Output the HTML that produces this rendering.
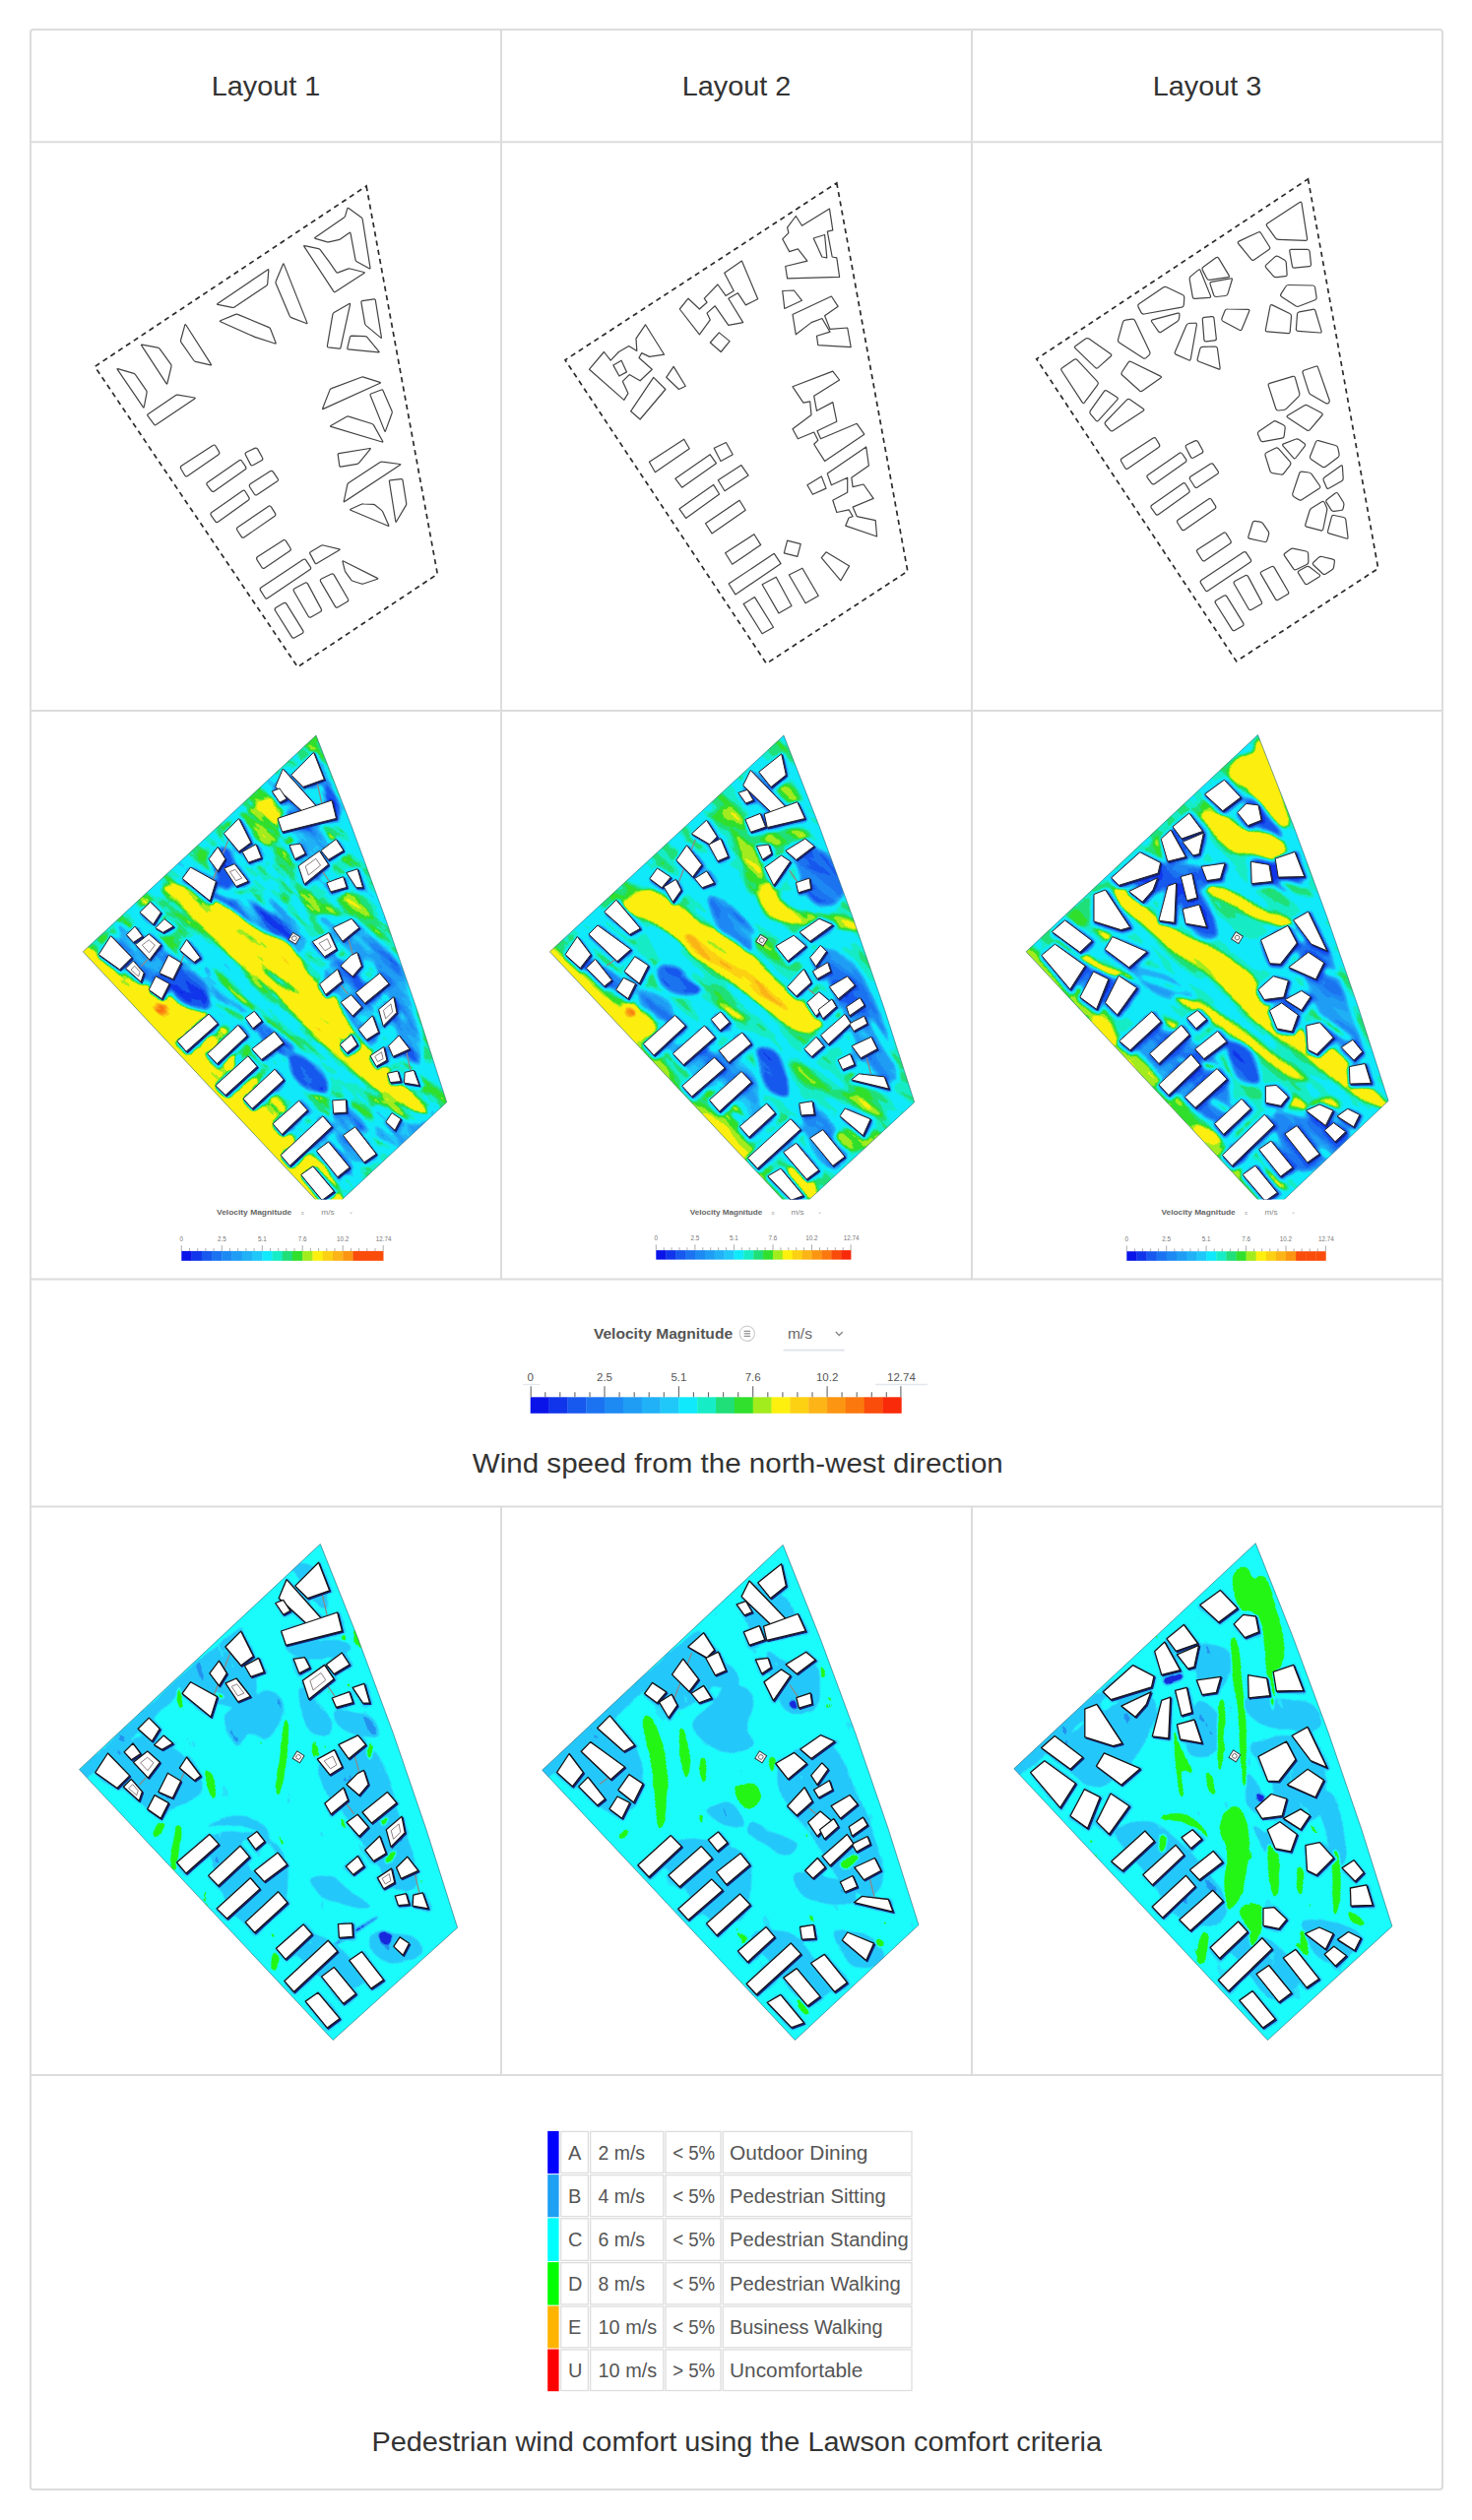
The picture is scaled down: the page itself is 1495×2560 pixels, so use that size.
<!DOCTYPE html>
<html lang="en"><head><meta charset="utf-8"><title>Wind comfort comparison of three layouts</title>
<style>html,body{margin:0;padding:0;background:#fff}svg{display:block}text{font-family:'Liberation Sans', sans-serif}</style>
</head><body>
<svg width="1495" height="2560" viewBox="0 0 1495 2560">
<rect width="1495" height="2560" fill="#fff"/>
<defs>
<filter id="fv1" filterUnits="userSpaceOnUse" x="-400" y="-400" width="2400" height="3400" color-interpolation-filters="sRGB">
<feGaussianBlur in="SourceGraphic" stdDeviation="2" result="b"/>
<feTurbulence type="fractalNoise" baseFrequency="0.014 0.06" numOctaves="4" seed="7" result="n"/>
<feColorMatrix in="n" type="matrix" values="1 0 0 0 0 1 0 0 0 0 1 0 0 0 0 0 0 0 0 1" result="g"/>
<feComposite in="b" in2="g" operator="arithmetic" k1="0" k2="1" k3="0.36" k4="-0.18" result="s"/>
<feComponentTransfer in="s" result="c"><feFuncR type="discrete" tableValues="0.043 0.043 0.063 0.063 0.090 0.090 0.106 0.114 0.122 0.125 0.122 0.059 0.059 0.059 0.086 0.125 0.188 0.635 0.992 0.992 0.992 0.992 0.992 0.992 0.992 0.988 0.984 0.984 0.980 0.980 0.976 0.976"/><feFuncG type="discrete" tableValues="0.078 0.078 0.208 0.208 0.345 0.345 0.451 0.537 0.616 0.694 0.784 0.914 0.914 0.914 0.929 0.875 0.878 0.925 0.941 0.941 0.941 0.941 0.941 0.941 0.820 0.706 0.584 0.471 0.298 0.298 0.165 0.165"/><feFuncB type="discrete" tableValues="0.910 0.910 0.918 0.918 0.933 0.933 0.945 0.953 0.957 0.965 0.973 0.984 0.984 0.984 0.776 0.471 0.173 0.118 0.059 0.059 0.059 0.059 0.059 0.059 0.075 0.090 0.071 0.059 0.043 0.043 0.035 0.035"/></feComponentTransfer>
<feGaussianBlur in="c" stdDeviation="0.45"/>
</filter>
<filter id="fv2" filterUnits="userSpaceOnUse" x="-400" y="-400" width="2400" height="3400" color-interpolation-filters="sRGB">
<feGaussianBlur in="SourceGraphic" stdDeviation="2.2" result="b"/>
<feTurbulence type="fractalNoise" baseFrequency="0.012 0.05" numOctaves="3" seed="21" result="n"/>
<feColorMatrix in="n" type="matrix" values="1 0 0 0 0 1 0 0 0 0 1 0 0 0 0 0 0 0 0 1" result="g"/>
<feComposite in="b" in2="g" operator="arithmetic" k1="0" k2="1" k3="0.26" k4="-0.13" result="s"/>
<feComponentTransfer in="s" result="c"><feFuncR type="discrete" tableValues="0.043 0.043 0.063 0.063 0.090 0.090 0.106 0.114 0.122 0.125 0.122 0.059 0.059 0.059 0.086 0.125 0.188 0.635 0.992 0.992 0.992 0.992 0.992 0.992 0.992 0.988 0.984 0.984 0.980 0.980 0.976 0.976"/><feFuncG type="discrete" tableValues="0.078 0.078 0.208 0.208 0.345 0.345 0.451 0.537 0.616 0.694 0.784 0.914 0.914 0.914 0.929 0.875 0.878 0.925 0.941 0.941 0.941 0.941 0.941 0.941 0.820 0.706 0.584 0.471 0.298 0.298 0.165 0.165"/><feFuncB type="discrete" tableValues="0.910 0.910 0.918 0.918 0.933 0.933 0.945 0.953 0.957 0.965 0.973 0.984 0.984 0.984 0.776 0.471 0.173 0.118 0.059 0.059 0.059 0.059 0.059 0.059 0.075 0.090 0.071 0.059 0.043 0.043 0.035 0.035"/></feComponentTransfer>
<feGaussianBlur in="c" stdDeviation="0.45"/>
</filter>
<filter id="fv3" filterUnits="userSpaceOnUse" x="-400" y="-400" width="2400" height="3400" color-interpolation-filters="sRGB">
<feGaussianBlur in="SourceGraphic" stdDeviation="2" result="b"/>
<feTurbulence type="fractalNoise" baseFrequency="0.012 0.05" numOctaves="3" seed="5" result="n"/>
<feColorMatrix in="n" type="matrix" values="1 0 0 0 0 1 0 0 0 0 1 0 0 0 0 0 0 0 0 1" result="g"/>
<feComposite in="b" in2="g" operator="arithmetic" k1="0" k2="1" k3="0.2" k4="-0.1" result="s"/>
<feComponentTransfer in="s" result="c"><feFuncR type="discrete" tableValues="0.043 0.043 0.063 0.063 0.090 0.090 0.106 0.114 0.122 0.125 0.122 0.059 0.059 0.059 0.086 0.125 0.188 0.635 0.992 0.992 0.992 0.992 0.992 0.992 0.992 0.988 0.984 0.984 0.980 0.980 0.976 0.976"/><feFuncG type="discrete" tableValues="0.078 0.078 0.208 0.208 0.345 0.345 0.451 0.537 0.616 0.694 0.784 0.914 0.914 0.914 0.929 0.875 0.878 0.925 0.941 0.941 0.941 0.941 0.941 0.941 0.820 0.706 0.584 0.471 0.298 0.298 0.165 0.165"/><feFuncB type="discrete" tableValues="0.910 0.910 0.918 0.918 0.933 0.933 0.945 0.953 0.957 0.965 0.973 0.984 0.984 0.984 0.776 0.471 0.173 0.118 0.059 0.059 0.059 0.059 0.059 0.059 0.075 0.090 0.071 0.059 0.043 0.043 0.035 0.035"/></feComponentTransfer>
<feGaussianBlur in="c" stdDeviation="0.45"/>
</filter>
<filter id="fl1" filterUnits="userSpaceOnUse" x="-400" y="-400" width="2400" height="3400" color-interpolation-filters="sRGB">
<feGaussianBlur in="SourceGraphic" stdDeviation="1.3" result="b"/>
<feTurbulence type="fractalNoise" baseFrequency="0.025 0.06" numOctaves="4" seed="3" result="n"/>
<feColorMatrix in="n" type="matrix" values="1 0 0 0 0 1 0 0 0 0 1 0 0 0 0 0 0 0 0 1" result="g"/>
<feComposite in="b" in2="g" operator="arithmetic" k1="0" k2="1" k3="0.34" k4="-0.17" result="s"/>
<feComponentTransfer in="s" result="c"><feFuncR type="discrete" tableValues="0.094 0.137 0.145 0.145 0.153 0.102 0.102 0.141 0.141 0.141"/><feFuncG type="discrete" tableValues="0.157 0.573 0.784 0.784 0.886 0.988 0.988 0.965 0.965 0.965"/><feFuncB type="discrete" tableValues="0.863 0.941 0.980 0.980 0.984 0.988 0.988 0.086 0.086 0.086"/></feComponentTransfer>
<feGaussianBlur in="c" stdDeviation="0.4"/>
</filter>
<filter id="fl2" filterUnits="userSpaceOnUse" x="-400" y="-400" width="2400" height="3400" color-interpolation-filters="sRGB">
<feGaussianBlur in="SourceGraphic" stdDeviation="1.3" result="b"/>
<feTurbulence type="fractalNoise" baseFrequency="0.025 0.06" numOctaves="4" seed="9" result="n"/>
<feColorMatrix in="n" type="matrix" values="1 0 0 0 0 1 0 0 0 0 1 0 0 0 0 0 0 0 0 1" result="g"/>
<feComposite in="b" in2="g" operator="arithmetic" k1="0" k2="1" k3="0.34" k4="-0.17" result="s"/>
<feComponentTransfer in="s" result="c"><feFuncR type="discrete" tableValues="0.094 0.137 0.145 0.145 0.153 0.102 0.102 0.141 0.141 0.141"/><feFuncG type="discrete" tableValues="0.157 0.573 0.784 0.784 0.886 0.988 0.988 0.965 0.965 0.965"/><feFuncB type="discrete" tableValues="0.863 0.941 0.980 0.980 0.984 0.988 0.988 0.086 0.086 0.086"/></feComponentTransfer>
<feGaussianBlur in="c" stdDeviation="0.4"/>
</filter>
<filter id="fl3" filterUnits="userSpaceOnUse" x="-400" y="-400" width="2400" height="3400" color-interpolation-filters="sRGB">
<feGaussianBlur in="SourceGraphic" stdDeviation="1.3" result="b"/>
<feTurbulence type="fractalNoise" baseFrequency="0.025 0.06" numOctaves="4" seed="13" result="n"/>
<feColorMatrix in="n" type="matrix" values="1 0 0 0 0 1 0 0 0 0 1 0 0 0 0 0 0 0 0 1" result="g"/>
<feComposite in="b" in2="g" operator="arithmetic" k1="0" k2="1" k3="0.34" k4="-0.17" result="s"/>
<feComponentTransfer in="s" result="c"><feFuncR type="discrete" tableValues="0.094 0.137 0.145 0.145 0.153 0.102 0.102 0.141 0.141 0.141"/><feFuncG type="discrete" tableValues="0.157 0.573 0.784 0.784 0.886 0.988 0.988 0.965 0.965 0.965"/><feFuncB type="discrete" tableValues="0.863 0.941 0.980 0.980 0.984 0.988 0.988 0.086 0.086 0.086"/></feComponentTransfer>
<feGaussianBlur in="c" stdDeviation="0.4"/>
</filter>
</defs>
<clipPath id="cpv1"><polygon points="321.0,747.1 357.0,839.2 391.1,932.1 423.4,1025.5 453.7,1119.7 333.0,1232.0 84.3,966.8"/></clipPath>
<clipPath id="crv1"><rect x="32" y="723" width="476" height="495.5"/></clipPath>
<g clip-path="url(#crv1)"><g clip-path="url(#cpv1)">
<g transform="rotate(42 337.6 980.3)" filter="url(#fv1)"><g transform="rotate(-42 337.6 980.3)">
<rect x="-276" y="387" width="1089" height="1205" fill="rgb(112,112,112)"/>
<path d="M128.4 929.8C134.4 920.6 160.9 901.7 177.1 887.6C193.4 873.5 212.3 856.2 225.8 845.4C239.4 834.6 251.3 824.3 258.3 822.7C265.3 821.0 272.4 828.6 268.1 835.7C263.7 842.7 245.9 853.5 232.3 864.9C218.8 876.2 202.0 890.9 186.9 903.8C171.7 916.8 151.1 938.5 141.4 942.8C131.7 947.1 122.5 939.0 128.4 929.8Z" fill="rgb(120,120,120)"/>
<path d="M225.8 838.9C228.0 834.3 249.7 824.3 258.3 819.4C267.0 814.5 272.7 808.1 277.8 809.7C282.9 811.3 288.1 822.1 289.2 829.2C290.2 836.2 288.3 846.7 284.3 851.9C280.2 857.0 271.3 860.8 264.8 860.0C258.3 859.2 251.8 850.5 245.3 847.0C238.8 843.5 223.7 843.5 225.8 838.9Z" fill="rgb(139,139,139)"/>
<path d="M287.5 855.1C288.6 852.3 314.1 845.9 323.3 845.4C332.5 844.9 343.8 849.1 342.7 851.9C341.7 854.7 326.0 861.7 316.8 862.3C307.6 862.8 286.5 858.0 287.5 855.1Z" fill="rgb(131,131,131)"/>
<path d="M277.8 861.6C279.4 857.3 287.0 858.9 290.8 864.9C294.6 870.8 300.5 888.7 300.5 897.4C300.5 906.0 294.0 917.9 290.8 916.8C287.5 915.8 283.2 900.1 281.0 890.9C278.9 881.7 276.2 866.0 277.8 861.6Z" fill="rgb(131,131,131)"/>
<path d="M300.5 897.4C301.6 894.6 312.7 901.7 316.8 907.1C320.8 912.5 326.0 927.1 324.9 929.8C323.8 932.5 314.3 928.7 310.3 923.3C306.2 917.9 299.4 900.1 300.5 897.4Z" fill="rgb(139,139,139)"/>
<path d="M342.7 913.6C342.7 909.8 361.1 906.0 368.7 908.7C376.3 911.4 388.2 926.0 388.2 929.8C388.2 933.6 376.3 934.2 368.7 931.4C361.1 928.7 342.7 917.4 342.7 913.6Z" fill="rgb(135,135,135)"/>
<path d="M86.2 965.5C88.4 959.1 108.4 944.4 115.4 942.8C122.5 941.2 130.6 949.3 128.4 955.8C126.3 962.3 109.5 980.2 102.4 981.8C95.4 983.4 84.0 972.0 86.2 965.5Z" fill="rgb(131,131,131)"/>
<path d="M326.4 773.0C327.5 771.6 332.8 783.5 336.0 792.3C339.3 801.0 345.5 819.2 345.7 825.4C345.9 831.6 340.2 833.7 337.4 829.5C334.7 825.4 331.0 810.0 329.1 800.6C327.3 791.1 325.2 774.3 326.4 773.0Z" fill="rgb(44,44,44)"/>
<path d="M291.4 823.8C293.7 819.2 308.9 826.6 316.3 832.1C323.6 837.6 334.7 850.5 335.6 856.9C336.5 863.4 327.3 870.3 321.8 870.7C316.3 871.2 307.5 867.5 302.5 859.7C297.4 851.9 289.1 828.4 291.4 823.8Z" fill="rgb(70,70,70)"/>
<path d="M215.2 867.7C217.0 862.2 227.1 858.5 231.7 862.2C236.3 865.9 242.8 882.9 242.8 889.8C242.8 896.7 235.4 902.7 231.7 903.6C228.1 904.5 223.5 901.3 220.7 895.3C217.9 889.3 213.3 873.2 215.2 867.7Z" fill="rgb(44,44,44)"/>
<path d="M232.8 914.8C236.5 910.6 251.2 906.5 260.4 909.3C269.6 912.0 279.7 924.0 288.0 931.3C296.3 938.7 307.3 947.0 310.1 953.4C312.8 959.9 309.1 969.1 304.5 970.0C299.9 970.9 289.8 962.6 282.5 958.9C275.1 955.3 267.7 952.0 260.4 947.9C253.0 943.8 242.9 939.6 238.3 934.1C233.7 928.6 229.1 918.9 232.8 914.8Z" fill="rgb(77,77,77)"/>
<path d="M255.1 916.8C256.1 914.1 276.7 926.6 284.3 933.1C291.9 939.6 301.6 953.1 300.5 955.8C299.4 958.5 285.4 955.8 277.8 949.3C270.2 942.8 254.0 919.5 255.1 916.8Z" fill="rgb(31,31,31)"/>
<path d="M212.8 907.1C212.8 903.8 231.2 910.9 238.8 916.8C246.4 922.8 258.3 939.6 258.3 942.8C258.3 946.1 246.4 942.3 238.8 936.3C231.2 930.4 212.8 910.3 212.8 907.1Z" fill="rgb(33,33,33)"/>
<path d="M322.8 933.1C324.6 928.5 345.8 929.5 355.9 933.1C366.0 936.8 379.8 947.9 383.5 955.2C387.2 962.6 384.4 976.4 378.0 977.3C371.6 978.2 354.1 968.1 344.9 960.7C335.7 953.4 321.0 937.7 322.8 933.1Z" fill="rgb(70,70,70)"/>
<path d="M376.8 959.4C377.7 951.1 389.2 955.7 396.1 964.9C403.0 974.1 412.6 997.1 418.2 1014.6C423.7 1032.1 430.1 1059.7 429.2 1069.8C428.3 1079.9 419.1 1084.5 412.6 1075.3C406.2 1066.1 396.5 1033.9 390.6 1014.6C384.6 995.3 375.8 967.7 376.8 959.4Z" fill="rgb(64,64,64)"/>
<path d="M328.3 987.6C330.2 978.4 346.7 967.4 355.9 976.6C365.1 985.8 380.8 1028.1 383.5 1042.8C386.3 1057.6 378.9 1066.8 372.5 1064.9C366.0 1063.1 352.2 1044.7 344.9 1031.8C337.5 1018.9 326.5 996.8 328.3 987.6Z" fill="rgb(70,70,70)"/>
<path d="M119.2 939.7C121.1 933.7 134.9 948.4 144.1 953.5C153.3 958.5 166.1 965.4 174.4 970.0C182.7 974.6 191.4 976.5 193.7 981.1C196.0 985.7 193.7 993.0 188.2 997.6C182.7 1002.2 169.8 1010.1 160.6 1008.7C151.4 1007.3 139.9 1000.9 133.0 989.4C126.1 977.9 117.4 945.7 119.2 939.7Z" fill="rgb(70,70,70)"/>
<path d="M174.2 993.8C175.6 987.3 187.6 984.1 193.6 985.5C199.5 986.9 207.4 995.1 210.1 1002.0C212.9 1008.9 214.3 1023.2 210.1 1026.9C206.0 1030.6 191.3 1029.6 185.3 1024.1C179.3 1018.6 172.9 1000.2 174.2 993.8Z" fill="rgb(50,50,50)"/>
<path d="M206.4 981.8C208.5 978.0 230.2 993.7 238.8 1001.3C247.5 1008.8 260.5 1023.5 258.3 1027.2C256.1 1031.0 234.5 1031.6 225.8 1024.0C217.2 1016.4 204.2 985.6 206.4 981.8Z" fill="rgb(66,66,66)"/>
<path d="M294.1 1069.9C296.4 1067.2 304.7 1071.8 310.7 1075.5C316.7 1079.1 326.3 1086.5 330.0 1092.0C333.7 1097.5 335.5 1105.8 332.8 1108.6C330.0 1111.3 319.4 1111.3 313.4 1108.6C307.5 1105.8 300.1 1098.5 296.9 1092.0C293.7 1085.6 291.8 1072.7 294.1 1069.9Z" fill="rgb(26,26,26)"/>
<path d="M258.3 1033.7C261.6 1031.0 284.3 1040.2 290.8 1046.7C297.3 1053.2 300.5 1070.0 297.3 1072.7C294.0 1075.4 277.8 1069.5 271.3 1063.0C264.8 1056.5 255.1 1036.4 258.3 1033.7Z" fill="rgb(48,48,48)"/>
<path d="M336.8 1131.7C337.7 1123.9 349.7 1122.5 356.1 1126.2C362.6 1129.9 372.7 1144.6 375.4 1153.8C378.2 1163.0 376.8 1178.2 372.7 1181.4C368.5 1184.6 356.6 1181.4 350.6 1173.1C344.6 1164.8 335.9 1139.5 336.8 1131.7Z" fill="rgb(64,64,64)"/>
<path d="M381.0 1124.2C385.6 1117.8 409.0 1133.0 419.6 1132.5C430.2 1132.1 442.6 1118.3 444.4 1121.5C446.3 1124.7 439.4 1143.6 430.6 1151.8C421.9 1160.1 400.3 1175.8 392.0 1171.2C383.7 1166.6 376.4 1130.7 381.0 1124.2Z" fill="rgb(81,81,81)"/>
<path d="M238.8 1076.0C238.8 1070.0 251.8 1073.2 258.3 1079.2C264.8 1085.2 277.8 1105.7 277.8 1111.7C277.8 1117.6 264.8 1120.9 258.3 1114.9C251.8 1109.0 238.8 1081.9 238.8 1076.0Z" fill="rgb(55,55,55)"/>
<path d="M165.8 900.4C170.1 899.1 185.3 898.3 193.8 900.4C202.3 902.5 209.6 908.9 216.8 913.2C224.1 917.5 229.6 920.9 237.3 926.0C245.0 931.1 254.3 939.2 262.8 943.9C271.3 948.6 281.9 949.9 288.3 954.1C294.7 958.4 296.8 963.5 301.1 969.4C305.4 975.3 309.2 984.3 313.9 989.8C318.6 995.3 324.5 998.8 329.2 1002.6C333.9 1006.4 338.6 1008.5 342.0 1012.8C345.4 1017.0 346.6 1022.6 349.6 1028.1C352.6 1033.6 355.6 1039.7 359.9 1046.0C364.2 1052.3 368.3 1057.8 375.2 1066.0C382.1 1074.2 392.5 1086.2 401.2 1095.4C409.9 1104.6 421.5 1115.3 427.2 1121.4C432.9 1127.5 437.5 1131.2 435.3 1131.8C433.1 1132.3 422.1 1128.6 414.2 1124.7C406.3 1120.8 396.9 1114.2 388.2 1108.4C379.5 1102.6 370.9 1097.1 362.2 1090.0C353.5 1082.9 344.2 1073.8 336.2 1066.0C328.1 1058.2 320.6 1050.6 313.9 1043.4C307.2 1036.2 302.0 1029.4 296.0 1023.0C290.0 1016.6 284.1 1010.6 278.1 1005.1C272.1 999.6 266.6 994.9 260.2 989.8C253.8 984.7 246.2 980.0 239.8 974.5C233.4 969.0 227.9 962.6 221.9 956.6C215.9 950.6 209.9 944.2 204.0 938.7C198.1 933.2 192.1 928.5 186.2 923.4C180.2 918.3 171.7 911.9 168.3 908.1C164.9 904.3 161.6 901.7 165.8 900.4Z" fill="rgb(167,167,167)"/>
<path d="M225.8 929.8C225.5 930.3 233.6 937.5 237.7 941.0C241.8 944.6 246.1 947.9 250.5 951.1C254.8 954.4 259.2 957.6 263.7 960.5C268.3 963.5 277.4 969.3 277.8 968.8C278.2 968.3 270.0 961.1 265.9 957.6C261.8 954.0 257.5 950.7 253.2 947.5C248.8 944.2 244.5 941.1 239.9 938.1C235.4 935.2 226.2 929.3 225.8 929.8Z" fill="rgb(120,120,120)"/>
<path d="M258.3 978.5C258.0 979.0 266.3 985.5 270.4 988.7C274.6 992.0 278.9 995.0 283.2 998.0C287.5 1001.0 291.9 1003.9 296.4 1006.6C300.9 1009.3 310.0 1014.7 310.3 1014.3C310.6 1013.8 302.3 1007.3 298.2 1004.0C294.0 1000.8 289.7 997.8 285.4 994.8C281.1 991.8 276.7 988.9 272.2 986.2C267.7 983.5 258.6 978.1 258.3 978.5Z" fill="rgb(112,112,112)"/>
<path d="M316.8 1024.0C316.4 1024.3 322.3 1031.9 325.4 1035.6C328.4 1039.3 331.6 1042.9 334.8 1046.4C338.1 1049.9 341.4 1053.4 344.8 1056.7C348.3 1060.0 355.3 1066.6 355.7 1066.2C356.1 1065.9 350.1 1058.3 347.1 1054.6C344.1 1050.9 340.9 1047.3 337.7 1043.8C334.4 1040.3 331.1 1036.8 327.6 1033.5C324.2 1030.2 317.1 1023.6 316.8 1024.0Z" fill="rgb(128,128,128)"/>
<path d="M212.8 981.8C214.5 980.2 234.5 993.7 245.3 1001.3C256.1 1008.8 267.0 1018.0 277.8 1027.2C288.6 1036.4 299.4 1046.7 310.3 1056.5C321.1 1066.2 339.0 1080.3 342.7 1085.7C346.5 1091.1 340.0 1092.7 333.0 1088.9C326.0 1085.2 311.3 1071.6 300.5 1063.0C289.7 1054.3 278.9 1045.6 268.1 1037.0C257.2 1028.3 244.8 1020.2 235.6 1011.0C226.4 1001.8 211.2 983.4 212.8 981.8Z" fill="rgb(133,133,133)"/>
<path d="M385.0 1111.7C385.0 1109.2 400.1 1116.5 407.7 1121.4C415.3 1126.3 430.4 1138.5 430.4 1140.9C430.4 1143.3 415.3 1140.9 407.7 1136.0C400.1 1131.2 385.0 1114.1 385.0 1111.7Z" fill="rgb(139,139,139)"/>
<path d="M238.8 884.4C238.4 884.8 244.2 892.9 247.2 896.9C250.1 900.9 253.3 904.8 256.6 908.6C259.8 912.4 263.1 916.1 266.7 919.6C270.2 923.2 277.3 930.2 277.8 929.8C278.3 929.4 272.4 921.3 269.4 917.3C266.5 913.2 263.3 909.4 260.0 905.6C256.8 901.8 253.5 898.1 249.9 894.5C246.4 891.0 239.3 884.0 238.8 884.4Z" fill="rgb(131,131,131)"/>
<path d="M268.2 907.3C267.8 907.7 273.7 914.7 276.6 918.2C279.6 921.6 282.8 924.9 286.0 928.1C289.2 931.4 292.5 934.5 295.9 937.5C299.4 940.4 306.4 946.3 306.9 945.9C307.3 945.5 301.4 938.5 298.4 935.0C295.5 931.5 292.3 928.2 289.1 925.0C285.9 921.8 282.6 918.6 279.1 915.7C275.6 912.7 268.6 906.8 268.2 907.3Z" fill="rgb(44,44,44)"/>
<path d="M323.3 890.9C323.0 891.4 330.1 896.4 333.7 898.9C337.3 901.4 341.1 903.7 344.9 905.8C348.6 908.0 352.5 910.1 356.4 911.9C360.4 913.8 368.4 917.4 368.7 916.8C369.0 916.3 361.9 911.3 358.3 908.8C354.7 906.3 350.9 904.0 347.1 901.9C343.3 899.7 339.5 897.6 335.5 895.8C331.5 893.9 323.6 890.3 323.3 890.9Z" fill="rgb(131,131,131)"/>
<path d="M355.7 916.8C355.3 917.4 362.9 923.6 366.8 926.7C370.6 929.8 374.6 932.5 378.6 935.2C382.7 937.9 386.8 940.6 391.1 942.9C395.4 945.3 404.1 949.9 404.4 949.3C404.8 948.7 397.2 942.5 393.4 939.5C389.6 936.4 385.6 933.6 381.5 930.9C377.5 928.2 373.4 925.6 369.1 923.2C364.8 920.9 356.1 916.3 355.7 916.8Z" fill="rgb(135,135,135)"/>
<path d="M319.7 952.2C319.3 952.6 324.3 958.6 326.9 961.6C329.4 964.6 332.1 967.4 334.9 970.2C337.6 972.9 340.4 975.6 343.4 978.2C346.4 980.7 352.4 985.7 352.8 985.4C353.2 985.0 348.2 979.0 345.6 976.0C343.1 973.0 340.4 970.2 337.6 967.4C334.9 964.7 332.0 962.0 329.1 959.4C326.1 956.9 320.0 951.9 319.7 952.2Z" fill="rgb(44,44,44)"/>
<path d="M372.0 988.3C371.5 988.7 377.9 997.8 381.1 1002.4C384.3 1007.0 387.8 1011.4 391.3 1015.7C394.8 1020.0 398.4 1024.3 402.2 1028.4C406.0 1032.5 413.7 1040.6 414.2 1040.2C414.6 1039.9 408.3 1030.7 405.0 1026.1C401.8 1021.5 398.4 1017.2 394.8 1012.8C391.3 1008.5 387.7 1004.2 383.9 1000.1C380.1 996.0 372.4 987.9 372.0 988.3Z" fill="rgb(131,131,131)"/>
<path d="M394.7 1085.7C394.4 1086.2 401.6 1091.3 405.2 1093.8C408.8 1096.3 412.5 1098.5 416.3 1100.7C420.1 1102.8 423.9 1104.9 427.9 1106.8C431.9 1108.6 439.9 1112.2 440.2 1111.7C440.5 1111.1 433.3 1106.1 429.7 1103.6C426.1 1101.1 422.3 1098.9 418.6 1096.7C414.8 1094.5 410.9 1092.4 407.0 1090.6C403.0 1088.8 395.0 1085.2 394.7 1085.7Z" fill="rgb(131,131,131)"/>
<path d="M212.8 1014.3C212.5 1014.8 219.7 1019.8 223.3 1022.3C226.9 1024.8 230.7 1027.1 234.5 1029.2C238.2 1031.4 242.1 1033.5 246.0 1035.3C250.0 1037.2 258.0 1040.8 258.3 1040.2C258.6 1039.7 251.4 1034.7 247.8 1032.2C244.2 1029.7 240.5 1027.4 236.7 1025.3C232.9 1023.1 229.1 1021.0 225.1 1019.2C221.1 1017.3 213.1 1013.7 212.8 1014.3Z" fill="rgb(135,135,135)"/>
<path d="M355.7 1144.1C355.4 1144.8 363.1 1149.9 366.9 1152.5C370.8 1155.0 374.8 1157.3 378.9 1159.4C382.9 1161.6 387.0 1163.7 391.3 1165.5C395.5 1167.2 404.1 1170.7 404.4 1170.1C404.8 1169.5 397.1 1164.3 393.2 1161.8C389.4 1159.2 385.4 1157.0 381.3 1154.8C377.2 1152.7 373.1 1150.6 368.9 1148.8C364.6 1147.0 356.1 1143.5 355.7 1144.1Z" fill="rgb(131,131,131)"/>
<path d="M128.4 949.3C128.2 949.8 134.4 953.7 137.5 955.6C140.6 957.5 143.8 959.2 147.0 960.8C150.3 962.4 153.6 964.0 156.9 965.3C160.3 966.6 167.2 969.3 167.4 968.8C167.6 968.3 161.4 964.4 158.3 962.5C155.2 960.6 152.0 958.9 148.8 957.3C145.5 955.7 142.2 954.1 138.9 952.8C135.5 951.5 128.7 948.8 128.4 949.3Z" fill="rgb(131,131,131)"/>
<path d="M70.0 959.1C36.4 916.3 97.6 972.0 108.9 978.5C120.3 985.0 129.5 993.7 138.2 998.0C146.8 1002.3 152.8 1000.7 160.9 1004.5C169.0 1008.3 178.2 1016.4 186.9 1020.7C195.5 1025.1 206.4 1026.2 212.8 1030.5C219.3 1034.8 221.5 1040.8 225.8 1046.7C230.2 1052.7 236.7 1059.7 238.8 1066.2C241.0 1072.7 235.6 1080.3 238.8 1085.7C242.1 1091.1 254.0 1092.7 258.3 1098.7C262.6 1104.6 259.9 1115.5 264.8 1121.4C269.7 1127.4 282.1 1128.5 287.5 1134.4C292.9 1140.4 292.9 1150.6 297.3 1157.1C301.6 1163.6 309.2 1168.0 313.5 1173.4C317.8 1178.8 318.9 1184.7 323.3 1189.6C327.6 1194.5 335.2 1196.1 339.5 1202.6C343.8 1209.1 354.1 1223.2 349.2 1228.6C344.4 1234.0 356.8 1280.0 310.3 1235.1C263.7 1190.1 103.5 1001.8 70.0 959.1Z" fill="rgb(167,167,167)"/>
<path d="M212.8 1046.7C212.8 1041.3 221.5 1038.1 225.8 1040.2C230.2 1042.4 238.8 1054.3 238.8 1059.7C238.8 1065.1 230.2 1074.9 225.8 1072.7C221.5 1070.5 212.8 1052.1 212.8 1046.7Z" fill="rgb(139,139,139)"/>
<path d="M242.1 1079.2C242.1 1073.8 253.4 1069.5 258.3 1072.7C263.2 1076.0 271.3 1093.3 271.3 1098.7C271.3 1104.1 263.2 1108.4 258.3 1105.2C253.4 1101.9 242.1 1084.6 242.1 1079.2Z" fill="rgb(135,135,135)"/>
<path d="M264.8 1118.2C265.3 1113.3 276.7 1109.5 281.0 1111.7C285.4 1113.8 291.3 1126.3 290.8 1131.2C290.2 1136.0 282.1 1143.1 277.8 1140.9C273.5 1138.7 264.3 1123.0 264.8 1118.2Z" fill="rgb(139,139,139)"/>
<path d="M157.6 1020.1C158.9 1018.8 165.5 1019.7 167.4 1021.4C169.2 1023.1 170.0 1029.2 168.7 1030.5C167.4 1031.8 161.4 1030.9 159.6 1029.2C157.8 1027.5 156.3 1021.4 157.6 1020.1Z" fill="rgb(201,201,201)"/>
<path d="M310.3 1176.6C311.3 1173.4 324.3 1177.7 329.7 1183.1C335.2 1188.5 343.8 1205.8 342.7 1209.1C341.7 1212.3 328.7 1208.0 323.3 1202.6C317.8 1197.2 309.2 1179.9 310.3 1176.6Z" fill="rgb(153,153,153)"/>
<g fill="rgb(44,44,44)" stroke="rgb(44,44,44)" stroke-width="3" stroke-linejoin="round" transform="translate(1.5 1.5)">
<polygon points="295.7,787.2 318.6,764.3 329.3,791.7 307.9,799.4"/>
<polygon points="279.7,799.3 287.3,781.0 325.5,823.7 314.8,831.3"/>
<polygon points="282.0,831.4 337.0,813.0 341.5,831.4 286.6,845.1"/>
<polygon points="276.3,803.9 284.0,800.9 291.0,811.6 284.0,815.2"/>
<polygon points="227.4,846.8 242.6,831.5 254.9,855.9 242.6,865.1"/>
<polygon points="246.2,865.4 260.0,857.7 265.5,871.5 252.3,876.1"/>
<polygon points="212.1,872.7 221.2,860.4 228.9,872.7 221.2,884.9"/>
<polygon points="227.6,882.2 238.2,877.6 252.0,895.3 239.8,900.5"/>
<polygon points="185.2,892.4 193.5,881.1 219.4,895.4 213.3,915.3"/>
<polygon points="294.0,858.6 305.0,857.1 310.2,867.2 299.5,872.7"/>
<polygon points="326.0,864.1 341.3,852.5 348.9,864.1 333.6,873.3"/>
<polygon points="303.0,879.8 324.4,864.5 333.5,878.2 309.1,898.1"/>
<polygon points="351.8,886.5 363.1,882.8 368.6,901.7 361.9,901.7"/>
<polygon points="331.8,896.8 348.6,890.7 352.2,901.4 335.8,905.9"/>
<polygon points="142.0,926.8 152.7,916.2 163.4,926.8 155.7,939.0"/>
<polygon points="157.9,942.7 167.0,933.5 176.2,941.1 165.5,947.2"/>
<polygon points="128.5,949.7 137.1,941.1 144.7,951.2 135.5,957.3"/>
<polygon points="137.6,959.6 151.3,948.9 163.5,959.6 151.9,974.9"/>
<polygon points="100.3,969.7 112.5,950.7 133.9,972.7 121.6,984.9"/>
<polygon points="127.8,983.7 135.4,976.1 146.1,988.3 143.1,997.5"/>
<polygon points="182.6,965.2 189.6,954.5 203.3,972.9 197.2,977.4"/>
<polygon points="162.0,988.6 171.1,970.3 184.0,977.9 175.7,994.7"/>
<polygon points="151.2,1005.5 158.2,991.8 172.0,999.4 164.3,1014.7"/>
<polygon points="338.1,942.5 357.1,933.3 364.7,942.5 347.9,956.2"/>
<polygon points="317.3,956.6 334.1,947.4 341.8,964.2 329.5,971.9"/>
<polygon points="345.9,981.2 356.6,970.6 362.7,967.5 367.3,981.2 358.1,991.9"/>
<polygon points="324.6,999.7 342.9,984.5 347.5,996.7 330.7,1010.4"/>
<polygon points="361.3,1008.5 385.7,988.6 394.9,999.3 370.5,1019.2"/>
<polygon points="346.0,1018.3 356.7,1010.7 367.4,1022.9 358.2,1032.0"/>
<polygon points="384.6,1025.5 399.9,1012.7 402.9,1028.5 389.2,1042.3"/>
<polygon points="364.0,1045.6 378.4,1031.8 384.5,1048.6 372.2,1056.2"/>
<polygon points="345.3,1061.3 356.9,1051.2 363.0,1061.3 352.3,1069.5"/>
<polygon points="376.1,1072.6 389.8,1063.4 392.9,1077.1 382.2,1083.3"/>
<polygon points="394.6,1062.6 405.3,1051.9 416.0,1065.7 399.2,1073.3"/>
<polygon points="393.4,1090.4 404.0,1088.0 407.1,1098.6 396.4,1099.6"/>
<polygon points="411.1,1089.4 420.3,1087.3 425.8,1102.6 410.5,1100.1"/>
<polygon points="337.7,1117.9 351.4,1117.0 352.0,1130.1 338.6,1131.0"/>
<polygon points="391.9,1139.8 398.0,1130.6 407.1,1136.7 401.0,1148.3"/>
<polygon points="179.9,1057.5 212.0,1030.1 221.1,1039.8 189.1,1068.2"/>
<polygon points="249.2,1034.0 258.3,1027.3 266.0,1037.1 256.8,1044.7"/>
<polygon points="210.7,1070.4 241.9,1041.4 251.0,1052.1 220.5,1080.5"/>
<polygon points="255.8,1065.7 278.7,1048.0 287.9,1059.6 265.6,1076.4"/>
<polygon points="218.9,1102.7 251.9,1072.8 261.1,1083.5 229.0,1112.5"/>
<polygon points="247.0,1116.1 279.0,1086.2 288.2,1096.9 256.1,1126.2"/>
<polygon points="277.1,1141.6 303.7,1118.1 312.2,1127.8 286.3,1152.3"/>
<polygon points="285.1,1173.5 327.9,1133.8 337.0,1144.5 294.3,1184.2"/>
<polygon points="321.4,1169.1 333.6,1160.0 355.0,1185.9 342.8,1195.7"/>
<polygon points="348.5,1153.4 360.7,1144.8 382.1,1172.3 369.9,1180.8"/>
<polygon points="305.7,1193.4 317.9,1184.8 339.3,1210.2 327.1,1219.3"/>
</g>
</g></g>
<g stroke="#8a8a8a" stroke-width="1.3">
<line x1="233.2" y1="849.8" x2="216.3" y2="894.1"/>
<line x1="143.3" y1="981.6" x2="151.9" y2="972.5"/>
<line x1="183.3" y1="978.8" x2="187.2" y2="969.1"/>
<line x1="326.8" y1="884.1" x2="336.2" y2="897.8"/>
<line x1="352.4" y1="948.3" x2="358.1" y2="969.1"/>
<line x1="345.3" y1="999.6" x2="353.3" y2="1010.2"/>
<line x1="321.1" y1="791.3" x2="326.8" y2="815.6"/>
<line x1="412.4" y1="1067.0" x2="417.2" y2="1088.4"/>
</g>
<g fill="#14227a" stroke="#14227a" stroke-width="1.1" stroke-linejoin="round" transform="translate(1.2 1.3)">
<polygon points="295.7,787.2 318.6,764.3 329.3,791.7 307.9,799.4"/>
<polygon points="279.7,799.3 287.3,781.0 325.5,823.7 314.8,831.3"/>
<polygon points="282.0,831.4 337.0,813.0 341.5,831.4 286.6,845.1"/>
<polygon points="276.3,803.9 284.0,800.9 291.0,811.6 284.0,815.2"/>
<polygon points="227.4,846.8 242.6,831.5 254.9,855.9 242.6,865.1"/>
<polygon points="246.2,865.4 260.0,857.7 265.5,871.5 252.3,876.1"/>
<polygon points="212.1,872.7 221.2,860.4 228.9,872.7 221.2,884.9"/>
<polygon points="227.6,882.2 238.2,877.6 252.0,895.3 239.8,900.5"/>
<polygon points="185.2,892.4 193.5,881.1 219.4,895.4 213.3,915.3"/>
<polygon points="294.0,858.6 305.0,857.1 310.2,867.2 299.5,872.7"/>
<polygon points="326.0,864.1 341.3,852.5 348.9,864.1 333.6,873.3"/>
<polygon points="303.0,879.8 324.4,864.5 333.5,878.2 309.1,898.1"/>
<polygon points="351.8,886.5 363.1,882.8 368.6,901.7 361.9,901.7"/>
<polygon points="331.8,896.8 348.6,890.7 352.2,901.4 335.8,905.9"/>
<polygon points="142.0,926.8 152.7,916.2 163.4,926.8 155.7,939.0"/>
<polygon points="157.9,942.7 167.0,933.5 176.2,941.1 165.5,947.2"/>
<polygon points="128.5,949.7 137.1,941.1 144.7,951.2 135.5,957.3"/>
<polygon points="137.6,959.6 151.3,948.9 163.5,959.6 151.9,974.9"/>
<polygon points="100.3,969.7 112.5,950.7 133.9,972.7 121.6,984.9"/>
<polygon points="127.8,983.7 135.4,976.1 146.1,988.3 143.1,997.5"/>
<polygon points="182.6,965.2 189.6,954.5 203.3,972.9 197.2,977.4"/>
<polygon points="162.0,988.6 171.1,970.3 184.0,977.9 175.7,994.7"/>
<polygon points="151.2,1005.5 158.2,991.8 172.0,999.4 164.3,1014.7"/>
<polygon points="338.1,942.5 357.1,933.3 364.7,942.5 347.9,956.2"/>
<polygon points="317.3,956.6 334.1,947.4 341.8,964.2 329.5,971.9"/>
<polygon points="345.9,981.2 356.6,970.6 362.7,967.5 367.3,981.2 358.1,991.9"/>
<polygon points="324.6,999.7 342.9,984.5 347.5,996.7 330.7,1010.4"/>
<polygon points="361.3,1008.5 385.7,988.6 394.9,999.3 370.5,1019.2"/>
<polygon points="346.0,1018.3 356.7,1010.7 367.4,1022.9 358.2,1032.0"/>
<polygon points="384.6,1025.5 399.9,1012.7 402.9,1028.5 389.2,1042.3"/>
<polygon points="364.0,1045.6 378.4,1031.8 384.5,1048.6 372.2,1056.2"/>
<polygon points="345.3,1061.3 356.9,1051.2 363.0,1061.3 352.3,1069.5"/>
<polygon points="376.1,1072.6 389.8,1063.4 392.9,1077.1 382.2,1083.3"/>
<polygon points="394.6,1062.6 405.3,1051.9 416.0,1065.7 399.2,1073.3"/>
<polygon points="393.4,1090.4 404.0,1088.0 407.1,1098.6 396.4,1099.6"/>
<polygon points="411.1,1089.4 420.3,1087.3 425.8,1102.6 410.5,1100.1"/>
<polygon points="337.7,1117.9 351.4,1117.0 352.0,1130.1 338.6,1131.0"/>
<polygon points="391.9,1139.8 398.0,1130.6 407.1,1136.7 401.0,1148.3"/>
<polygon points="179.9,1057.5 212.0,1030.1 221.1,1039.8 189.1,1068.2"/>
<polygon points="249.2,1034.0 258.3,1027.3 266.0,1037.1 256.8,1044.7"/>
<polygon points="210.7,1070.4 241.9,1041.4 251.0,1052.1 220.5,1080.5"/>
<polygon points="255.8,1065.7 278.7,1048.0 287.9,1059.6 265.6,1076.4"/>
<polygon points="218.9,1102.7 251.9,1072.8 261.1,1083.5 229.0,1112.5"/>
<polygon points="247.0,1116.1 279.0,1086.2 288.2,1096.9 256.1,1126.2"/>
<polygon points="277.1,1141.6 303.7,1118.1 312.2,1127.8 286.3,1152.3"/>
<polygon points="285.1,1173.5 327.9,1133.8 337.0,1144.5 294.3,1184.2"/>
<polygon points="321.4,1169.1 333.6,1160.0 355.0,1185.9 342.8,1195.7"/>
<polygon points="348.5,1153.4 360.7,1144.8 382.1,1172.3 369.9,1180.8"/>
<polygon points="305.7,1193.4 317.9,1184.8 339.3,1210.2 327.1,1219.3"/>
</g>
<g fill="#fff" stroke="#222" stroke-width="1" stroke-linejoin="round">
<polygon points="295.7,787.2 318.6,764.3 329.3,791.7 307.9,799.4"/>
<polygon points="279.7,799.3 287.3,781.0 325.5,823.7 314.8,831.3"/>
<polygon points="282.0,831.4 337.0,813.0 341.5,831.4 286.6,845.1"/>
<polygon points="276.3,803.9 284.0,800.9 291.0,811.6 284.0,815.2"/>
<polygon points="227.4,846.8 242.6,831.5 254.9,855.9 242.6,865.1"/>
<polygon points="246.2,865.4 260.0,857.7 265.5,871.5 252.3,876.1"/>
<polygon points="212.1,872.7 221.2,860.4 228.9,872.7 221.2,884.9"/>
<polygon points="227.6,882.2 238.2,877.6 252.0,895.3 239.8,900.5"/>
<polygon points="185.2,892.4 193.5,881.1 219.4,895.4 213.3,915.3"/>
<polygon points="294.0,858.6 305.0,857.1 310.2,867.2 299.5,872.7"/>
<polygon points="326.0,864.1 341.3,852.5 348.9,864.1 333.6,873.3"/>
<polygon points="303.0,879.8 324.4,864.5 333.5,878.2 309.1,898.1"/>
<polygon points="351.8,886.5 363.1,882.8 368.6,901.7 361.9,901.7"/>
<polygon points="331.8,896.8 348.6,890.7 352.2,901.4 335.8,905.9"/>
<polygon points="142.0,926.8 152.7,916.2 163.4,926.8 155.7,939.0"/>
<polygon points="157.9,942.7 167.0,933.5 176.2,941.1 165.5,947.2"/>
<polygon points="128.5,949.7 137.1,941.1 144.7,951.2 135.5,957.3"/>
<polygon points="137.6,959.6 151.3,948.9 163.5,959.6 151.9,974.9"/>
<polygon points="100.3,969.7 112.5,950.7 133.9,972.7 121.6,984.9"/>
<polygon points="127.8,983.7 135.4,976.1 146.1,988.3 143.1,997.5"/>
<polygon points="182.6,965.2 189.6,954.5 203.3,972.9 197.2,977.4"/>
<polygon points="162.0,988.6 171.1,970.3 184.0,977.9 175.7,994.7"/>
<polygon points="151.2,1005.5 158.2,991.8 172.0,999.4 164.3,1014.7"/>
<polygon points="338.1,942.5 357.1,933.3 364.7,942.5 347.9,956.2"/>
<polygon points="317.3,956.6 334.1,947.4 341.8,964.2 329.5,971.9"/>
<polygon points="345.9,981.2 356.6,970.6 362.7,967.5 367.3,981.2 358.1,991.9"/>
<polygon points="324.6,999.7 342.9,984.5 347.5,996.7 330.7,1010.4"/>
<polygon points="361.3,1008.5 385.7,988.6 394.9,999.3 370.5,1019.2"/>
<polygon points="346.0,1018.3 356.7,1010.7 367.4,1022.9 358.2,1032.0"/>
<polygon points="384.6,1025.5 399.9,1012.7 402.9,1028.5 389.2,1042.3"/>
<polygon points="364.0,1045.6 378.4,1031.8 384.5,1048.6 372.2,1056.2"/>
<polygon points="345.3,1061.3 356.9,1051.2 363.0,1061.3 352.3,1069.5"/>
<polygon points="376.1,1072.6 389.8,1063.4 392.9,1077.1 382.2,1083.3"/>
<polygon points="394.6,1062.6 405.3,1051.9 416.0,1065.7 399.2,1073.3"/>
<polygon points="393.4,1090.4 404.0,1088.0 407.1,1098.6 396.4,1099.6"/>
<polygon points="411.1,1089.4 420.3,1087.3 425.8,1102.6 410.5,1100.1"/>
<polygon points="337.7,1117.9 351.4,1117.0 352.0,1130.1 338.6,1131.0"/>
<polygon points="391.9,1139.8 398.0,1130.6 407.1,1136.7 401.0,1148.3"/>
<polygon points="179.9,1057.5 212.0,1030.1 221.1,1039.8 189.1,1068.2"/>
<polygon points="249.2,1034.0 258.3,1027.3 266.0,1037.1 256.8,1044.7"/>
<polygon points="210.7,1070.4 241.9,1041.4 251.0,1052.1 220.5,1080.5"/>
<polygon points="255.8,1065.7 278.7,1048.0 287.9,1059.6 265.6,1076.4"/>
<polygon points="218.9,1102.7 251.9,1072.8 261.1,1083.5 229.0,1112.5"/>
<polygon points="247.0,1116.1 279.0,1086.2 288.2,1096.9 256.1,1126.2"/>
<polygon points="277.1,1141.6 303.7,1118.1 312.2,1127.8 286.3,1152.3"/>
<polygon points="285.1,1173.5 327.9,1133.8 337.0,1144.5 294.3,1184.2"/>
<polygon points="321.4,1169.1 333.6,1160.0 355.0,1185.9 342.8,1195.7"/>
<polygon points="348.5,1153.4 360.7,1144.8 382.1,1172.3 369.9,1180.8"/>
<polygon points="305.7,1193.4 317.9,1184.8 339.3,1210.2 327.1,1219.3"/>
</g>
<g fill="none" stroke="#5a4a4a" stroke-width="0.7" stroke-linejoin="round">
<polygon points="233.5,885.6 238.8,883.3 245.7,892.1 239.6,894.7"/>
<polygon points="310.2,880.0 320.9,872.3 325.5,879.2 313.3,889.1"/>
<polygon points="144.3,960.2 151.2,954.8 157.3,960.2 151.5,967.8"/>
<polygon points="133.0,985.1 136.8,981.3 142.1,987.4 140.6,992.0"/>
<polygon points="324.0,958.3 332.4,953.7 336.2,962.1 330.1,965.9"/>
<polygon points="389.4,1026.4 397.0,1019.9 398.6,1027.9 391.7,1034.8"/>
<polygon points="380.7,1073.3 387.5,1068.8 389.1,1075.6 383.7,1078.7"/>
</g>
<g transform="translate(298.9 953.2) rotate(32)"><rect x="-4.3" y="-4.3" width="8.6" height="8.6" fill="#f4f4f4" stroke="#333" stroke-width="0.9"/><circle r="2.3" fill="#fff" stroke="#555" stroke-width="0.8"/></g>
</g>
<polygon points="321.0,747.1 357.0,839.2 391.1,932.1 423.4,1025.5 453.7,1119.7 333.0,1232.0 84.3,966.8" fill="none" stroke="#1b5a6a" stroke-width="0.7" stroke-opacity="0.8"/>
</g>
<clipPath id="cpv2"><polygon points="796.0,747.1 832.0,839.2 866.1,932.1 898.4,1025.5 928.7,1119.7 807.5,1232.0 558.4,966.8"/></clipPath>
<clipPath id="crv2"><rect x="510" y="723" width="476" height="495.5"/></clipPath>
<g clip-path="url(#crv2)"><g clip-path="url(#cpv2)">
<g transform="rotate(42 812.4 980.3)" filter="url(#fv2)"><g transform="rotate(-42 812.4 980.3)">
<rect x="198" y="387" width="1090" height="1205" fill="rgb(112,112,112)"/>
<path d="M606.4 929.8C612.4 920.6 638.9 901.7 655.1 887.6C671.4 873.5 690.3 856.2 703.8 845.4C717.4 834.6 729.3 824.3 736.3 822.7C743.3 821.0 750.4 828.6 746.1 835.7C741.7 842.7 723.9 853.5 710.3 864.9C696.8 876.2 680.0 890.9 664.9 903.8C649.7 916.8 629.1 938.5 619.4 942.8C609.7 947.1 600.5 939.0 606.4 929.8Z" fill="rgb(120,120,120)"/>
<path d="M716.8 829.2C717.9 825.9 735.0 818.9 742.8 821.0C750.7 823.2 765.0 838.9 763.9 842.1C762.8 845.4 744.2 842.7 736.3 840.5C728.5 838.4 715.7 832.4 716.8 829.2Z" fill="rgb(128,128,128)"/>
<path d="M733.1 829.2C732.9 823.7 744.7 827.5 750.9 832.4C757.1 837.3 766.6 846.5 770.4 858.4C774.2 870.3 775.5 896.0 773.7 903.8C771.8 911.7 762.7 912.0 759.0 905.5C755.4 899.0 756.2 877.6 751.9 864.9C747.6 852.2 733.2 834.6 733.1 829.2Z" fill="rgb(131,131,131)"/>
<path d="M781.8 799.9C782.9 795.9 795.7 793.9 801.3 796.0C806.8 798.2 816.0 808.9 814.9 812.9C813.8 816.9 800.3 822.2 794.8 820.1C789.2 817.9 780.7 803.9 781.8 799.9Z" fill="rgb(131,131,131)"/>
<path d="M778.5 845.4C782.9 842.5 803.9 840.4 811.0 841.5C818.1 842.6 825.7 849.0 821.4 851.9C817.1 854.8 792.2 860.1 785.0 859.0C777.9 858.0 774.2 848.3 778.5 845.4Z" fill="rgb(137,137,137)"/>
<path d="M580.4 949.3C584.2 940.7 605.3 922.2 616.2 923.3C627.0 924.4 645.4 946.1 645.4 955.8C645.4 965.5 624.8 978.5 616.2 981.8C607.5 985.0 599.4 980.7 593.4 975.3C587.5 969.9 576.7 958.0 580.4 949.3Z" fill="rgb(120,120,120)"/>
<path d="M720.5 909.0C723.7 907.2 735.2 913.6 742.6 920.1C749.9 926.5 761.9 939.4 764.6 947.7C767.4 956.0 763.7 968.8 759.1 969.8C754.5 970.7 743.0 959.6 737.0 953.2C731.1 946.8 726.0 938.5 723.2 931.1C720.5 923.8 717.3 910.9 720.5 909.0Z" fill="rgb(59,59,59)"/>
<path d="M668.1 981.3C671.3 978.5 682.8 979.9 690.2 984.0C697.5 988.2 712.2 1001.5 712.2 1006.1C712.2 1010.7 697.1 1012.5 690.2 1011.6C683.3 1010.7 674.5 1005.6 670.8 1000.6C667.2 995.5 664.9 984.0 668.1 981.3Z" fill="rgb(39,39,39)"/>
<path d="M806.2 865.9C808.1 857.6 825.1 859.0 833.8 863.2C842.6 867.3 855.9 881.6 858.7 890.8C861.4 900.0 856.4 914.7 850.4 918.4C844.4 922.0 830.1 921.6 822.8 912.8C815.4 904.1 804.4 874.2 806.2 865.9Z" fill="rgb(48,48,48)"/>
<path d="M834.7 967.7C835.6 956.6 857.7 967.7 867.8 978.7C877.9 989.7 888.1 1014.6 895.4 1033.9C902.8 1053.2 912.9 1085.4 912.0 1094.6C911.1 1103.8 898.2 1097.4 889.9 1089.1C881.6 1080.8 871.5 1065.2 862.3 1044.9C853.1 1024.7 833.8 978.7 834.7 967.7Z" fill="rgb(59,59,59)"/>
<path d="M670.9 1067.8C672.7 1061.9 691.6 1057.3 706.8 1059.6C721.9 1061.9 751.4 1068.8 762.0 1081.6C772.5 1094.5 774.8 1128.6 770.2 1136.8C765.6 1145.1 746.8 1138.2 734.4 1131.3C721.9 1124.4 706.3 1106.0 695.7 1095.4C685.1 1084.9 669.0 1073.8 670.9 1067.8Z" fill="rgb(75,75,75)"/>
<path d="M768.8 1066.2C770.9 1060.8 786.1 1065.1 791.5 1072.7C796.9 1080.3 803.4 1106.3 801.3 1111.7C799.1 1117.1 783.9 1112.8 778.5 1105.2C773.1 1097.6 766.6 1071.6 768.8 1066.2Z" fill="rgb(39,39,39)"/>
<path d="M814.8 1132.5C817.1 1126.0 829.1 1122.8 836.9 1129.7C844.7 1136.6 860.3 1164.2 861.7 1173.9C863.1 1183.6 851.6 1188.6 845.2 1187.7C838.7 1186.8 828.1 1177.6 823.1 1168.4C818.0 1159.2 812.5 1138.9 814.8 1132.5Z" fill="rgb(64,64,64)"/>
<path d="M648.6 1004.5C652.4 1001.8 671.9 1008.8 677.9 1014.3C683.8 1019.7 688.1 1034.3 684.4 1037.0C680.6 1039.7 661.1 1035.9 655.1 1030.5C649.2 1025.1 644.8 1007.2 648.6 1004.5Z" fill="rgb(66,66,66)"/>
<path d="M579.8 972.2C580.7 969.0 597.3 973.1 607.4 977.7C617.5 982.3 635.9 994.3 640.5 999.8C645.1 1005.3 641.4 1011.3 635.0 1010.8C628.6 1010.4 611.1 1003.5 601.9 997.0C592.7 990.6 578.9 975.4 579.8 972.2Z" fill="rgb(48,48,48)"/>
<path d="M638.9 913.6C643.8 910.3 654.0 903.3 661.6 903.8C669.2 904.4 676.2 911.4 684.4 916.8C692.5 922.2 701.7 930.9 710.3 936.3C719.0 941.7 727.7 943.9 736.3 949.3C745.0 954.7 754.2 961.8 762.3 968.8C770.4 975.8 777.4 984.5 785.0 991.5C792.6 998.6 800.2 1004.5 807.7 1011.0C815.3 1017.5 826.2 1025.1 830.5 1030.5C834.8 1035.9 837.0 1040.8 833.7 1043.5C830.5 1046.2 819.1 1048.9 811.0 1046.7C802.9 1044.6 793.7 1036.4 785.0 1030.5C776.4 1024.5 767.7 1017.5 759.0 1011.0C750.4 1004.5 741.7 998.6 733.1 991.5C724.4 984.5 715.7 975.8 707.1 968.8C698.4 961.8 689.8 955.3 681.1 949.3C672.4 943.4 663.2 937.4 655.1 933.1C647.0 928.7 635.1 926.6 632.4 923.3C629.7 920.1 634.0 916.8 638.9 913.6Z" fill="rgb(167,167,167)"/>
<path d="M694.1 949.3C696.3 946.6 706.5 947.1 716.8 952.6C727.1 958.0 742.8 971.5 755.8 981.8C768.8 992.1 787.2 1006.7 794.8 1014.3C802.3 1021.8 804.5 1027.2 801.3 1027.2C798.0 1027.2 786.1 1020.7 775.3 1014.3C764.5 1007.8 748.2 995.9 736.3 988.3C724.4 980.7 710.9 975.3 703.8 968.8C696.8 962.3 691.9 952.0 694.1 949.3Z" fill="rgb(198,198,198)"/>
<path d="M710.3 1007.8C710.3 1005.9 728.2 1016.1 736.3 1020.7C744.4 1025.4 759.0 1033.5 759.0 1035.4C759.0 1037.3 744.4 1036.7 736.3 1032.1C728.2 1027.5 710.3 1009.7 710.3 1007.8Z" fill="rgb(135,135,135)"/>
<path d="M768.8 903.8C769.9 898.4 780.7 895.2 785.0 897.4C789.3 899.5 788.8 912.0 794.8 916.8C800.7 921.7 811.0 924.4 820.7 926.6C830.5 928.7 844.3 927.0 853.2 929.8C862.1 932.6 876.5 941.2 874.3 943.5C872.2 945.7 852.4 944.5 840.2 943.5C828.0 942.4 811.5 939.2 801.3 937.0C791.0 934.7 783.9 935.3 778.5 929.8C773.1 924.3 767.7 909.3 768.8 903.8Z" fill="rgb(153,153,153)"/>
<path d="M548.0 962.3C518.2 919.5 572.3 972.0 583.7 978.5C595.1 985.0 605.9 994.2 616.2 1001.3C626.4 1008.3 637.3 1015.3 645.4 1020.7C653.5 1026.2 660.5 1027.2 664.9 1033.7C669.2 1040.2 667.0 1052.1 671.4 1059.7C675.7 1067.3 684.4 1072.2 690.8 1079.2C697.3 1086.2 702.8 1094.4 710.3 1101.9C717.9 1109.5 728.7 1117.1 736.3 1124.7C743.9 1132.2 749.8 1139.8 755.8 1147.4C761.7 1155.0 766.1 1162.0 772.0 1170.1C778.0 1178.2 786.6 1186.4 791.5 1196.1C796.4 1205.8 806.1 1222.1 801.3 1228.6C796.4 1235.1 804.5 1279.4 762.3 1235.1C720.1 1190.7 577.7 1005.1 548.0 962.3Z" fill="rgb(140,140,140)"/>
<path d="M690.8 1046.7C690.5 1047.3 696.5 1051.9 699.5 1054.2C702.6 1056.5 705.8 1058.4 709.0 1060.3C712.3 1062.2 715.6 1064.1 719.0 1065.6C722.5 1067.1 729.5 1070.1 729.8 1069.5C730.2 1068.9 724.1 1064.2 721.1 1062.0C718.1 1059.7 714.9 1057.7 711.6 1055.8C708.4 1054.0 705.1 1052.1 701.6 1050.6C698.2 1049.1 691.2 1046.1 690.8 1046.7Z" fill="rgb(137,137,137)"/>
<path d="M716.8 1105.2C716.4 1105.7 724.0 1112.5 727.8 1115.8C731.6 1119.1 735.6 1122.2 739.6 1125.1C743.7 1128.1 747.8 1131.0 752.1 1133.6C756.4 1136.3 765.1 1141.5 765.5 1140.9C765.9 1140.3 758.4 1133.6 754.6 1130.3C750.8 1127.0 746.8 1123.9 742.7 1120.9C738.7 1118.0 734.5 1115.1 730.2 1112.4C725.9 1109.8 717.2 1104.6 716.8 1105.2Z" fill="rgb(139,139,139)"/>
<path d="M768.8 1140.9C768.5 1141.4 773.6 1144.9 776.1 1146.6C778.6 1148.3 781.3 1149.7 784.0 1151.1C786.7 1152.4 789.4 1153.7 792.3 1154.7C795.2 1155.7 801.0 1157.7 801.3 1157.1C801.5 1156.6 796.5 1153.1 794.0 1151.4C791.4 1149.8 788.7 1148.3 786.0 1147.0C783.3 1145.6 780.6 1144.3 777.7 1143.3C774.8 1142.3 769.1 1140.4 768.8 1140.9Z" fill="rgb(135,135,135)"/>
<path d="M833.7 1101.9C833.4 1102.6 845.3 1110.1 851.3 1113.7C857.3 1117.4 863.5 1120.8 869.7 1124.0C875.9 1127.3 882.2 1130.4 888.7 1133.2C895.1 1136.0 908.1 1141.6 908.4 1140.9C908.8 1140.2 896.8 1132.8 890.8 1129.1C884.8 1125.4 878.6 1122.1 872.4 1118.8C866.2 1115.6 859.9 1112.4 853.5 1109.6C847.0 1106.8 834.1 1101.2 833.7 1101.9Z" fill="rgb(135,135,135)"/>
<path d="M801.3 1046.7C800.9 1047.2 807.9 1053.8 811.5 1057.1C815.1 1060.4 818.8 1063.4 822.6 1066.4C826.4 1069.4 830.2 1072.3 834.2 1074.9C838.3 1077.6 846.3 1082.9 846.7 1082.4C847.1 1082.0 840.0 1075.4 836.5 1072.1C832.9 1068.8 829.2 1065.8 825.4 1062.8C821.6 1059.8 817.8 1056.9 813.7 1054.2C809.7 1051.5 801.6 1046.3 801.3 1046.7Z" fill="rgb(131,131,131)"/>
<path d="M739.2 919.8C738.8 920.2 743.8 926.3 746.3 929.3C748.8 932.3 751.5 935.1 754.2 937.9C757.0 940.6 759.8 943.4 762.8 945.9C765.8 948.4 771.9 953.3 772.4 952.9C772.8 952.5 767.8 946.4 765.3 943.4C762.8 940.3 760.1 937.5 757.4 934.8C754.6 932.0 751.8 929.3 748.8 926.8C745.7 924.3 739.6 919.3 739.2 919.8Z" fill="rgb(44,44,44)"/>
<path d="M690.8 988.3C690.5 988.8 697.7 993.9 701.3 996.4C704.9 998.8 708.7 1001.1 712.5 1003.2C716.2 1005.4 720.1 1007.5 724.0 1009.3C728.0 1011.2 736.0 1014.8 736.3 1014.3C736.6 1013.7 729.4 1008.7 725.8 1006.2C722.2 1003.7 718.5 1001.5 714.7 999.3C710.9 997.1 707.1 995.0 703.1 993.2C699.1 991.4 691.1 987.8 690.8 988.3Z" fill="rgb(131,131,131)"/>
<path d="M859.7 949.3C859.2 949.7 865.0 958.8 868.0 963.4C870.9 967.9 874.1 972.3 877.4 976.7C880.6 981.0 883.9 985.3 887.5 989.4C891.0 993.5 898.2 1001.6 898.7 1001.3C899.2 1000.9 893.3 991.7 890.4 987.2C887.4 982.6 884.3 978.3 881.0 973.9C877.8 969.6 874.5 965.3 870.9 961.2C867.4 957.1 860.2 948.9 859.7 949.3Z" fill="rgb(131,131,131)"/>
<path d="M882.4 1033.7C881.9 1034.1 886.6 1043.2 889.0 1047.7C891.4 1052.2 894.0 1056.6 896.7 1060.9C899.5 1065.3 902.2 1069.5 905.2 1073.7C908.3 1077.8 914.4 1086.0 914.9 1085.7C915.4 1085.4 910.7 1076.3 908.3 1071.7C905.9 1067.2 903.3 1062.8 900.6 1058.5C897.9 1054.2 895.1 1049.9 892.1 1045.8C889.1 1041.6 883.0 1033.4 882.4 1033.7Z" fill="rgb(131,131,131)"/>
<path d="M703.8 946.1C703.5 946.5 711.8 953.0 715.9 956.3C720.1 959.5 724.4 962.6 728.7 965.5C733.0 968.5 737.4 971.4 741.9 974.1C746.4 976.8 755.5 982.2 755.8 981.8C756.1 981.4 747.8 974.8 743.7 971.6C739.5 968.3 735.2 965.3 730.9 962.3C726.6 959.3 722.2 956.4 717.7 953.7C713.2 951.0 704.1 945.6 703.8 946.1Z" fill="rgb(120,120,120)"/>
<path d="M586.9 933.1C586.6 933.6 593.7 939.2 597.3 941.9C600.9 944.7 604.6 947.2 608.4 949.6C612.2 952.0 616.1 954.4 620.0 956.5C624.0 958.6 632.1 962.8 632.4 962.3C632.7 961.8 625.6 956.2 622.0 953.5C618.4 950.7 614.7 948.2 610.9 945.8C607.1 943.3 603.3 941.0 599.3 938.8C595.3 936.7 587.3 932.6 586.9 933.1Z" fill="rgb(131,131,131)"/>
<path d="M567.5 981.8C571.8 981.8 604.3 1005.6 616.2 1014.3C628.1 1022.9 636.2 1028.3 638.9 1033.7C641.6 1039.2 640.5 1050.0 632.4 1046.7C624.3 1043.5 601.0 1025.1 590.2 1014.3C579.4 1003.4 563.1 981.8 567.5 981.8Z" fill="rgb(167,167,167)"/>
<path d="M634.0 1022.4C635.8 1021.0 643.5 1022.1 645.4 1024.0C647.3 1025.9 647.1 1032.4 645.4 1033.7C643.7 1035.1 636.9 1034.0 635.0 1032.1C633.1 1030.2 632.3 1023.7 634.0 1022.4Z" fill="rgb(208,208,208)"/>
<path d="M833.7 1105.2C833.7 1102.9 855.4 1107.2 866.2 1111.7C877.0 1116.1 898.7 1129.5 898.7 1131.8C898.7 1134.1 877.0 1129.8 866.2 1125.3C855.4 1120.9 833.7 1107.5 833.7 1105.2Z" fill="rgb(135,135,135)"/>
<path d="M846.7 1153.9C847.8 1149.5 864.0 1144.0 872.7 1144.1C881.4 1144.3 899.8 1150.1 898.7 1154.5C897.6 1159.0 874.9 1170.9 866.2 1170.8C857.5 1170.7 845.6 1158.3 846.7 1153.9Z" fill="rgb(139,139,139)"/>
<path d="M801.3 1186.4C803.4 1183.1 816.1 1184.7 820.7 1189.6C825.3 1194.5 831.0 1212.3 828.9 1215.6C826.7 1218.8 812.4 1214.0 807.7 1209.1C803.1 1204.2 799.1 1189.6 801.3 1186.4Z" fill="rgb(153,153,153)"/>
<path d="M710.3 1105.2C711.4 1103.0 728.7 1107.3 736.3 1111.7C743.9 1116.0 756.9 1129.0 755.8 1131.2C754.7 1133.3 737.4 1129.0 729.8 1124.7C722.2 1120.3 709.2 1107.3 710.3 1105.2Z" fill="rgb(135,135,135)"/>
<path d="M801.3 1079.2C802.3 1076.5 819.7 1081.4 827.2 1085.7C834.8 1090.0 847.8 1102.5 846.7 1105.2C845.6 1107.9 828.3 1106.3 820.7 1101.9C813.2 1097.6 800.2 1081.9 801.3 1079.2Z" fill="rgb(132,132,132)"/>
<g fill="rgb(44,44,44)" stroke="rgb(44,44,44)" stroke-width="3" stroke-linejoin="round" transform="translate(1.5 1.5)">
<polygon points="770.8,784.2 793.7,765.9 798.3,787.3 783.0,799.5"/>
<polygon points="754.7,797.8 762.3,782.5 800.5,822.2 789.8,831.4"/>
<polygon points="776.2,826.9 809.8,814.7 817.5,831.5 779.3,840.6"/>
<polygon points="756.9,832.5 772.1,826.4 777.6,840.1 762.4,845.3"/>
<polygon points="749.9,805.4 759.0,802.3 765.1,813.0 757.5,816.0"/>
<polygon points="702.4,847.0 717.6,833.2 728.3,850.0 720.7,857.7"/>
<polygon points="719.8,858.0 732.0,851.9 739.6,870.2 728.9,874.8"/>
<polygon points="686.8,874.0 697.5,858.7 712.7,878.6 703.6,890.8"/>
<polygon points="705.5,892.5 717.7,884.9 725.4,897.1 713.2,901.7"/>
<polygon points="659.9,892.7 667.5,882.0 681.2,891.1 672.1,901.8"/>
<polygon points="674.2,901.0 686.4,893.4 691.9,904.1 683.3,916.3"/>
<polygon points="613.7,926.4 625.9,914.2 650.3,943.2 639.6,949.3"/>
<polygon points="597.9,949.1 607.0,940.0 640.6,964.4 626.9,976.6"/>
<polygon points="574.1,969.7 586.3,951.4 600.0,969.7 589.3,983.5"/>
<polygon points="595.5,983.6 604.6,974.4 621.4,995.8 613.8,1001.9"/>
<polygon points="634.0,986.9 644.7,971.7 658.5,980.8 649.3,999.1"/>
<polygon points="625.6,1005.5 633.3,993.3 645.5,999.4 637.9,1014.6"/>
<polygon points="768.4,859.5 780.6,858.0 783.7,867.1 774.5,873.2"/>
<polygon points="797.9,864.2 817.8,852.0 826.9,859.6 808.6,873.4"/>
<polygon points="776.7,881.2 793.5,869.0 802.6,875.1 785.8,899.5"/>
<polygon points="808.4,896.7 822.1,892.1 823.6,902.8 810.8,906.8"/>
<polygon points="812.1,947.0 832.0,933.3 845.7,939.4 822.8,956.2"/>
<polygon points="787.9,961.0 806.2,950.3 818.5,961.0 800.1,976.3"/>
<polygon points="822.6,972.7 833.3,960.4 839.4,966.6 828.7,981.8"/>
<polygon points="825.4,986.8 840.7,977.6 843.7,986.8 830.0,994.4"/>
<polygon points="799.5,1002.7 816.3,984.4 823.9,998.1 808.7,1011.9"/>
<polygon points="842.3,1002.5 860.6,991.8 868.2,1000.9 851.4,1014.7"/>
<polygon points="819.6,1018.4 831.8,1007.7 842.5,1016.9 828.7,1032.2"/>
<polygon points="831.1,1025.7 844.9,1015.0 849.4,1022.6 835.7,1034.8"/>
<polygon points="859.7,1022.8 873.4,1013.6 878.0,1021.2 862.7,1031.9"/>
<polygon points="862.5,1039.9 877.7,1032.2 880.8,1039.9 867.1,1047.5"/>
<polygon points="833.5,1051.7 858.0,1030.3 864.1,1039.5 841.2,1060.8"/>
<polygon points="816.8,1065.7 829.0,1053.4 836.6,1062.6 824.4,1073.3"/>
<polygon points="865.1,1062.6 884.9,1053.4 891.0,1065.6 874.2,1074.8"/>
<polygon points="851.1,1076.8 863.4,1070.7 867.9,1081.4 855.7,1086.6"/>
<polygon points="864.7,1096.9 872.3,1090.8 898.2,1093.9 902.8,1106.1"/>
<polygon points="811.8,1120.8 825.0,1118.7 827.1,1132.1 813.7,1133.0"/>
<polygon points="853.0,1133.8 858.2,1126.1 884.1,1136.8 876.5,1153.6"/>
<polygon points="653.4,1060.4 685.5,1031.4 696.2,1042.1 664.1,1072.0"/>
<polygon points="722.1,1035.5 731.9,1027.8 741.0,1038.5 731.3,1046.8"/>
<polygon points="683.4,1070.4 715.4,1042.0 726.1,1053.6 694.1,1081.7"/>
<polygon points="730.2,1067.2 753.7,1048.9 762.9,1060.2 740.0,1079.4"/>
<polygon points="692.8,1103.2 725.5,1074.2 736.1,1084.9 702.6,1113.9"/>
<polygon points="720.5,1117.5 753.1,1088.5 763.2,1099.2 730.6,1129.1"/>
<polygon points="751.2,1144.4 778.7,1120.9 787.2,1130.7 760.7,1155.1"/>
<polygon points="759.5,1176.3 802.9,1136.6 812.9,1147.3 769.3,1187.0"/>
<polygon points="795.7,1170.5 808.6,1161.3 831.5,1188.8 819.2,1198.0"/>
<polygon points="822.6,1156.2 835.7,1147.7 858.0,1175.1 845.8,1184.3"/>
<polygon points="779.7,1194.8 792.9,1187.1 815.8,1214.6 803.6,1219.2"/>
</g>
</g></g>
<g stroke="#8a8a8a" stroke-width="1.3">
<line x1="706.2" y1="852.7" x2="688.5" y2="898.3"/>
<line x1="616.3" y1="981.1" x2="625.7" y2="973.9"/>
<line x1="801.8" y1="884.1" x2="811.2" y2="897.8"/>
<line x1="820.3" y1="1004.2" x2="828.9" y2="1011.3"/>
<line x1="880.2" y1="1074.1" x2="884.5" y2="1091.2"/>
</g>
<g fill="#14227a" stroke="#14227a" stroke-width="1.1" stroke-linejoin="round" transform="translate(1.2 1.3)">
<polygon points="770.8,784.2 793.7,765.9 798.3,787.3 783.0,799.5"/>
<polygon points="754.7,797.8 762.3,782.5 800.5,822.2 789.8,831.4"/>
<polygon points="776.2,826.9 809.8,814.7 817.5,831.5 779.3,840.6"/>
<polygon points="756.9,832.5 772.1,826.4 777.6,840.1 762.4,845.3"/>
<polygon points="749.9,805.4 759.0,802.3 765.1,813.0 757.5,816.0"/>
<polygon points="702.4,847.0 717.6,833.2 728.3,850.0 720.7,857.7"/>
<polygon points="719.8,858.0 732.0,851.9 739.6,870.2 728.9,874.8"/>
<polygon points="686.8,874.0 697.5,858.7 712.7,878.6 703.6,890.8"/>
<polygon points="705.5,892.5 717.7,884.9 725.4,897.1 713.2,901.7"/>
<polygon points="659.9,892.7 667.5,882.0 681.2,891.1 672.1,901.8"/>
<polygon points="674.2,901.0 686.4,893.4 691.9,904.1 683.3,916.3"/>
<polygon points="613.7,926.4 625.9,914.2 650.3,943.2 639.6,949.3"/>
<polygon points="597.9,949.1 607.0,940.0 640.6,964.4 626.9,976.6"/>
<polygon points="574.1,969.7 586.3,951.4 600.0,969.7 589.3,983.5"/>
<polygon points="595.5,983.6 604.6,974.4 621.4,995.8 613.8,1001.9"/>
<polygon points="634.0,986.9 644.7,971.7 658.5,980.8 649.3,999.1"/>
<polygon points="625.6,1005.5 633.3,993.3 645.5,999.4 637.9,1014.6"/>
<polygon points="768.4,859.5 780.6,858.0 783.7,867.1 774.5,873.2"/>
<polygon points="797.9,864.2 817.8,852.0 826.9,859.6 808.6,873.4"/>
<polygon points="776.7,881.2 793.5,869.0 802.6,875.1 785.8,899.5"/>
<polygon points="808.4,896.7 822.1,892.1 823.6,902.8 810.8,906.8"/>
<polygon points="812.1,947.0 832.0,933.3 845.7,939.4 822.8,956.2"/>
<polygon points="787.9,961.0 806.2,950.3 818.5,961.0 800.1,976.3"/>
<polygon points="822.6,972.7 833.3,960.4 839.4,966.6 828.7,981.8"/>
<polygon points="825.4,986.8 840.7,977.6 843.7,986.8 830.0,994.4"/>
<polygon points="799.5,1002.7 816.3,984.4 823.9,998.1 808.7,1011.9"/>
<polygon points="842.3,1002.5 860.6,991.8 868.2,1000.9 851.4,1014.7"/>
<polygon points="819.6,1018.4 831.8,1007.7 842.5,1016.9 828.7,1032.2"/>
<polygon points="831.1,1025.7 844.9,1015.0 849.4,1022.6 835.7,1034.8"/>
<polygon points="859.7,1022.8 873.4,1013.6 878.0,1021.2 862.7,1031.9"/>
<polygon points="862.5,1039.9 877.7,1032.2 880.8,1039.9 867.1,1047.5"/>
<polygon points="833.5,1051.7 858.0,1030.3 864.1,1039.5 841.2,1060.8"/>
<polygon points="816.8,1065.7 829.0,1053.4 836.6,1062.6 824.4,1073.3"/>
<polygon points="865.1,1062.6 884.9,1053.4 891.0,1065.6 874.2,1074.8"/>
<polygon points="851.1,1076.8 863.4,1070.7 867.9,1081.4 855.7,1086.6"/>
<polygon points="864.7,1096.9 872.3,1090.8 898.2,1093.9 902.8,1106.1"/>
<polygon points="811.8,1120.8 825.0,1118.7 827.1,1132.1 813.7,1133.0"/>
<polygon points="853.0,1133.8 858.2,1126.1 884.1,1136.8 876.5,1153.6"/>
<polygon points="653.4,1060.4 685.5,1031.4 696.2,1042.1 664.1,1072.0"/>
<polygon points="722.1,1035.5 731.9,1027.8 741.0,1038.5 731.3,1046.8"/>
<polygon points="683.4,1070.4 715.4,1042.0 726.1,1053.6 694.1,1081.7"/>
<polygon points="730.2,1067.2 753.7,1048.9 762.9,1060.2 740.0,1079.4"/>
<polygon points="692.8,1103.2 725.5,1074.2 736.1,1084.9 702.6,1113.9"/>
<polygon points="720.5,1117.5 753.1,1088.5 763.2,1099.2 730.6,1129.1"/>
<polygon points="751.2,1144.4 778.7,1120.9 787.2,1130.7 760.7,1155.1"/>
<polygon points="759.5,1176.3 802.9,1136.6 812.9,1147.3 769.3,1187.0"/>
<polygon points="795.7,1170.5 808.6,1161.3 831.5,1188.8 819.2,1198.0"/>
<polygon points="822.6,1156.2 835.7,1147.7 858.0,1175.1 845.8,1184.3"/>
<polygon points="779.7,1194.8 792.9,1187.1 815.8,1214.6 803.6,1219.2"/>
</g>
<g fill="#fff" stroke="#222" stroke-width="1" stroke-linejoin="round">
<polygon points="770.8,784.2 793.7,765.9 798.3,787.3 783.0,799.5"/>
<polygon points="754.7,797.8 762.3,782.5 800.5,822.2 789.8,831.4"/>
<polygon points="776.2,826.9 809.8,814.7 817.5,831.5 779.3,840.6"/>
<polygon points="756.9,832.5 772.1,826.4 777.6,840.1 762.4,845.3"/>
<polygon points="749.9,805.4 759.0,802.3 765.1,813.0 757.5,816.0"/>
<polygon points="702.4,847.0 717.6,833.2 728.3,850.0 720.7,857.7"/>
<polygon points="719.8,858.0 732.0,851.9 739.6,870.2 728.9,874.8"/>
<polygon points="686.8,874.0 697.5,858.7 712.7,878.6 703.6,890.8"/>
<polygon points="705.5,892.5 717.7,884.9 725.4,897.1 713.2,901.7"/>
<polygon points="659.9,892.7 667.5,882.0 681.2,891.1 672.1,901.8"/>
<polygon points="674.2,901.0 686.4,893.4 691.9,904.1 683.3,916.3"/>
<polygon points="613.7,926.4 625.9,914.2 650.3,943.2 639.6,949.3"/>
<polygon points="597.9,949.1 607.0,940.0 640.6,964.4 626.9,976.6"/>
<polygon points="574.1,969.7 586.3,951.4 600.0,969.7 589.3,983.5"/>
<polygon points="595.5,983.6 604.6,974.4 621.4,995.8 613.8,1001.9"/>
<polygon points="634.0,986.9 644.7,971.7 658.5,980.8 649.3,999.1"/>
<polygon points="625.6,1005.5 633.3,993.3 645.5,999.4 637.9,1014.6"/>
<polygon points="768.4,859.5 780.6,858.0 783.7,867.1 774.5,873.2"/>
<polygon points="797.9,864.2 817.8,852.0 826.9,859.6 808.6,873.4"/>
<polygon points="776.7,881.2 793.5,869.0 802.6,875.1 785.8,899.5"/>
<polygon points="808.4,896.7 822.1,892.1 823.6,902.8 810.8,906.8"/>
<polygon points="812.1,947.0 832.0,933.3 845.7,939.4 822.8,956.2"/>
<polygon points="787.9,961.0 806.2,950.3 818.5,961.0 800.1,976.3"/>
<polygon points="822.6,972.7 833.3,960.4 839.4,966.6 828.7,981.8"/>
<polygon points="825.4,986.8 840.7,977.6 843.7,986.8 830.0,994.4"/>
<polygon points="799.5,1002.7 816.3,984.4 823.9,998.1 808.7,1011.9"/>
<polygon points="842.3,1002.5 860.6,991.8 868.2,1000.9 851.4,1014.7"/>
<polygon points="819.6,1018.4 831.8,1007.7 842.5,1016.9 828.7,1032.2"/>
<polygon points="831.1,1025.7 844.9,1015.0 849.4,1022.6 835.7,1034.8"/>
<polygon points="859.7,1022.8 873.4,1013.6 878.0,1021.2 862.7,1031.9"/>
<polygon points="862.5,1039.9 877.7,1032.2 880.8,1039.9 867.1,1047.5"/>
<polygon points="833.5,1051.7 858.0,1030.3 864.1,1039.5 841.2,1060.8"/>
<polygon points="816.8,1065.7 829.0,1053.4 836.6,1062.6 824.4,1073.3"/>
<polygon points="865.1,1062.6 884.9,1053.4 891.0,1065.6 874.2,1074.8"/>
<polygon points="851.1,1076.8 863.4,1070.7 867.9,1081.4 855.7,1086.6"/>
<polygon points="864.7,1096.9 872.3,1090.8 898.2,1093.9 902.8,1106.1"/>
<polygon points="811.8,1120.8 825.0,1118.7 827.1,1132.1 813.7,1133.0"/>
<polygon points="853.0,1133.8 858.2,1126.1 884.1,1136.8 876.5,1153.6"/>
<polygon points="653.4,1060.4 685.5,1031.4 696.2,1042.1 664.1,1072.0"/>
<polygon points="722.1,1035.5 731.9,1027.8 741.0,1038.5 731.3,1046.8"/>
<polygon points="683.4,1070.4 715.4,1042.0 726.1,1053.6 694.1,1081.7"/>
<polygon points="730.2,1067.2 753.7,1048.9 762.9,1060.2 740.0,1079.4"/>
<polygon points="692.8,1103.2 725.5,1074.2 736.1,1084.9 702.6,1113.9"/>
<polygon points="720.5,1117.5 753.1,1088.5 763.2,1099.2 730.6,1129.1"/>
<polygon points="751.2,1144.4 778.7,1120.9 787.2,1130.7 760.7,1155.1"/>
<polygon points="759.5,1176.3 802.9,1136.6 812.9,1147.3 769.3,1187.0"/>
<polygon points="795.7,1170.5 808.6,1161.3 831.5,1188.8 819.2,1198.0"/>
<polygon points="822.6,1156.2 835.7,1147.7 858.0,1175.1 845.8,1184.3"/>
<polygon points="779.7,1194.8 792.9,1187.1 815.8,1214.6 803.6,1219.2"/>
</g>
<g transform="translate(773.7 955.2) rotate(32)"><rect x="-4.3" y="-4.3" width="8.6" height="8.6" fill="#f4f4f4" stroke="#333" stroke-width="0.9"/><circle r="2.3" fill="#fff" stroke="#555" stroke-width="0.8"/></g>
</g>
<polygon points="796.0,747.1 832.0,839.2 866.1,932.1 898.4,1025.5 928.7,1119.7 807.5,1232.0 558.4,966.8" fill="none" stroke="#1b5a6a" stroke-width="0.7" stroke-opacity="0.8"/>
</g>
<clipPath id="cpv3"><polygon points="1277.5,746.5 1313.5,838.4 1347.6,931.1 1379.8,1024.3 1410.1,1118.3 1290.0,1232.0 1042.1,966.8"/></clipPath>
<clipPath id="crv3"><rect x="988" y="723" width="476" height="495.5"/></clipPath>
<g clip-path="url(#crv3)"><g clip-path="url(#cpv3)">
<g transform="rotate(42 1294.4 979.6)" filter="url(#fv3)"><g transform="rotate(-42 1294.4 979.6)">
<rect x="682" y="386" width="1088" height="1206" fill="rgb(112,112,112)"/>
<path d="M1084.4 929.8C1090.4 920.6 1116.9 901.7 1133.1 887.6C1149.4 873.5 1165.1 859.5 1181.8 845.4C1198.6 831.3 1219.7 815.6 1233.8 803.2C1247.9 790.7 1259.8 773.4 1266.3 770.7C1272.8 768.0 1278.2 778.3 1272.8 786.9C1267.3 795.6 1247.9 809.7 1233.8 822.7C1219.7 835.7 1203.5 851.4 1188.3 864.9C1173.2 878.4 1158.0 890.9 1142.9 903.8C1127.7 916.8 1107.1 938.5 1097.4 942.8C1087.7 947.1 1078.5 939.0 1084.4 929.8Z" fill="rgb(128,128,128)"/>
<path d="M1149.9 891.3C1152.6 886.2 1171.9 879.3 1183.0 877.5C1194.0 875.6 1208.7 876.1 1216.1 880.2C1223.5 884.4 1230.8 898.6 1227.1 902.3C1223.5 906.0 1204.1 901.4 1194.0 902.3C1183.9 903.2 1173.8 909.7 1166.4 907.8C1159.1 906.0 1147.1 896.3 1149.9 891.3Z" fill="rgb(48,48,48)"/>
<path d="M1194.8 903.8C1195.9 896.8 1213.8 899.5 1220.8 907.1C1227.8 914.7 1238.1 942.3 1237.0 949.3C1236.0 956.3 1221.3 956.9 1214.3 949.3C1207.3 941.7 1193.7 910.9 1194.8 903.8Z" fill="rgb(44,44,44)"/>
<path d="M1089.3 973.2C1094.8 971.3 1112.3 979.6 1122.4 984.2C1132.5 988.8 1147.3 994.3 1150.0 1000.8C1152.8 1007.2 1145.4 1021.0 1139.0 1022.9C1132.5 1024.7 1119.7 1016.4 1111.4 1011.8C1103.1 1007.2 1093.0 1001.7 1089.3 995.3C1085.6 988.8 1083.8 975.0 1089.3 973.2Z" fill="rgb(59,59,59)"/>
<path d="M1142.9 981.8C1142.9 977.5 1169.9 982.9 1181.8 988.3C1193.7 993.7 1214.3 1009.9 1214.3 1014.3C1214.3 1018.6 1193.7 1019.7 1181.8 1014.3C1169.9 1008.8 1142.9 986.1 1142.9 981.8Z" fill="rgb(72,72,72)"/>
<path d="M1318.1 965.1C1319.0 953.1 1337.4 951.3 1345.7 959.5C1353.9 967.8 1361.3 997.3 1367.7 1014.7C1374.2 1032.2 1384.3 1055.2 1384.3 1064.4C1384.3 1073.6 1375.1 1075.5 1367.7 1069.9C1360.4 1064.4 1348.4 1048.8 1340.1 1031.3C1331.9 1013.8 1317.1 977.0 1318.1 965.1Z" fill="rgb(59,59,59)"/>
<path d="M1151.9 1053.3C1154.6 1045.5 1175.8 1043.2 1190.5 1047.8C1205.2 1052.4 1230.5 1066.2 1240.2 1080.9C1249.9 1095.6 1253.1 1127.8 1248.5 1136.1C1243.9 1144.4 1225.0 1137.5 1212.6 1130.6C1200.2 1123.7 1184.1 1107.6 1174.0 1094.7C1163.8 1081.8 1149.1 1061.1 1151.9 1053.3Z" fill="rgb(59,59,59)"/>
<path d="M1292.7 1132.1C1294.5 1123.4 1312.9 1132.6 1325.8 1134.9C1338.7 1137.2 1364.9 1138.5 1370.0 1145.9C1375.0 1153.3 1365.4 1172.1 1356.2 1179.0C1347.0 1185.9 1325.3 1195.1 1314.7 1187.3C1304.2 1179.5 1290.8 1140.8 1292.7 1132.1Z" fill="rgb(59,59,59)"/>
<path d="M1246.8 1059.7C1248.9 1054.8 1264.1 1059.7 1269.5 1066.2C1274.9 1072.7 1281.4 1093.8 1279.3 1098.7C1277.1 1103.6 1261.9 1101.9 1256.5 1095.4C1251.1 1088.9 1244.6 1064.6 1246.8 1059.7Z" fill="rgb(39,39,39)"/>
<path d="M1263.3 810.4C1265.1 808.1 1278.9 812.3 1285.4 818.7C1291.8 825.1 1301.0 843.1 1301.9 849.1C1302.8 855.0 1295.5 857.3 1290.9 854.6C1286.3 851.8 1278.9 839.9 1274.3 832.5C1269.7 825.1 1261.4 812.7 1263.3 810.4Z" fill="rgb(48,48,48)"/>
<path d="M1270.9 874.2C1273.7 871.9 1289.3 872.4 1298.5 877.0C1307.7 881.6 1324.3 896.7 1326.1 901.8C1328.0 906.9 1316.9 909.2 1309.6 907.3C1302.2 905.5 1288.4 896.3 1282.0 890.8C1275.5 885.2 1268.2 876.5 1270.9 874.2Z" fill="rgb(48,48,48)"/>
<path d="M1256.5 770.7C1260.3 766.9 1268.7 766.9 1272.8 764.2C1276.8 761.5 1274.9 743.6 1280.9 754.5C1286.8 765.3 1305.5 815.1 1308.5 829.2C1311.5 843.2 1303.6 841.1 1298.7 838.9C1293.9 836.7 1284.7 822.7 1279.3 816.2C1273.8 809.7 1271.1 804.8 1266.3 799.9C1261.4 795.1 1251.7 791.8 1250.0 786.9C1248.4 782.1 1252.7 774.5 1256.5 770.7Z" fill="rgb(167,167,167)"/>
<path d="M1220.8 825.9C1222.4 822.7 1236.5 826.5 1243.5 829.2C1250.6 831.9 1255.4 839.4 1263.0 842.1C1270.6 844.9 1282.0 842.7 1289.0 845.4C1296.0 848.1 1304.2 853.5 1305.2 858.4C1306.3 863.3 1300.9 873.0 1295.5 874.6C1290.1 876.2 1279.8 869.8 1272.8 868.1C1265.7 866.5 1259.8 868.1 1253.3 864.9C1246.8 861.6 1239.2 855.1 1233.8 848.6C1228.4 842.1 1219.2 829.2 1220.8 825.9Z" fill="rgb(167,167,167)"/>
<path d="M1225.9 900.4C1228.5 899.5 1239.5 900.9 1246.3 903.0C1253.1 905.1 1260.0 909.4 1266.8 913.2C1273.6 917.0 1280.4 922.6 1287.2 926.0C1294.0 929.4 1302.5 931.1 1307.6 933.6C1312.7 936.1 1319.6 940.2 1317.9 941.3C1316.2 942.4 1305.1 941.7 1297.4 940.0C1289.7 938.3 1279.6 934.7 1271.9 931.1C1264.2 927.5 1258.3 922.1 1251.5 918.3C1244.7 914.5 1235.3 911.1 1231.0 908.1C1226.7 905.1 1223.4 901.2 1225.9 900.4Z" fill="rgb(167,167,167)"/>
<path d="M1298.7 894.1C1300.9 893.0 1318.8 897.4 1324.7 900.6C1330.7 903.8 1336.6 912.5 1334.5 913.6C1332.3 914.7 1317.7 910.3 1311.7 907.1C1305.8 903.8 1296.6 895.2 1298.7 894.1Z" fill="rgb(139,139,139)"/>
<path d="M1134.0 900.0C1135.3 897.9 1139.5 902.0 1144.2 905.5C1148.9 909.0 1156.1 915.8 1162.1 920.9C1168.0 926.0 1173.5 931.5 1179.9 936.2C1186.3 940.9 1193.6 945.2 1200.4 949.0C1207.2 952.8 1214.0 955.8 1220.8 959.2C1227.6 962.6 1234.8 965.6 1241.2 969.4C1247.6 973.2 1254.0 978.4 1259.1 982.2C1264.2 986.0 1268.1 987.3 1271.9 992.4C1275.7 997.5 1277.8 1006.8 1282.1 1012.8C1286.3 1018.8 1291.4 1023.0 1297.4 1028.1C1303.4 1033.2 1311.1 1038.7 1317.9 1043.4C1324.7 1048.1 1331.5 1051.9 1338.3 1056.2C1345.1 1060.5 1352.3 1063.7 1358.7 1069.0C1365.1 1074.3 1369.4 1080.3 1376.7 1088.0C1384.0 1095.7 1397.3 1108.8 1402.7 1115.0C1408.1 1121.2 1411.8 1124.5 1409.1 1125.0C1406.4 1125.5 1394.5 1122.2 1386.4 1118.0C1378.3 1113.8 1368.1 1105.7 1360.4 1100.0C1352.7 1094.3 1347.1 1089.6 1340.0 1084.0C1332.9 1078.4 1325.0 1071.5 1317.9 1066.4C1310.8 1061.3 1304.2 1058.3 1297.4 1053.6C1290.6 1048.9 1283.0 1043.4 1277.0 1038.3C1271.0 1033.2 1266.8 1028.1 1261.7 1023.0C1256.6 1017.9 1251.4 1012.8 1246.3 1007.7C1241.2 1002.6 1237.0 997.5 1231.0 992.4C1225.0 987.3 1217.4 981.8 1210.6 977.1C1203.8 972.4 1196.5 969.0 1190.1 964.3C1183.7 959.6 1178.2 954.1 1172.3 949.0C1166.3 943.9 1160.4 938.7 1154.4 933.6C1148.4 928.5 1139.9 923.9 1136.5 918.3C1133.1 912.7 1132.7 902.1 1134.0 900.0Z" fill="rgb(167,167,167)"/>
<path d="M1190.1 1012.8C1190.9 1011.5 1202.9 1012.9 1210.6 1015.4C1218.3 1017.9 1227.6 1023.4 1236.1 1028.1C1244.6 1032.8 1253.2 1037.5 1261.7 1043.5C1270.2 1049.5 1279.6 1057.8 1287.2 1063.9C1294.8 1070.0 1300.8 1074.5 1307.6 1080.0C1314.4 1085.5 1327.2 1094.7 1328.1 1097.1C1329.0 1099.5 1320.5 1098.4 1312.8 1094.6C1305.1 1090.8 1291.5 1080.5 1282.1 1074.1C1272.7 1067.7 1265.1 1062.2 1256.6 1056.2C1248.1 1050.2 1239.5 1043.9 1231.0 1038.4C1222.5 1032.9 1212.3 1027.3 1205.5 1023.0C1198.7 1018.7 1189.2 1014.1 1190.1 1012.8Z" fill="rgb(153,153,153)"/>
<path d="M1072.7 954.1C1074.4 953.2 1085.4 957.5 1093.1 961.7C1100.8 966.0 1110.1 974.9 1118.6 979.6C1127.1 984.3 1138.2 987.2 1144.2 989.8C1150.2 992.3 1156.1 994.5 1154.4 994.9C1152.7 995.3 1141.7 994.5 1134.0 992.4C1126.3 990.3 1116.9 986.5 1108.4 982.2C1099.9 977.9 1088.9 971.5 1082.9 966.8C1077.0 962.1 1071.0 955.0 1072.7 954.1Z" fill="rgb(167,167,167)"/>
<path d="M1110.4 942.8C1109.9 941.2 1121.2 947.1 1126.6 949.3C1132.0 951.5 1142.3 954.2 1142.9 955.8C1143.4 957.4 1135.3 961.2 1129.9 959.1C1124.5 956.9 1110.9 944.4 1110.4 942.8Z" fill="rgb(153,153,153)"/>
<path d="M1026.0 959.1C996.2 915.2 1050.3 965.0 1061.7 972.0C1073.1 979.1 1083.9 992.1 1094.2 1001.3C1104.4 1010.5 1115.8 1018.6 1123.4 1027.2C1131.0 1035.9 1133.1 1045.1 1139.6 1053.2C1146.1 1061.3 1155.3 1068.4 1162.4 1076.0C1169.4 1083.5 1173.7 1090.6 1181.8 1098.7C1190.0 1106.8 1201.9 1116.0 1211.1 1124.7C1220.3 1133.3 1230.0 1142.0 1237.0 1150.6C1244.1 1159.3 1247.9 1168.0 1253.3 1176.6C1258.7 1185.3 1265.2 1193.9 1269.5 1202.6C1273.8 1211.3 1284.1 1223.2 1279.3 1228.6C1274.4 1234.0 1282.5 1280.0 1240.3 1235.1C1198.1 1190.1 1055.7 1002.9 1026.0 959.1Z" fill="rgb(137,137,137)"/>
<path d="M1194.8 1076.0C1194.7 1076.5 1202.1 1079.0 1205.8 1080.2C1209.5 1081.3 1213.3 1082.2 1217.1 1083.0C1220.9 1083.9 1224.7 1084.6 1228.5 1085.0C1232.4 1085.5 1240.2 1086.3 1240.3 1085.7C1240.4 1085.1 1233.0 1082.7 1229.3 1081.5C1225.6 1080.3 1221.8 1079.4 1218.0 1078.6C1214.2 1077.8 1210.4 1077.1 1206.6 1076.6C1202.7 1076.2 1195.0 1075.4 1194.8 1076.0Z" fill="rgb(167,167,167)"/>
<path d="M1220.8 1111.7C1220.5 1112.2 1227.6 1117.8 1231.2 1120.5C1234.8 1123.3 1238.5 1125.8 1242.3 1128.2C1246.1 1130.6 1249.9 1133.0 1253.9 1135.1C1257.9 1137.2 1265.9 1141.4 1266.3 1140.9C1266.6 1140.4 1259.5 1134.8 1255.9 1132.1C1252.3 1129.3 1248.6 1126.8 1244.8 1124.4C1241.0 1121.9 1237.1 1119.6 1233.2 1117.5C1229.2 1115.3 1221.1 1111.2 1220.8 1111.7Z" fill="rgb(139,139,139)"/>
<path d="M1311.7 1153.9C1311.4 1154.4 1318.1 1158.9 1321.4 1161.2C1324.8 1163.4 1328.2 1165.4 1331.8 1167.3C1335.3 1169.1 1338.8 1171.0 1342.5 1172.5C1346.2 1174.1 1353.7 1177.2 1353.9 1176.6C1354.2 1176.1 1347.6 1171.6 1344.3 1169.3C1340.9 1167.1 1337.4 1165.1 1333.9 1163.3C1330.4 1161.4 1326.8 1159.5 1323.1 1158.0C1319.4 1156.4 1312.0 1153.4 1311.7 1153.9Z" fill="rgb(153,153,153)"/>
<path d="M1318.2 975.3C1318.0 975.9 1326.4 979.9 1330.6 981.9C1334.8 983.8 1339.1 985.5 1343.4 987.2C1347.7 988.8 1352.1 990.3 1356.6 991.6C1361.0 992.9 1370.0 995.3 1370.2 994.8C1370.4 994.2 1362.0 990.2 1357.8 988.2C1353.6 986.2 1349.3 984.5 1345.0 982.9C1340.7 981.3 1336.3 979.7 1331.9 978.5C1327.4 977.2 1318.4 974.7 1318.2 975.3Z" fill="rgb(135,135,135)"/>
<path d="M1324.7 1024.0C1324.4 1024.5 1332.6 1031.1 1336.7 1034.4C1340.8 1037.7 1345.1 1040.8 1349.4 1043.7C1353.7 1046.7 1358.1 1049.6 1362.7 1052.3C1367.2 1055.0 1376.3 1060.2 1376.7 1059.7C1377.0 1059.2 1368.8 1052.6 1364.7 1049.3C1360.6 1046.0 1356.3 1043.0 1352.0 1040.0C1347.7 1037.0 1343.3 1034.1 1338.7 1031.4C1334.2 1028.8 1325.1 1023.5 1324.7 1024.0Z" fill="rgb(139,139,139)"/>
<path d="M1188.3 955.8C1188.0 956.2 1197.4 963.8 1202.0 967.6C1206.7 971.4 1211.5 975.0 1216.4 978.5C1221.3 982.0 1226.2 985.5 1231.3 988.7C1236.3 992.0 1246.5 998.4 1246.8 998.0C1247.1 997.6 1237.8 990.0 1233.1 986.2C1228.4 982.4 1223.6 978.8 1218.7 975.3C1213.8 971.8 1208.9 968.3 1203.9 965.1C1198.8 961.8 1188.6 955.4 1188.3 955.8Z" fill="rgb(120,120,120)"/>
<path d="M1272.8 1027.2C1272.4 1027.6 1281.7 1036.3 1286.4 1040.6C1291.0 1044.9 1295.9 1049.0 1300.7 1053.1C1305.6 1057.2 1310.5 1061.2 1315.6 1065.0C1320.7 1068.8 1330.9 1076.4 1331.2 1076.0C1331.5 1075.6 1322.3 1066.9 1317.6 1062.6C1312.9 1058.3 1308.1 1054.2 1303.2 1050.1C1298.4 1046.0 1293.5 1042.0 1288.4 1038.2C1283.3 1034.4 1273.1 1026.8 1272.8 1027.2Z" fill="rgb(120,120,120)"/>
<path d="M1155.9 991.5C1155.7 992.1 1164.1 995.6 1168.3 997.3C1172.5 999.0 1176.8 1000.5 1181.2 1001.8C1185.5 1003.2 1189.8 1004.4 1194.3 1005.4C1198.7 1006.4 1207.6 1008.3 1207.8 1007.8C1208.0 1007.2 1199.6 1003.7 1195.4 1002.0C1191.2 1000.3 1186.8 998.8 1182.5 997.5C1178.2 996.1 1173.8 994.8 1169.4 993.8C1164.9 992.9 1156.0 990.9 1155.9 991.5Z" fill="rgb(131,131,131)"/>
<path d="M1168.8 861.6C1169.1 862.1 1177.1 857.2 1181.1 854.8C1185.1 852.3 1188.9 849.7 1192.7 847.0C1196.5 844.3 1200.3 841.5 1203.9 838.5C1207.4 835.6 1214.6 829.6 1214.3 829.2C1214.0 828.7 1206.0 833.6 1202.0 836.0C1198.1 838.5 1194.2 841.1 1190.4 843.8C1186.7 846.5 1182.9 849.3 1179.3 852.2C1175.7 855.2 1168.5 861.2 1168.8 861.6Z" fill="rgb(139,139,139)"/>
<path d="M1110.4 1033.7C1112.0 1031.0 1122.8 1035.9 1126.6 1040.2C1130.4 1044.6 1134.8 1057.0 1133.1 1059.7C1131.5 1062.4 1120.7 1060.8 1116.9 1056.5C1113.1 1052.1 1108.8 1036.4 1110.4 1033.7Z" fill="rgb(167,167,167)"/>
<path d="M1214.3 1144.1C1216.5 1143.1 1229.5 1147.9 1233.8 1150.6C1238.1 1153.3 1242.5 1159.3 1240.3 1160.4C1238.1 1161.5 1225.1 1159.8 1220.8 1157.1C1216.5 1154.4 1212.1 1145.2 1214.3 1144.1Z" fill="rgb(167,167,167)"/>
<path d="M1168.8 1027.2C1168.8 1026.2 1187.2 1036.4 1194.8 1040.2C1202.4 1044.0 1214.3 1048.9 1214.3 1050.0C1214.3 1051.1 1202.4 1050.5 1194.8 1046.7C1187.2 1042.9 1168.8 1028.3 1168.8 1027.2Z" fill="rgb(153,153,153)"/>
<path d="M1289.0 1105.2C1290.1 1103.6 1304.7 1107.9 1311.7 1111.7C1318.8 1115.5 1332.3 1126.3 1331.2 1127.9C1330.1 1129.5 1312.3 1125.2 1305.2 1121.4C1298.2 1117.6 1287.9 1106.8 1289.0 1105.2Z" fill="rgb(153,153,153)"/>
<path d="M1331.2 1121.4C1332.8 1118.7 1345.8 1114.4 1350.7 1114.9C1355.6 1115.5 1362.1 1122.0 1360.4 1124.7C1358.8 1127.4 1345.8 1131.7 1341.0 1131.2C1336.1 1130.6 1329.6 1124.1 1331.2 1121.4Z" fill="rgb(153,153,153)"/>
<path d="M1272.8 1183.1C1273.3 1181.5 1286.3 1188.5 1292.2 1192.9C1298.2 1197.2 1309.0 1207.5 1308.5 1209.1C1307.9 1210.7 1295.0 1206.9 1289.0 1202.6C1283.0 1198.3 1272.2 1184.7 1272.8 1183.1Z" fill="rgb(167,167,167)"/>
<g fill="rgb(26,26,26)" stroke="rgb(26,26,26)" stroke-width="4" stroke-linejoin="round" transform="translate(1.5 1.5)">
<polygon points="1223.5,806.9 1243.3,792.3 1260.1,810.0 1241.8,823.7"/>
<polygon points="1256.7,825.5 1265.8,816.4 1278.0,817.9 1281.1,833.2 1267.3,838.7"/>
<polygon points="1191.0,839.8 1207.8,826.1 1221.5,844.4 1200.1,852.0"/>
<polygon points="1179.2,852.2 1189.0,843.0 1204.3,870.5 1185.9,875.1"/>
<polygon points="1201.1,855.3 1222.4,846.1 1217.9,867.5 1211.8,869.0"/>
<polygon points="1128.8,891.7 1157.8,865.7 1178.6,876.4 1176.1,887.1 1136.4,899.3"/>
<polygon points="1146.6,905.5 1175.6,891.8 1171.0,904.0 1160.3,916.2"/>
<polygon points="1111.0,908.5 1122.6,904.0 1147.6,942.1 1138.5,944.6 1111.0,936.0"/>
<polygon points="1068.4,946.5 1081.6,934.9 1109.0,955.7 1096.8,967.3"/>
<polygon points="1057.8,970.5 1071.5,959.2 1102.1,981.2 1086.8,1005.0"/>
<polygon points="1122.2,964.4 1129.8,951.6 1164.9,966.8 1146.6,982.7"/>
<polygon points="1096.8,1013.0 1110.5,987.0 1125.8,994.7 1113.6,1025.2"/>
<polygon points="1122.5,1018.7 1136.2,991.2 1154.5,1003.4 1134.7,1030.9"/>
<polygon points="1176.9,935.2 1186.1,900.1 1194.6,897.0 1192.8,937.3"/>
<polygon points="1199.3,890.5 1210.6,887.4 1215.8,911.9 1205.4,914.9"/>
<polygon points="1201.2,923.5 1217.9,919.0 1225.6,941.9 1204.2,938.2"/>
<polygon points="1220.2,880.3 1244.0,876.9 1239.4,892.5 1225.7,894.6"/>
<polygon points="1270.5,875.3 1288.9,878.4 1291.9,895.5 1271.2,897.6"/>
<polygon points="1295.2,872.2 1315.0,865.4 1324.8,890.5 1298.2,891.1"/>
<polygon points="1280.5,954.9 1308.0,940.3 1317.2,958.0 1300.4,979.3 1289.7,978.7"/>
<polygon points="1313.5,934.7 1328.7,926.1 1347.7,965.8 1331.8,959.1"/>
<polygon points="1308.9,982.6 1328.8,967.4 1344.7,978.0 1336.4,994.8"/>
<polygon points="1277.9,1005.4 1293.2,991.7 1308.4,996.2 1303.8,1013.0 1284.0,1015.5"/>
<polygon points="1305.0,1015.6 1321.8,1006.5 1331.0,1012.6 1321.8,1026.3"/>
<polygon points="1289.4,1026.5 1301.6,1018.9 1318.4,1031.1 1312.3,1047.9 1297.0,1044.9"/>
<polygon points="1326.7,1041.9 1340.4,1038.8 1354.2,1054.1 1337.4,1070.9 1328.2,1066.3"/>
<polygon points="1362.3,1063.9 1373.9,1056.3 1383.7,1068.5 1375.1,1077.1"/>
<polygon points="1370.4,1083.6 1386.3,1080.5 1392.4,1100.4 1371.0,1101.0"/>
<polygon points="1285.4,1103.4 1296.1,1102.5 1308.3,1114.1 1300.7,1123.3 1285.4,1120.2"/>
<polygon points="1326.4,1128.2 1340.1,1122.0 1353.9,1128.2 1346.3,1143.4"/>
<polygon points="1358.0,1134.0 1368.7,1126.4 1380.9,1132.5 1374.8,1144.7"/>
<polygon points="1345.3,1148.2 1354.4,1140.6 1366.7,1149.7 1356.0,1159.8"/>
<polygon points="1136.8,1057.6 1169.8,1027.7 1179.0,1037.8 1147.8,1066.8"/>
<polygon points="1205.5,1034.1 1216.2,1026.4 1225.3,1035.6 1214.7,1044.8"/>
<polygon points="1167.7,1070.4 1199.8,1041.4 1208.0,1051.2 1176.9,1080.5"/>
<polygon points="1213.7,1065.8 1236.6,1047.5 1245.7,1058.2 1222.8,1075.6"/>
<polygon points="1176.8,1101.8 1209.8,1071.3 1218.9,1082.0 1186.9,1112.5"/>
<polygon points="1203.3,1114.6 1236.0,1085.6 1246.1,1096.3 1214.0,1125.3"/>
<polygon points="1233.5,1141.6 1261.0,1116.3 1270.1,1126.4 1242.6,1152.3"/>
<polygon points="1241.5,1173.5 1284.3,1132.3 1294.0,1143.0 1251.3,1184.2"/>
<polygon points="1278.6,1167.6 1290.9,1159.1 1312.8,1186.0 1300.6,1195.1"/>
<polygon points="1304.9,1151.9 1317.1,1143.6 1340.0,1172.3 1327.8,1180.9"/>
<polygon points="1262.1,1193.3 1274.9,1184.2 1297.2,1211.7 1285.0,1220.2"/>
</g>
</g></g>
<g fill="#14227a" stroke="#14227a" stroke-width="1.1" stroke-linejoin="round" transform="translate(1.2 1.3)">
<polygon points="1223.5,806.9 1243.3,792.3 1260.1,810.0 1241.8,823.7"/>
<polygon points="1256.7,825.5 1265.8,816.4 1278.0,817.9 1281.1,833.2 1267.3,838.7"/>
<polygon points="1191.0,839.8 1207.8,826.1 1221.5,844.4 1200.1,852.0"/>
<polygon points="1179.2,852.2 1189.0,843.0 1204.3,870.5 1185.9,875.1"/>
<polygon points="1201.1,855.3 1222.4,846.1 1217.9,867.5 1211.8,869.0"/>
<polygon points="1128.8,891.7 1157.8,865.7 1178.6,876.4 1176.1,887.1 1136.4,899.3"/>
<polygon points="1146.6,905.5 1175.6,891.8 1171.0,904.0 1160.3,916.2"/>
<polygon points="1111.0,908.5 1122.6,904.0 1147.6,942.1 1138.5,944.6 1111.0,936.0"/>
<polygon points="1068.4,946.5 1081.6,934.9 1109.0,955.7 1096.8,967.3"/>
<polygon points="1057.8,970.5 1071.5,959.2 1102.1,981.2 1086.8,1005.0"/>
<polygon points="1122.2,964.4 1129.8,951.6 1164.9,966.8 1146.6,982.7"/>
<polygon points="1096.8,1013.0 1110.5,987.0 1125.8,994.7 1113.6,1025.2"/>
<polygon points="1122.5,1018.7 1136.2,991.2 1154.5,1003.4 1134.7,1030.9"/>
<polygon points="1176.9,935.2 1186.1,900.1 1194.6,897.0 1192.8,937.3"/>
<polygon points="1199.3,890.5 1210.6,887.4 1215.8,911.9 1205.4,914.9"/>
<polygon points="1201.2,923.5 1217.9,919.0 1225.6,941.9 1204.2,938.2"/>
<polygon points="1220.2,880.3 1244.0,876.9 1239.4,892.5 1225.7,894.6"/>
<polygon points="1270.5,875.3 1288.9,878.4 1291.9,895.5 1271.2,897.6"/>
<polygon points="1295.2,872.2 1315.0,865.4 1324.8,890.5 1298.2,891.1"/>
<polygon points="1280.5,954.9 1308.0,940.3 1317.2,958.0 1300.4,979.3 1289.7,978.7"/>
<polygon points="1313.5,934.7 1328.7,926.1 1347.7,965.8 1331.8,959.1"/>
<polygon points="1308.9,982.6 1328.8,967.4 1344.7,978.0 1336.4,994.8"/>
<polygon points="1277.9,1005.4 1293.2,991.7 1308.4,996.2 1303.8,1013.0 1284.0,1015.5"/>
<polygon points="1305.0,1015.6 1321.8,1006.5 1331.0,1012.6 1321.8,1026.3"/>
<polygon points="1289.4,1026.5 1301.6,1018.9 1318.4,1031.1 1312.3,1047.9 1297.0,1044.9"/>
<polygon points="1326.7,1041.9 1340.4,1038.8 1354.2,1054.1 1337.4,1070.9 1328.2,1066.3"/>
<polygon points="1362.3,1063.9 1373.9,1056.3 1383.7,1068.5 1375.1,1077.1"/>
<polygon points="1370.4,1083.6 1386.3,1080.5 1392.4,1100.4 1371.0,1101.0"/>
<polygon points="1285.4,1103.4 1296.1,1102.5 1308.3,1114.1 1300.7,1123.3 1285.4,1120.2"/>
<polygon points="1326.4,1128.2 1340.1,1122.0 1353.9,1128.2 1346.3,1143.4"/>
<polygon points="1358.0,1134.0 1368.7,1126.4 1380.9,1132.5 1374.8,1144.7"/>
<polygon points="1345.3,1148.2 1354.4,1140.6 1366.7,1149.7 1356.0,1159.8"/>
<polygon points="1136.8,1057.6 1169.8,1027.7 1179.0,1037.8 1147.8,1066.8"/>
<polygon points="1205.5,1034.1 1216.2,1026.4 1225.3,1035.6 1214.7,1044.8"/>
<polygon points="1167.7,1070.4 1199.8,1041.4 1208.0,1051.2 1176.9,1080.5"/>
<polygon points="1213.7,1065.8 1236.6,1047.5 1245.7,1058.2 1222.8,1075.6"/>
<polygon points="1176.8,1101.8 1209.8,1071.3 1218.9,1082.0 1186.9,1112.5"/>
<polygon points="1203.3,1114.6 1236.0,1085.6 1246.1,1096.3 1214.0,1125.3"/>
<polygon points="1233.5,1141.6 1261.0,1116.3 1270.1,1126.4 1242.6,1152.3"/>
<polygon points="1241.5,1173.5 1284.3,1132.3 1294.0,1143.0 1251.3,1184.2"/>
<polygon points="1278.6,1167.6 1290.9,1159.1 1312.8,1186.0 1300.6,1195.1"/>
<polygon points="1304.9,1151.9 1317.1,1143.6 1340.0,1172.3 1327.8,1180.9"/>
<polygon points="1262.1,1193.3 1274.9,1184.2 1297.2,1211.7 1285.0,1220.2"/>
</g>
<g fill="#fff" stroke="#222" stroke-width="1" stroke-linejoin="round">
<polygon points="1223.5,806.9 1243.3,792.3 1260.1,810.0 1241.8,823.7"/>
<polygon points="1256.7,825.5 1265.8,816.4 1278.0,817.9 1281.1,833.2 1267.3,838.7"/>
<polygon points="1191.0,839.8 1207.8,826.1 1221.5,844.4 1200.1,852.0"/>
<polygon points="1179.2,852.2 1189.0,843.0 1204.3,870.5 1185.9,875.1"/>
<polygon points="1201.1,855.3 1222.4,846.1 1217.9,867.5 1211.8,869.0"/>
<polygon points="1128.8,891.7 1157.8,865.7 1178.6,876.4 1176.1,887.1 1136.4,899.3"/>
<polygon points="1146.6,905.5 1175.6,891.8 1171.0,904.0 1160.3,916.2"/>
<polygon points="1111.0,908.5 1122.6,904.0 1147.6,942.1 1138.5,944.6 1111.0,936.0"/>
<polygon points="1068.4,946.5 1081.6,934.9 1109.0,955.7 1096.8,967.3"/>
<polygon points="1057.8,970.5 1071.5,959.2 1102.1,981.2 1086.8,1005.0"/>
<polygon points="1122.2,964.4 1129.8,951.6 1164.9,966.8 1146.6,982.7"/>
<polygon points="1096.8,1013.0 1110.5,987.0 1125.8,994.7 1113.6,1025.2"/>
<polygon points="1122.5,1018.7 1136.2,991.2 1154.5,1003.4 1134.7,1030.9"/>
<polygon points="1176.9,935.2 1186.1,900.1 1194.6,897.0 1192.8,937.3"/>
<polygon points="1199.3,890.5 1210.6,887.4 1215.8,911.9 1205.4,914.9"/>
<polygon points="1201.2,923.5 1217.9,919.0 1225.6,941.9 1204.2,938.2"/>
<polygon points="1220.2,880.3 1244.0,876.9 1239.4,892.5 1225.7,894.6"/>
<polygon points="1270.5,875.3 1288.9,878.4 1291.9,895.5 1271.2,897.6"/>
<polygon points="1295.2,872.2 1315.0,865.4 1324.8,890.5 1298.2,891.1"/>
<polygon points="1280.5,954.9 1308.0,940.3 1317.2,958.0 1300.4,979.3 1289.7,978.7"/>
<polygon points="1313.5,934.7 1328.7,926.1 1347.7,965.8 1331.8,959.1"/>
<polygon points="1308.9,982.6 1328.8,967.4 1344.7,978.0 1336.4,994.8"/>
<polygon points="1277.9,1005.4 1293.2,991.7 1308.4,996.2 1303.8,1013.0 1284.0,1015.5"/>
<polygon points="1305.0,1015.6 1321.8,1006.5 1331.0,1012.6 1321.8,1026.3"/>
<polygon points="1289.4,1026.5 1301.6,1018.9 1318.4,1031.1 1312.3,1047.9 1297.0,1044.9"/>
<polygon points="1326.7,1041.9 1340.4,1038.8 1354.2,1054.1 1337.4,1070.9 1328.2,1066.3"/>
<polygon points="1362.3,1063.9 1373.9,1056.3 1383.7,1068.5 1375.1,1077.1"/>
<polygon points="1370.4,1083.6 1386.3,1080.5 1392.4,1100.4 1371.0,1101.0"/>
<polygon points="1285.4,1103.4 1296.1,1102.5 1308.3,1114.1 1300.7,1123.3 1285.4,1120.2"/>
<polygon points="1326.4,1128.2 1340.1,1122.0 1353.9,1128.2 1346.3,1143.4"/>
<polygon points="1358.0,1134.0 1368.7,1126.4 1380.9,1132.5 1374.8,1144.7"/>
<polygon points="1345.3,1148.2 1354.4,1140.6 1366.7,1149.7 1356.0,1159.8"/>
<polygon points="1136.8,1057.6 1169.8,1027.7 1179.0,1037.8 1147.8,1066.8"/>
<polygon points="1205.5,1034.1 1216.2,1026.4 1225.3,1035.6 1214.7,1044.8"/>
<polygon points="1167.7,1070.4 1199.8,1041.4 1208.0,1051.2 1176.9,1080.5"/>
<polygon points="1213.7,1065.8 1236.6,1047.5 1245.7,1058.2 1222.8,1075.6"/>
<polygon points="1176.8,1101.8 1209.8,1071.3 1218.9,1082.0 1186.9,1112.5"/>
<polygon points="1203.3,1114.6 1236.0,1085.6 1246.1,1096.3 1214.0,1125.3"/>
<polygon points="1233.5,1141.6 1261.0,1116.3 1270.1,1126.4 1242.6,1152.3"/>
<polygon points="1241.5,1173.5 1284.3,1132.3 1294.0,1143.0 1251.3,1184.2"/>
<polygon points="1278.6,1167.6 1290.9,1159.1 1312.8,1186.0 1300.6,1195.1"/>
<polygon points="1304.9,1151.9 1317.1,1143.6 1340.0,1172.3 1327.8,1180.9"/>
<polygon points="1262.1,1193.3 1274.9,1184.2 1297.2,1211.7 1285.0,1220.2"/>
</g>
<g transform="translate(1256.5 952.6) rotate(32)"><rect x="-4.3" y="-4.3" width="8.6" height="8.6" fill="#f4f4f4" stroke="#333" stroke-width="0.9"/><circle r="2.3" fill="#fff" stroke="#555" stroke-width="0.8"/></g>
</g>
<polygon points="1277.5,746.5 1313.5,838.4 1347.6,931.1 1379.8,1024.3 1410.1,1118.3 1290.0,1232.0 1042.1,966.8" fill="none" stroke="#1b5a6a" stroke-width="0.7" stroke-opacity="0.8"/>
</g>
<clipPath id="cpc1"><polygon points="325.3,1568.5 363.7,1664.7 399.7,1761.7 433.3,1859.6 464.6,1958.3 338.2,2072.5 80.5,1797.6"/></clipPath>
<clipPath id="crc1"><rect x="32" y="1531.4" width="476" height="575.6"/></clipPath>
<g clip-path="url(#crc1)"><g clip-path="url(#cpc1)">
<g transform="rotate(70 343.6 1811.8)" filter="url(#fl1)"><g transform="rotate(-70 343.6 1811.8)">
<rect x="-280" y="1208" width="1104" height="1224" fill="rgb(153,153,153)"/>
<path d="M230.2 1739.0C234.0 1734.4 246.1 1731.6 252.6 1727.9C259.1 1724.1 263.7 1716.7 269.3 1716.7C274.9 1716.7 283.8 1722.3 286.1 1727.9C288.4 1733.5 286.1 1743.7 283.3 1750.2C280.5 1756.7 274.4 1765.1 269.3 1767.0C264.2 1768.8 257.2 1760.4 252.6 1761.4C247.9 1762.3 245.1 1773.5 241.4 1772.6C237.7 1771.6 232.1 1761.4 230.2 1755.8C228.4 1750.2 226.5 1743.7 230.2 1739.0Z" fill="rgb(76,76,76)"/>
<path d="M290.8 1672.9C295.1 1669.6 331.9 1665.8 342.7 1666.4C353.6 1666.9 360.1 1672.9 355.7 1676.1C351.4 1679.4 327.6 1686.4 316.8 1685.9C305.9 1685.3 286.5 1676.1 290.8 1672.9Z" fill="rgb(76,76,76)"/>
<path d="M294.0 1588.5C297.2 1587.1 315.4 1586.6 321.9 1594.1C328.4 1601.5 334.0 1628.0 333.1 1633.2C332.1 1638.3 321.4 1629.9 316.3 1624.8C311.2 1619.7 306.1 1608.5 302.3 1602.4C298.6 1596.4 290.7 1589.9 294.0 1588.5Z" fill="rgb(76,76,76)"/>
<path d="M303.4 1716.1C305.3 1711.5 317.4 1721.7 323.0 1727.3C328.6 1732.9 335.5 1743.6 336.9 1749.6C338.3 1755.7 335.5 1762.7 331.4 1763.6C327.2 1764.5 316.5 1763.1 311.8 1755.2C307.2 1747.3 301.6 1720.8 303.4 1716.1Z" fill="rgb(76,76,76)"/>
<path d="M339.5 1737.8C343.8 1735.7 368.2 1740.0 375.2 1744.3C382.2 1748.7 386.0 1761.6 381.7 1763.8C377.4 1766.0 356.3 1761.6 349.2 1757.3C342.2 1753.0 335.2 1740.0 339.5 1737.8Z" fill="rgb(76,76,76)"/>
<path d="M104.9 1791.8C106.3 1782.5 130.9 1767.6 141.2 1763.9C151.4 1760.2 157.5 1764.8 166.3 1769.5C175.1 1774.1 187.7 1783.5 194.2 1791.8C200.7 1800.2 208.2 1812.3 205.4 1819.8C202.6 1827.2 185.9 1832.8 177.5 1836.5C169.1 1840.2 162.6 1844.9 155.1 1842.1C147.7 1839.3 141.2 1828.1 132.8 1819.8C124.4 1811.4 103.5 1801.1 104.9 1791.8Z" fill="rgb(76,76,76)"/>
<path d="M190.2 1711.7C192.1 1703.3 215.8 1681.9 226.5 1678.2C237.2 1674.5 248.9 1681.9 254.4 1689.4C260.0 1696.8 262.8 1715.4 260.0 1722.9C257.2 1730.3 245.1 1733.1 237.7 1734.0C230.2 1735.0 223.3 1732.2 215.3 1728.5C207.4 1724.7 188.4 1720.1 190.2 1711.7Z" fill="rgb(76,76,76)"/>
<path d="M324.6 1791.5C329.3 1784.0 347.9 1775.6 358.2 1774.7C368.4 1773.8 377.7 1772.9 386.1 1785.9C394.5 1798.9 401.9 1832.4 408.4 1852.9C414.9 1873.4 426.1 1897.6 425.2 1908.8C424.2 1919.9 411.2 1924.6 402.8 1919.9C394.5 1915.3 384.2 1893.9 374.9 1880.8C365.6 1867.8 354.4 1852.0 347.0 1841.7C339.5 1831.5 333.9 1827.8 330.2 1819.4C326.5 1811.0 320.0 1798.9 324.6 1791.5Z" fill="rgb(76,76,76)"/>
<path d="M315.0 1908.9C316.8 1905.6 330.8 1904.2 337.3 1906.1C343.8 1908.0 347.5 1914.9 354.1 1920.1C360.6 1925.2 376.4 1934.0 376.4 1936.8C376.4 1939.6 362.4 1938.7 354.1 1936.8C345.7 1934.9 332.7 1930.3 326.1 1925.6C319.6 1921.0 313.1 1912.1 315.0 1908.9Z" fill="rgb(76,76,76)"/>
<path d="M213.9 1868.0C218.5 1855.9 246.5 1860.5 258.6 1862.4C270.7 1864.3 280.9 1869.8 286.5 1879.1C292.1 1888.5 293.0 1907.1 292.1 1918.2C291.2 1929.4 286.5 1939.7 280.9 1946.2C275.3 1952.7 266.9 1959.2 258.6 1957.3C250.2 1955.5 238.1 1949.9 230.6 1935.0C223.2 1920.1 209.2 1880.1 213.9 1868.0Z" fill="rgb(76,76,76)"/>
<path d="M291.0 1968.8C292.8 1963.7 314.2 1963.3 324.5 1966.1C334.7 1968.8 344.9 1977.7 352.4 1985.6C359.8 1993.5 371.0 2007.9 369.2 2013.5C367.3 2019.1 350.5 2021.9 341.2 2019.1C331.9 2016.3 321.7 2005.2 313.3 1996.8C304.9 1988.4 289.1 1974.0 291.0 1968.8Z" fill="rgb(76,76,76)"/>
<path d="M378.8 1964.3C385.4 1961.5 409.6 1963.8 417.9 1967.0C426.3 1970.3 431.9 1979.1 429.1 1983.8C426.3 1988.5 409.6 1995.0 401.2 1995.0C392.8 1995.0 382.6 1988.9 378.8 1983.8C375.1 1978.7 372.3 1967.0 378.8 1964.3Z" fill="rgb(76,76,76)"/>
<path d="M212.0 1854.9C213.8 1853.0 230.6 1843.7 239.9 1843.7C249.2 1843.7 262.2 1850.7 267.8 1854.9C273.4 1859.1 275.3 1868.4 273.4 1868.8C271.5 1869.3 264.1 1860.0 256.6 1857.7C249.2 1855.3 236.2 1855.3 228.7 1854.9C221.3 1854.4 210.1 1856.7 212.0 1854.9Z" fill="rgb(76,76,76)"/>
<path d="M83.0 1796.3C105.7 1773.0 200.9 1687.0 225.8 1666.4C250.7 1645.8 255.1 1649.6 232.3 1672.9C209.6 1696.2 114.3 1785.5 89.5 1806.0C64.6 1826.6 60.2 1819.5 83.0 1796.3Z" fill="rgb(76,76,76)"/>
<path d="M245.3 1874.2C246.4 1868.3 258.3 1864.5 264.8 1867.7C271.3 1871.0 285.4 1887.7 284.3 1893.7C283.2 1899.6 264.8 1906.7 258.3 1903.4C251.8 1900.2 244.2 1880.2 245.3 1874.2Z" fill="rgb(148,148,148)"/>
<path d="M289.2 1747.6C290.5 1743.2 292.6 1750.3 292.7 1757.3C292.9 1764.3 291.5 1779.0 290.1 1789.8C288.7 1800.6 285.9 1817.9 284.3 1822.3C282.7 1826.6 280.3 1822.3 280.4 1815.8C280.5 1809.3 283.5 1794.7 284.9 1783.3C286.4 1771.9 287.9 1751.9 289.2 1747.6Z" fill="rgb(230,230,230)"/>
<path d="M209.0 1799.5C209.5 1797.4 214.5 1801.7 216.1 1806.0C217.7 1810.3 219.2 1823.3 218.7 1825.5C218.2 1827.7 214.5 1823.3 212.8 1819.0C211.2 1814.7 208.4 1801.7 209.0 1799.5Z" fill="rgb(230,230,230)"/>
<path d="M178.8 1858.0C180.4 1852.6 183.6 1854.7 183.6 1861.2C183.6 1867.7 180.4 1891.5 178.8 1896.9C177.1 1902.4 173.9 1900.2 173.9 1893.7C173.9 1887.2 177.1 1863.4 178.8 1858.0Z" fill="rgb(230,230,230)"/>
<path d="M159.3 1854.7C161.2 1852.8 167.1 1851.5 167.4 1853.1C167.7 1854.7 162.8 1862.6 160.9 1864.5C159.0 1866.4 156.3 1866.1 156.0 1864.5C155.7 1862.8 157.4 1856.6 159.3 1854.7Z" fill="rgb(230,230,230)"/>
<path d="M181.0 1713.5C181.7 1712.9 183.8 1718.1 184.3 1721.6C184.7 1725.1 184.3 1734.0 183.6 1734.6C183.0 1735.1 180.8 1728.4 180.4 1724.8C179.9 1721.3 180.4 1714.0 181.0 1713.5Z" fill="rgb(230,230,230)"/>
<path d="M219.3 1720.0C220.4 1719.4 227.2 1722.1 227.5 1723.2C227.7 1724.3 222.3 1727.0 221.0 1726.5C219.6 1725.9 218.3 1720.5 219.3 1720.0Z" fill="rgb(230,230,230)"/>
<path d="M374.6 1770.3C375.5 1769.8 378.2 1774.1 378.5 1776.8C378.7 1779.5 376.8 1786.0 375.9 1786.5C374.9 1787.1 372.8 1782.7 372.6 1780.0C372.4 1777.3 373.6 1770.8 374.6 1770.3Z" fill="rgb(230,230,230)"/>
<path d="M393.1 1884.0C395.0 1882.1 402.0 1879.6 402.8 1880.7C403.6 1881.8 399.8 1888.6 397.9 1890.4C396.0 1892.3 392.3 1893.2 391.4 1892.1C390.6 1891.0 391.2 1885.8 393.1 1884.0Z" fill="rgb(230,230,230)"/>
<path d="M386.6 1849.9C387.4 1848.5 394.2 1845.8 394.7 1846.6C395.2 1847.4 391.2 1854.2 389.8 1854.7C388.5 1855.3 385.8 1851.2 386.6 1849.9Z" fill="rgb(230,230,230)"/>
<path d="M277.8 1984.6C279.0 1983.0 282.4 1985.2 282.7 1987.9C282.9 1990.6 280.7 1999.2 279.4 2000.9C278.2 2002.5 275.5 2000.3 275.2 1997.6C274.9 1994.9 276.5 1986.2 277.8 1984.6Z" fill="rgb(230,230,230)"/>
<path d="M347.6 1658.3C348.0 1657.5 350.7 1661.5 350.9 1663.1C351.0 1664.8 349.1 1668.8 348.6 1668.0C348.0 1667.2 347.2 1659.1 347.6 1658.3Z" fill="rgb(230,230,230)"/>
<path d="M386.6 1961.9C388.5 1960.8 396.6 1963.0 397.9 1965.1C399.3 1967.3 396.6 1973.8 394.7 1974.9C392.8 1976.0 387.9 1973.8 386.6 1971.6C385.2 1969.5 384.7 1963.0 386.6 1961.9Z" fill="rgb(5,5,5)"/>
<path d="M342.7 1971.6C348.4 1967.4 372.2 1952.4 378.5 1948.9C384.7 1945.4 386.0 1946.6 380.4 1950.8C374.8 1955.1 351.0 1970.8 344.7 1974.2C338.4 1977.7 337.1 1975.9 342.7 1971.6Z" fill="rgb(5,5,5)"/>
<g fill="rgb(74,74,74)" stroke="rgb(74,74,74)" stroke-width="4.2" stroke-linejoin="round" transform="translate(1 1)">
<polygon points="299.8,1611.1 323.6,1587.3 334.7,1615.8 312.5,1623.7"/>
<polygon points="283.2,1623.6 291.1,1604.6 330.7,1649.0 319.6,1657.0"/>
<polygon points="285.6,1657.0 342.7,1638.0 347.5,1657.0 290.4,1671.3"/>
<polygon points="279.7,1628.5 287.7,1625.3 294.9,1636.4 287.7,1640.2"/>
<polygon points="228.9,1673.0 244.7,1657.1 257.4,1682.5 244.7,1692.0"/>
<polygon points="248.4,1692.3 262.7,1684.4 268.4,1698.7 254.8,1703.4"/>
<polygon points="212.9,1699.9 222.5,1687.2 230.4,1699.9 222.5,1712.6"/>
<polygon points="229.0,1709.8 240.1,1705.0 254.4,1723.4 241.7,1728.8"/>
<polygon points="185.1,1720.4 193.6,1708.7 220.6,1723.6 214.2,1744.2"/>
<polygon points="298.1,1685.3 309.5,1683.7 314.9,1694.2 303.8,1699.9"/>
<polygon points="331.3,1691.0 347.2,1679.0 355.1,1691.0 339.3,1700.6"/>
<polygon points="307.4,1707.3 329.6,1691.4 339.1,1705.7 313.7,1726.3"/>
<polygon points="358.1,1714.3 369.9,1710.4 375.6,1730.1 368.6,1730.1"/>
<polygon points="337.3,1725.0 354.8,1718.6 358.6,1729.7 341.5,1734.5"/>
<polygon points="140.1,1756.2 151.2,1745.1 162.3,1756.2 154.4,1768.9"/>
<polygon points="156.6,1772.6 166.1,1763.1 175.6,1771.0 164.5,1777.4"/>
<polygon points="126.1,1779.9 135.0,1771.0 142.9,1781.5 133.4,1787.8"/>
<polygon points="135.5,1790.2 149.8,1779.1 162.5,1790.2 150.4,1806.1"/>
<polygon points="96.8,1800.7 109.5,1781.0 131.7,1803.9 119.0,1816.5"/>
<polygon points="125.4,1815.3 133.3,1807.4 144.4,1820.1 141.2,1829.6"/>
<polygon points="182.3,1796.1 189.6,1785.0 203.8,1804.0 197.5,1808.8"/>
<polygon points="160.9,1820.3 170.4,1801.3 183.7,1809.2 175.2,1826.7"/>
<polygon points="149.7,1837.9 157.0,1823.6 171.3,1831.6 163.3,1847.4"/>
<polygon points="343.9,1772.4 363.6,1762.9 371.5,1772.4 354.1,1786.7"/>
<polygon points="322.3,1787.1 339.7,1777.6 347.7,1795.0 335.0,1803.0"/>
<polygon points="352.0,1812.7 363.1,1801.6 369.5,1798.4 374.2,1812.7 364.7,1823.8"/>
<polygon points="329.8,1831.9 348.9,1816.1 353.6,1828.8 336.2,1843.0"/>
<polygon points="368.0,1841.0 393.4,1820.4 402.9,1831.5 377.5,1852.1"/>
<polygon points="352.1,1851.2 363.2,1843.3 374.3,1856.0 364.8,1865.5"/>
<polygon points="392.2,1858.7 408.1,1845.3 411.3,1861.8 397.0,1876.1"/>
<polygon points="370.8,1879.5 385.7,1865.3 392.1,1882.7 379.4,1890.6"/>
<polygon points="351.3,1895.9 363.4,1885.4 369.7,1895.9 358.6,1904.4"/>
<polygon points="383.4,1907.6 397.6,1898.1 400.8,1912.4 389.7,1918.7"/>
<polygon points="402.6,1897.3 413.7,1886.2 424.8,1900.4 407.4,1908.4"/>
<polygon points="401.3,1926.1 412.4,1923.6 415.6,1934.7 404.5,1935.6"/>
<polygon points="419.8,1925.1 429.3,1922.9 435.0,1938.8 419.1,1936.2"/>
<polygon points="343.5,1954.7 357.7,1953.8 358.4,1967.4 344.4,1968.4"/>
<polygon points="399.8,1977.4 406.1,1967.9 415.6,1974.3 409.3,1986.3"/>
<polygon points="179.5,1892.0 212.8,1863.4 222.3,1873.6 189.0,1903.1"/>
<polygon points="251.5,1867.6 261.0,1860.6 268.9,1870.7 259.4,1878.7"/>
<polygon points="211.6,1905.4 243.9,1875.2 253.4,1886.3 221.7,1915.8"/>
<polygon points="258.4,1900.5 282.2,1882.1 291.7,1894.2 268.5,1911.6"/>
<polygon points="220.1,1938.9 254.3,1907.8 263.9,1918.9 230.6,1949.1"/>
<polygon points="249.2,1952.8 282.5,1921.7 292.0,1932.8 258.7,1963.3"/>
<polygon points="280.5,1979.3 308.1,1954.9 317.0,1965.0 290.0,1990.4"/>
<polygon points="288.8,2012.4 333.2,1971.2 342.8,1982.3 298.4,2023.5"/>
<polygon points="326.5,2007.9 339.2,1998.4 361.4,2025.4 348.7,2035.5"/>
<polygon points="354.7,1991.5 367.4,1982.7 389.6,2011.2 376.9,2020.1"/>
<polygon points="310.2,2033.1 322.9,2024.2 345.1,2050.6 332.4,2060.1"/>
</g>
</g></g>
<g stroke="#8a8a8a" stroke-width="1.3">
<line x1="234.9" y1="1676.2" x2="217.4" y2="1722.1"/>
<line x1="141.5" y1="1813.1" x2="150.4" y2="1803.6"/>
<line x1="183.0" y1="1810.2" x2="187.1" y2="1800.1"/>
<line x1="332.1" y1="1711.7" x2="341.9" y2="1726.0"/>
<line x1="358.8" y1="1778.4" x2="364.7" y2="1800.1"/>
<line x1="351.4" y1="1831.8" x2="359.7" y2="1842.8"/>
<line x1="326.2" y1="1615.4" x2="332.1" y2="1640.6"/>
<line x1="421.0" y1="1901.8" x2="426.1" y2="1924.0"/>
</g>
<g fill="#14227a" stroke="#14227a" stroke-width="1.1" stroke-linejoin="round" transform="translate(1.2 1.3)">
<polygon points="299.8,1611.1 323.6,1587.3 334.7,1615.8 312.5,1623.7"/>
<polygon points="283.2,1623.6 291.1,1604.6 330.7,1649.0 319.6,1657.0"/>
<polygon points="285.6,1657.0 342.7,1638.0 347.5,1657.0 290.4,1671.3"/>
<polygon points="279.7,1628.5 287.7,1625.3 294.9,1636.4 287.7,1640.2"/>
<polygon points="228.9,1673.0 244.7,1657.1 257.4,1682.5 244.7,1692.0"/>
<polygon points="248.4,1692.3 262.7,1684.4 268.4,1698.7 254.8,1703.4"/>
<polygon points="212.9,1699.9 222.5,1687.2 230.4,1699.9 222.5,1712.6"/>
<polygon points="229.0,1709.8 240.1,1705.0 254.4,1723.4 241.7,1728.8"/>
<polygon points="185.1,1720.4 193.6,1708.7 220.6,1723.6 214.2,1744.2"/>
<polygon points="298.1,1685.3 309.5,1683.7 314.9,1694.2 303.8,1699.9"/>
<polygon points="331.3,1691.0 347.2,1679.0 355.1,1691.0 339.3,1700.6"/>
<polygon points="307.4,1707.3 329.6,1691.4 339.1,1705.7 313.7,1726.3"/>
<polygon points="358.1,1714.3 369.9,1710.4 375.6,1730.1 368.6,1730.1"/>
<polygon points="337.3,1725.0 354.8,1718.6 358.6,1729.7 341.5,1734.5"/>
<polygon points="140.1,1756.2 151.2,1745.1 162.3,1756.2 154.4,1768.9"/>
<polygon points="156.6,1772.6 166.1,1763.1 175.6,1771.0 164.5,1777.4"/>
<polygon points="126.1,1779.9 135.0,1771.0 142.9,1781.5 133.4,1787.8"/>
<polygon points="135.5,1790.2 149.8,1779.1 162.5,1790.2 150.4,1806.1"/>
<polygon points="96.8,1800.7 109.5,1781.0 131.7,1803.9 119.0,1816.5"/>
<polygon points="125.4,1815.3 133.3,1807.4 144.4,1820.1 141.2,1829.6"/>
<polygon points="182.3,1796.1 189.6,1785.0 203.8,1804.0 197.5,1808.8"/>
<polygon points="160.9,1820.3 170.4,1801.3 183.7,1809.2 175.2,1826.7"/>
<polygon points="149.7,1837.9 157.0,1823.6 171.3,1831.6 163.3,1847.4"/>
<polygon points="343.9,1772.4 363.6,1762.9 371.5,1772.4 354.1,1786.7"/>
<polygon points="322.3,1787.1 339.7,1777.6 347.7,1795.0 335.0,1803.0"/>
<polygon points="352.0,1812.7 363.1,1801.6 369.5,1798.4 374.2,1812.7 364.7,1823.8"/>
<polygon points="329.8,1831.9 348.9,1816.1 353.6,1828.8 336.2,1843.0"/>
<polygon points="368.0,1841.0 393.4,1820.4 402.9,1831.5 377.5,1852.1"/>
<polygon points="352.1,1851.2 363.2,1843.3 374.3,1856.0 364.8,1865.5"/>
<polygon points="392.2,1858.7 408.1,1845.3 411.3,1861.8 397.0,1876.1"/>
<polygon points="370.8,1879.5 385.7,1865.3 392.1,1882.7 379.4,1890.6"/>
<polygon points="351.3,1895.9 363.4,1885.4 369.7,1895.9 358.6,1904.4"/>
<polygon points="383.4,1907.6 397.6,1898.1 400.8,1912.4 389.7,1918.7"/>
<polygon points="402.6,1897.3 413.7,1886.2 424.8,1900.4 407.4,1908.4"/>
<polygon points="401.3,1926.1 412.4,1923.6 415.6,1934.7 404.5,1935.6"/>
<polygon points="419.8,1925.1 429.3,1922.9 435.0,1938.8 419.1,1936.2"/>
<polygon points="343.5,1954.7 357.7,1953.8 358.4,1967.4 344.4,1968.4"/>
<polygon points="399.8,1977.4 406.1,1967.9 415.6,1974.3 409.3,1986.3"/>
<polygon points="179.5,1892.0 212.8,1863.4 222.3,1873.6 189.0,1903.1"/>
<polygon points="251.5,1867.6 261.0,1860.6 268.9,1870.7 259.4,1878.7"/>
<polygon points="211.6,1905.4 243.9,1875.2 253.4,1886.3 221.7,1915.8"/>
<polygon points="258.4,1900.5 282.2,1882.1 291.7,1894.2 268.5,1911.6"/>
<polygon points="220.1,1938.9 254.3,1907.8 263.9,1918.9 230.6,1949.1"/>
<polygon points="249.2,1952.8 282.5,1921.7 292.0,1932.8 258.7,1963.3"/>
<polygon points="280.5,1979.3 308.1,1954.9 317.0,1965.0 290.0,1990.4"/>
<polygon points="288.8,2012.4 333.2,1971.2 342.8,1982.3 298.4,2023.5"/>
<polygon points="326.5,2007.9 339.2,1998.4 361.4,2025.4 348.7,2035.5"/>
<polygon points="354.7,1991.5 367.4,1982.7 389.6,2011.2 376.9,2020.1"/>
<polygon points="310.2,2033.1 322.9,2024.2 345.1,2050.6 332.4,2060.1"/>
</g>
<g fill="#fff" stroke="#151515" stroke-width="1.3" stroke-linejoin="round">
<polygon points="299.8,1611.1 323.6,1587.3 334.7,1615.8 312.5,1623.7"/>
<polygon points="283.2,1623.6 291.1,1604.6 330.7,1649.0 319.6,1657.0"/>
<polygon points="285.6,1657.0 342.7,1638.0 347.5,1657.0 290.4,1671.3"/>
<polygon points="279.7,1628.5 287.7,1625.3 294.9,1636.4 287.7,1640.2"/>
<polygon points="228.9,1673.0 244.7,1657.1 257.4,1682.5 244.7,1692.0"/>
<polygon points="248.4,1692.3 262.7,1684.4 268.4,1698.7 254.8,1703.4"/>
<polygon points="212.9,1699.9 222.5,1687.2 230.4,1699.9 222.5,1712.6"/>
<polygon points="229.0,1709.8 240.1,1705.0 254.4,1723.4 241.7,1728.8"/>
<polygon points="185.1,1720.4 193.6,1708.7 220.6,1723.6 214.2,1744.2"/>
<polygon points="298.1,1685.3 309.5,1683.7 314.9,1694.2 303.8,1699.9"/>
<polygon points="331.3,1691.0 347.2,1679.0 355.1,1691.0 339.3,1700.6"/>
<polygon points="307.4,1707.3 329.6,1691.4 339.1,1705.7 313.7,1726.3"/>
<polygon points="358.1,1714.3 369.9,1710.4 375.6,1730.1 368.6,1730.1"/>
<polygon points="337.3,1725.0 354.8,1718.6 358.6,1729.7 341.5,1734.5"/>
<polygon points="140.1,1756.2 151.2,1745.1 162.3,1756.2 154.4,1768.9"/>
<polygon points="156.6,1772.6 166.1,1763.1 175.6,1771.0 164.5,1777.4"/>
<polygon points="126.1,1779.9 135.0,1771.0 142.9,1781.5 133.4,1787.8"/>
<polygon points="135.5,1790.2 149.8,1779.1 162.5,1790.2 150.4,1806.1"/>
<polygon points="96.8,1800.7 109.5,1781.0 131.7,1803.9 119.0,1816.5"/>
<polygon points="125.4,1815.3 133.3,1807.4 144.4,1820.1 141.2,1829.6"/>
<polygon points="182.3,1796.1 189.6,1785.0 203.8,1804.0 197.5,1808.8"/>
<polygon points="160.9,1820.3 170.4,1801.3 183.7,1809.2 175.2,1826.7"/>
<polygon points="149.7,1837.9 157.0,1823.6 171.3,1831.6 163.3,1847.4"/>
<polygon points="343.9,1772.4 363.6,1762.9 371.5,1772.4 354.1,1786.7"/>
<polygon points="322.3,1787.1 339.7,1777.6 347.7,1795.0 335.0,1803.0"/>
<polygon points="352.0,1812.7 363.1,1801.6 369.5,1798.4 374.2,1812.7 364.7,1823.8"/>
<polygon points="329.8,1831.9 348.9,1816.1 353.6,1828.8 336.2,1843.0"/>
<polygon points="368.0,1841.0 393.4,1820.4 402.9,1831.5 377.5,1852.1"/>
<polygon points="352.1,1851.2 363.2,1843.3 374.3,1856.0 364.8,1865.5"/>
<polygon points="392.2,1858.7 408.1,1845.3 411.3,1861.8 397.0,1876.1"/>
<polygon points="370.8,1879.5 385.7,1865.3 392.1,1882.7 379.4,1890.6"/>
<polygon points="351.3,1895.9 363.4,1885.4 369.7,1895.9 358.6,1904.4"/>
<polygon points="383.4,1907.6 397.6,1898.1 400.8,1912.4 389.7,1918.7"/>
<polygon points="402.6,1897.3 413.7,1886.2 424.8,1900.4 407.4,1908.4"/>
<polygon points="401.3,1926.1 412.4,1923.6 415.6,1934.7 404.5,1935.6"/>
<polygon points="419.8,1925.1 429.3,1922.9 435.0,1938.8 419.1,1936.2"/>
<polygon points="343.5,1954.7 357.7,1953.8 358.4,1967.4 344.4,1968.4"/>
<polygon points="399.8,1977.4 406.1,1967.9 415.6,1974.3 409.3,1986.3"/>
<polygon points="179.5,1892.0 212.8,1863.4 222.3,1873.6 189.0,1903.1"/>
<polygon points="251.5,1867.6 261.0,1860.6 268.9,1870.7 259.4,1878.7"/>
<polygon points="211.6,1905.4 243.9,1875.2 253.4,1886.3 221.7,1915.8"/>
<polygon points="258.4,1900.5 282.2,1882.1 291.7,1894.2 268.5,1911.6"/>
<polygon points="220.1,1938.9 254.3,1907.8 263.9,1918.9 230.6,1949.1"/>
<polygon points="249.2,1952.8 282.5,1921.7 292.0,1932.8 258.7,1963.3"/>
<polygon points="280.5,1979.3 308.1,1954.9 317.0,1965.0 290.0,1990.4"/>
<polygon points="288.8,2012.4 333.2,1971.2 342.8,1982.3 298.4,2023.5"/>
<polygon points="326.5,2007.9 339.2,1998.4 361.4,2025.4 348.7,2035.5"/>
<polygon points="354.7,1991.5 367.4,1982.7 389.6,2011.2 376.9,2020.1"/>
<polygon points="310.2,2033.1 322.9,2024.2 345.1,2050.6 332.4,2060.1"/>
</g>
<g fill="none" stroke="#5a4a4a" stroke-width="0.7" stroke-linejoin="round">
<polygon points="235.2,1713.3 240.7,1710.9 247.9,1720.1 241.5,1722.8"/>
<polygon points="314.9,1707.5 326.0,1699.5 330.8,1706.7 318.1,1717.0"/>
<polygon points="142.6,1790.8 149.7,1785.3 156.0,1790.8 150.0,1798.7"/>
<polygon points="130.7,1816.7 134.7,1812.7 140.3,1819.1 138.7,1823.8"/>
<polygon points="329.2,1788.9 338.0,1784.1 341.9,1792.9 335.6,1796.8"/>
<polygon points="397.2,1859.6 405.1,1852.9 406.7,1861.2 399.6,1868.3"/>
<polygon points="388.1,1908.4 395.3,1903.6 396.8,1910.8 391.3,1913.9"/>
</g>
<g transform="translate(303.1 1784.9) rotate(32)"><rect x="-4.3" y="-4.3" width="8.6" height="8.6" fill="#f4f4f4" stroke="#333" stroke-width="0.9"/><circle r="2.3" fill="#fff" stroke="#555" stroke-width="0.8"/></g>
</g>
<polygon points="325.3,1568.5 363.7,1664.7 399.7,1761.7 433.3,1859.6 464.6,1958.3 338.2,2072.5 80.5,1797.6" fill="none" stroke="#1b5a6a" stroke-width="0.7" stroke-opacity="0.8"/>
</g>
<clipPath id="cpc2"><polygon points="795.2,1569.4 833.2,1664.7 868.8,1760.8 902.1,1857.7 933.0,1955.5 807.5,2072.5 550.7,1798.2"/></clipPath>
<clipPath id="crc2"><rect x="510" y="1531.4" width="476" height="575.6"/></clipPath>
<g clip-path="url(#crc2)"><g clip-path="url(#cpc2)">
<g transform="rotate(70 812.9 1811.2)" filter="url(#fl2)"><g transform="rotate(-70 812.9 1811.2)">
<rect x="191" y="1209" width="1102" height="1223" fill="rgb(153,153,153)"/>
<path d="M703.6 1750.3C704.5 1742.8 720.4 1734.4 725.9 1727.9C731.5 1721.4 731.5 1713.0 737.1 1711.2C742.7 1709.3 754.8 1713.0 759.5 1716.7C764.1 1720.5 765.0 1727.0 765.0 1733.5C765.0 1740.0 759.5 1749.3 759.5 1755.8C759.5 1762.4 767.8 1768.4 765.0 1772.6C762.3 1776.8 750.2 1781.0 742.7 1781.0C735.3 1781.0 726.9 1777.7 720.4 1772.6C713.8 1767.5 702.7 1757.7 703.6 1750.3Z" fill="rgb(76,76,76)"/>
<path d="M716.8 1685.9C720.1 1682.6 737.4 1688.0 742.8 1692.4C748.2 1696.7 752.5 1708.6 749.3 1711.8C746.1 1715.1 728.7 1716.2 723.3 1711.8C717.9 1707.5 713.6 1689.1 716.8 1685.9Z" fill="rgb(76,76,76)"/>
<path d="M753.7 1629.2C754.6 1622.7 763.0 1619.0 770.4 1618.1C777.9 1617.1 791.9 1618.1 798.4 1623.7C804.9 1629.2 811.4 1645.1 809.5 1651.6C807.7 1658.1 794.7 1661.8 787.2 1662.7C779.8 1663.7 770.4 1662.7 764.9 1657.2C759.3 1651.6 752.8 1635.8 753.7 1629.2Z" fill="rgb(76,76,76)"/>
<path d="M779.4 1677.7C782.2 1674.0 793.3 1686.1 801.7 1688.9C810.1 1691.7 825.0 1687.0 829.6 1694.5C834.3 1701.9 834.3 1726.1 829.6 1733.6C825.0 1741.0 809.2 1742.9 801.7 1739.2C794.3 1735.4 788.7 1721.5 785.0 1711.2C781.2 1701.0 776.6 1681.5 779.4 1677.7Z" fill="rgb(76,76,76)"/>
<path d="M574.9 1791.4C576.7 1780.2 598.1 1762.5 608.4 1757.9C618.6 1753.2 628.8 1757.0 636.3 1763.5C643.7 1770.0 651.2 1785.8 653.0 1797.0C654.9 1808.2 652.1 1822.6 647.5 1830.5C642.8 1838.4 633.5 1845.4 625.1 1844.5C616.7 1843.5 605.6 1833.8 597.2 1824.9C588.8 1816.1 573.0 1802.6 574.9 1791.4Z" fill="rgb(76,76,76)"/>
<path d="M658.5 1716.5C660.4 1706.3 680.9 1684.9 692.1 1677.4C703.2 1670.0 719.1 1668.1 725.6 1671.8C732.1 1675.6 733.9 1690.5 731.2 1699.8C728.4 1709.1 717.2 1721.2 708.8 1727.7C700.4 1734.2 689.3 1740.7 680.9 1738.9C672.5 1737.0 656.7 1726.8 658.5 1716.5Z" fill="rgb(76,76,76)"/>
<path d="M795.9 1786.5C802.4 1779.1 820.1 1770.7 829.4 1769.8C838.7 1768.8 843.4 1768.8 851.8 1780.9C860.1 1793.0 872.2 1821.9 879.7 1842.4C887.1 1862.9 895.5 1889.9 896.4 1903.8C897.4 1917.8 891.8 1924.3 885.3 1926.2C878.8 1928.0 865.7 1922.4 857.3 1915.0C849.0 1907.5 843.4 1893.6 835.0 1881.5C826.6 1869.4 814.5 1853.5 807.1 1842.4C799.6 1831.2 792.2 1823.8 790.3 1814.4C788.5 1805.1 789.4 1794.0 795.9 1786.5Z" fill="rgb(76,76,76)"/>
<path d="M765.2 1851.0C769.8 1851.0 780.1 1858.4 787.5 1862.1C795.0 1865.9 808.0 1869.6 809.8 1873.3C811.7 1877.0 804.3 1884.5 798.7 1884.5C793.1 1884.5 782.9 1877.0 776.3 1873.3C769.8 1869.6 761.4 1865.9 759.6 1862.1C757.7 1858.4 760.5 1851.0 765.2 1851.0Z" fill="rgb(76,76,76)"/>
<path d="M807.7 1903.4C814.2 1900.7 850.0 1908.3 859.7 1913.2C869.4 1918.1 872.7 1930.0 866.2 1932.7C859.7 1935.4 830.5 1934.3 820.7 1929.4C811.0 1924.5 801.3 1906.1 807.7 1903.4Z" fill="rgb(76,76,76)"/>
<path d="M667.2 1879.1C670.0 1871.7 691.4 1867.0 706.3 1868.0C721.2 1868.9 747.3 1875.4 756.6 1884.7C765.9 1894.0 763.1 1912.7 762.2 1923.8C761.2 1935.0 758.4 1948.0 751.0 1951.8C743.5 1955.5 727.7 1952.7 717.5 1946.2C707.2 1939.7 697.9 1923.8 689.5 1912.7C681.2 1901.5 664.4 1886.6 667.2 1879.1Z" fill="rgb(76,76,76)"/>
<path d="M762.9 1966.5C765.7 1960.9 790.8 1959.5 802.0 1963.7C813.2 1967.9 822.5 1982.3 829.9 1991.6C837.4 2001.0 849.5 2013.1 846.7 2019.6C843.9 2026.1 823.4 2034.5 813.2 2030.7C802.9 2027.0 793.6 2007.9 785.3 1997.2C776.9 1986.5 760.1 1972.1 762.9 1966.5Z" fill="rgb(76,76,76)"/>
<path d="M846.7 1961.9C850.0 1957.0 877.0 1963.5 885.7 1968.4C894.3 1973.3 901.9 1986.2 898.7 1991.1C895.4 1996.0 874.9 2002.5 866.2 1997.6C857.5 1992.7 843.5 1966.8 846.7 1961.9Z" fill="rgb(76,76,76)"/>
<path d="M716.8 1838.5C719.0 1835.2 736.3 1829.3 742.8 1832.0C749.3 1834.7 758.0 1851.5 755.8 1854.7C753.6 1858.0 736.3 1854.2 729.8 1851.5C723.3 1848.8 714.7 1841.7 716.8 1838.5Z" fill="rgb(76,76,76)"/>
<path d="M554.5 1793.0C576.1 1770.8 667.0 1689.1 690.8 1669.6C714.7 1650.1 719.0 1653.9 697.3 1676.1C675.7 1698.3 584.8 1783.3 561.0 1802.8C537.1 1822.3 532.8 1815.2 554.5 1793.0Z" fill="rgb(76,76,76)"/>
<path d="M653.5 1745.9C654.3 1741.1 660.0 1743.0 663.2 1747.6C666.5 1752.2 670.6 1763.3 673.0 1773.5C675.4 1783.8 677.6 1796.8 677.9 1809.3C678.1 1821.7 676.2 1840.7 674.6 1848.2C673.0 1855.8 669.7 1860.1 668.1 1854.7C666.5 1849.3 666.5 1828.7 664.9 1815.8C663.2 1802.8 660.3 1788.4 658.4 1776.8C656.5 1765.2 652.7 1750.8 653.5 1745.9Z" fill="rgb(230,230,230)"/>
<path d="M690.8 1757.3C691.4 1753.5 694.1 1758.4 695.7 1763.8C697.3 1769.2 700.3 1782.7 700.6 1789.8C700.9 1796.8 698.7 1806.6 697.3 1806.0C696.0 1805.5 693.6 1794.7 692.5 1786.5C691.4 1778.4 690.3 1761.1 690.8 1757.3Z" fill="rgb(230,230,230)"/>
<path d="M712.0 1786.5C712.8 1783.8 716.1 1786.0 716.8 1789.8C717.5 1793.6 717.0 1806.6 716.2 1809.3C715.4 1812.0 712.7 1809.8 712.0 1806.0C711.3 1802.2 711.1 1789.2 712.0 1786.5Z" fill="rgb(230,230,230)"/>
<path d="M748.6 1815.8C751.1 1813.1 761.6 1810.9 765.5 1812.5C769.4 1814.1 772.6 1821.4 772.0 1825.5C771.5 1829.6 765.8 1836.3 762.3 1836.9C758.8 1837.4 753.2 1832.3 750.9 1828.7C748.6 1825.2 746.2 1818.5 748.6 1815.8Z" fill="rgb(230,230,230)"/>
<path d="M853.2 1893.7C854.3 1891.3 863.0 1885.0 866.2 1884.0C869.4 1882.9 873.8 1884.8 872.7 1887.2C871.6 1889.6 863.0 1897.5 859.7 1898.6C856.5 1899.6 852.1 1896.1 853.2 1893.7Z" fill="rgb(230,230,230)"/>
<path d="M629.1 1864.5C630.0 1863.1 636.7 1859.1 637.3 1859.6C637.8 1860.1 633.7 1866.9 632.4 1867.7C631.0 1868.5 628.3 1865.8 629.1 1864.5Z" fill="rgb(230,230,230)"/>
<path d="M781.8 1786.5C782.6 1784.6 788.0 1786.0 788.3 1788.2C788.5 1790.3 784.5 1799.8 783.4 1799.5C782.3 1799.3 781.0 1788.4 781.8 1786.5Z" fill="rgb(230,230,230)"/>
<path d="M811.0 2026.8C811.8 2025.8 815.9 2030.1 817.5 2033.3C819.1 2036.6 821.6 2045.2 820.7 2046.3C819.9 2047.4 814.2 2043.1 812.6 2039.8C811.0 2036.6 810.2 2027.9 811.0 2026.8Z" fill="rgb(230,230,230)"/>
<path d="M888.9 1971.6C889.5 1970.8 896.2 1972.2 897.1 1973.3C897.9 1974.3 895.2 1978.4 893.8 1978.1C892.4 1977.9 888.4 1972.4 888.9 1971.6Z" fill="rgb(230,230,230)"/>
<path d="M833.7 1692.4C834.1 1691.3 837.4 1696.7 837.6 1698.9C837.9 1701.0 836.0 1706.4 835.4 1705.4C834.7 1704.3 833.3 1693.4 833.7 1692.4Z" fill="rgb(230,230,230)"/>
<path d="M593.4 1815.8C594.5 1814.4 603.2 1819.5 606.4 1822.3C609.7 1825.0 614.0 1830.6 612.9 1832.0C611.8 1833.4 603.2 1833.1 599.9 1830.4C596.7 1827.7 592.3 1817.1 593.4 1815.8Z" fill="rgb(5,5,5)"/>
<path d="M802.9 1728.1C804.2 1727.4 809.9 1728.5 811.0 1729.7C812.1 1730.9 810.7 1734.5 809.4 1735.2C808.0 1735.9 804.0 1735.1 802.9 1733.9C801.8 1732.7 801.5 1728.8 802.9 1728.1Z" fill="rgb(5,5,5)"/>
<g fill="rgb(74,74,74)" stroke="rgb(74,74,74)" stroke-width="4.2" stroke-linejoin="round" transform="translate(1 1)">
<polygon points="769.8,1607.8 793.6,1588.8 798.4,1611.0 782.5,1623.7"/>
<polygon points="753.1,1621.9 761.0,1606.0 800.7,1647.3 789.6,1656.8"/>
<polygon points="775.5,1652.2 810.4,1639.5 818.3,1656.9 778.7,1666.4"/>
<polygon points="755.4,1657.9 771.2,1651.6 776.9,1665.9 761.1,1671.3"/>
<polygon points="748.1,1629.8 757.6,1626.6 764.0,1637.7 756.1,1640.9"/>
<polygon points="698.7,1673.0 714.6,1658.7 725.7,1676.2 717.8,1684.1"/>
<polygon points="716.8,1684.5 729.5,1678.1 737.5,1697.2 726.4,1701.9"/>
<polygon points="682.5,1701.1 693.7,1685.2 709.5,1705.8 700.0,1718.5"/>
<polygon points="702.1,1720.3 714.7,1712.4 722.7,1725.1 710.0,1729.8"/>
<polygon points="654.6,1720.5 662.5,1709.4 676.8,1718.9 667.3,1730.0"/>
<polygon points="669.5,1729.1 682.1,1721.2 687.9,1732.3 679.0,1745.0"/>
<polygon points="606.6,1755.5 619.3,1742.9 644.7,1773.0 633.6,1779.3"/>
<polygon points="590.2,1779.2 599.7,1769.6 634.6,1795.0 620.3,1807.7"/>
<polygon points="565.5,1800.6 578.1,1781.5 592.4,1800.6 581.3,1814.8"/>
<polygon points="587.7,1814.9 597.2,1805.4 614.7,1827.6 606.7,1834.0"/>
<polygon points="627.8,1818.4 638.9,1802.6 653.1,1812.1 643.6,1831.1"/>
<polygon points="619.0,1837.7 627.0,1825.0 639.7,1831.3 631.7,1847.2"/>
<polygon points="767.4,1686.0 780.1,1684.4 783.2,1693.9 773.7,1700.3"/>
<polygon points="798.1,1690.9 818.7,1678.2 828.2,1686.2 809.2,1700.4"/>
<polygon points="776.0,1708.6 793.4,1695.9 802.9,1702.2 785.5,1727.6"/>
<polygon points="808.9,1724.7 823.2,1719.9 824.8,1731.0 811.4,1735.2"/>
<polygon points="812.8,1777.0 833.4,1762.7 847.7,1769.0 823.9,1786.5"/>
<polygon points="787.7,1791.5 806.7,1780.4 819.4,1791.5 800.3,1807.4"/>
<polygon points="823.7,1803.6 834.8,1790.9 841.1,1797.3 830.0,1813.1"/>
<polygon points="826.6,1818.3 842.4,1808.8 845.6,1818.3 831.3,1826.2"/>
<polygon points="799.7,1834.8 817.1,1815.8 825.1,1830.0 809.2,1844.3"/>
<polygon points="844.1,1834.6 863.1,1823.5 871.1,1833.0 853.6,1847.3"/>
<polygon points="820.5,1851.2 833.2,1840.1 844.3,1849.6 830.1,1865.4"/>
<polygon points="832.5,1858.7 846.8,1847.6 851.6,1855.5 837.3,1868.2"/>
<polygon points="862.2,1855.7 876.5,1846.1 881.2,1854.1 865.4,1865.2"/>
<polygon points="865.1,1873.4 881.0,1865.5 884.1,1873.4 869.9,1881.3"/>
<polygon points="835.1,1885.7 860.4,1863.5 866.8,1873.0 843.0,1895.2"/>
<polygon points="817.7,1900.2 830.3,1887.5 838.3,1897.0 825.6,1908.2"/>
<polygon points="867.8,1897.0 888.4,1887.5 894.8,1900.2 877.3,1909.7"/>
<polygon points="853.3,1911.8 866.0,1905.5 870.8,1916.6 858.1,1922.0"/>
<polygon points="867.4,1932.7 875.3,1926.4 902.3,1929.5 907.0,1942.2"/>
<polygon points="812.5,1957.5 826.1,1955.3 828.3,1969.3 814.4,1970.2"/>
<polygon points="855.3,1971.0 860.7,1963.0 887.6,1974.1 879.7,1991.6"/>
<polygon points="647.9,1894.8 681.2,1864.6 692.3,1875.7 659.0,1906.8"/>
<polygon points="719.3,1868.9 729.4,1860.9 738.9,1872.0 728.8,1880.6"/>
<polygon points="679.0,1905.1 712.3,1875.6 723.4,1887.7 690.1,1916.8"/>
<polygon points="727.7,1901.8 752.1,1882.8 761.6,1894.5 737.8,1914.5"/>
<polygon points="688.8,1939.2 722.8,1909.1 733.9,1920.2 699.0,1950.4"/>
<polygon points="717.6,1954.1 751.5,1923.9 762.0,1935.0 728.0,1966.1"/>
<polygon points="749.5,1982.1 778.1,1957.6 786.9,1967.8 759.3,1993.2"/>
<polygon points="758.1,2015.2 803.2,1974.0 813.6,1985.1 768.3,2026.3"/>
<polygon points="795.8,2009.1 809.1,1999.6 832.9,2028.2 820.2,2037.7"/>
<polygon points="823.6,1994.3 837.3,1985.4 860.4,2014.0 847.7,2023.5"/>
<polygon points="779.2,2034.3 792.8,2026.4 816.6,2055.0 803.9,2059.7"/>
</g>
</g></g>
<g stroke="#8a8a8a" stroke-width="1.3">
<line x1="702.7" y1="1678.9" x2="684.3" y2="1726.4"/>
<line x1="609.3" y1="1812.3" x2="619.1" y2="1804.9"/>
<line x1="802.0" y1="1711.5" x2="811.8" y2="1725.8"/>
<line x1="821.3" y1="1836.4" x2="830.2" y2="1843.8"/>
<line x1="883.5" y1="1909.0" x2="888.0" y2="1926.8"/>
</g>
<g fill="#14227a" stroke="#14227a" stroke-width="1.1" stroke-linejoin="round" transform="translate(1.2 1.3)">
<polygon points="769.8,1607.8 793.6,1588.8 798.4,1611.0 782.5,1623.7"/>
<polygon points="753.1,1621.9 761.0,1606.0 800.7,1647.3 789.6,1656.8"/>
<polygon points="775.5,1652.2 810.4,1639.5 818.3,1656.9 778.7,1666.4"/>
<polygon points="755.4,1657.9 771.2,1651.6 776.9,1665.9 761.1,1671.3"/>
<polygon points="748.1,1629.8 757.6,1626.6 764.0,1637.7 756.1,1640.9"/>
<polygon points="698.7,1673.0 714.6,1658.7 725.7,1676.2 717.8,1684.1"/>
<polygon points="716.8,1684.5 729.5,1678.1 737.5,1697.2 726.4,1701.9"/>
<polygon points="682.5,1701.1 693.7,1685.2 709.5,1705.8 700.0,1718.5"/>
<polygon points="702.1,1720.3 714.7,1712.4 722.7,1725.1 710.0,1729.8"/>
<polygon points="654.6,1720.5 662.5,1709.4 676.8,1718.9 667.3,1730.0"/>
<polygon points="669.5,1729.1 682.1,1721.2 687.9,1732.3 679.0,1745.0"/>
<polygon points="606.6,1755.5 619.3,1742.9 644.7,1773.0 633.6,1779.3"/>
<polygon points="590.2,1779.2 599.7,1769.6 634.6,1795.0 620.3,1807.7"/>
<polygon points="565.5,1800.6 578.1,1781.5 592.4,1800.6 581.3,1814.8"/>
<polygon points="587.7,1814.9 597.2,1805.4 614.7,1827.6 606.7,1834.0"/>
<polygon points="627.8,1818.4 638.9,1802.6 653.1,1812.1 643.6,1831.1"/>
<polygon points="619.0,1837.7 627.0,1825.0 639.7,1831.3 631.7,1847.2"/>
<polygon points="767.4,1686.0 780.1,1684.4 783.2,1693.9 773.7,1700.3"/>
<polygon points="798.1,1690.9 818.7,1678.2 828.2,1686.2 809.2,1700.4"/>
<polygon points="776.0,1708.6 793.4,1695.9 802.9,1702.2 785.5,1727.6"/>
<polygon points="808.9,1724.7 823.2,1719.9 824.8,1731.0 811.4,1735.2"/>
<polygon points="812.8,1777.0 833.4,1762.7 847.7,1769.0 823.9,1786.5"/>
<polygon points="787.7,1791.5 806.7,1780.4 819.4,1791.5 800.3,1807.4"/>
<polygon points="823.7,1803.6 834.8,1790.9 841.1,1797.3 830.0,1813.1"/>
<polygon points="826.6,1818.3 842.4,1808.8 845.6,1818.3 831.3,1826.2"/>
<polygon points="799.7,1834.8 817.1,1815.8 825.1,1830.0 809.2,1844.3"/>
<polygon points="844.1,1834.6 863.1,1823.5 871.1,1833.0 853.6,1847.3"/>
<polygon points="820.5,1851.2 833.2,1840.1 844.3,1849.6 830.1,1865.4"/>
<polygon points="832.5,1858.7 846.8,1847.6 851.6,1855.5 837.3,1868.2"/>
<polygon points="862.2,1855.7 876.5,1846.1 881.2,1854.1 865.4,1865.2"/>
<polygon points="865.1,1873.4 881.0,1865.5 884.1,1873.4 869.9,1881.3"/>
<polygon points="835.1,1885.7 860.4,1863.5 866.8,1873.0 843.0,1895.2"/>
<polygon points="817.7,1900.2 830.3,1887.5 838.3,1897.0 825.6,1908.2"/>
<polygon points="867.8,1897.0 888.4,1887.5 894.8,1900.2 877.3,1909.7"/>
<polygon points="853.3,1911.8 866.0,1905.5 870.8,1916.6 858.1,1922.0"/>
<polygon points="867.4,1932.7 875.3,1926.4 902.3,1929.5 907.0,1942.2"/>
<polygon points="812.5,1957.5 826.1,1955.3 828.3,1969.3 814.4,1970.2"/>
<polygon points="855.3,1971.0 860.7,1963.0 887.6,1974.1 879.7,1991.6"/>
<polygon points="647.9,1894.8 681.2,1864.6 692.3,1875.7 659.0,1906.8"/>
<polygon points="719.3,1868.9 729.4,1860.9 738.9,1872.0 728.8,1880.6"/>
<polygon points="679.0,1905.1 712.3,1875.6 723.4,1887.7 690.1,1916.8"/>
<polygon points="727.7,1901.8 752.1,1882.8 761.6,1894.5 737.8,1914.5"/>
<polygon points="688.8,1939.2 722.8,1909.1 733.9,1920.2 699.0,1950.4"/>
<polygon points="717.6,1954.1 751.5,1923.9 762.0,1935.0 728.0,1966.1"/>
<polygon points="749.5,1982.1 778.1,1957.6 786.9,1967.8 759.3,1993.2"/>
<polygon points="758.1,2015.2 803.2,1974.0 813.6,1985.1 768.3,2026.3"/>
<polygon points="795.8,2009.1 809.1,1999.6 832.9,2028.2 820.2,2037.7"/>
<polygon points="823.6,1994.3 837.3,1985.4 860.4,2014.0 847.7,2023.5"/>
<polygon points="779.2,2034.3 792.8,2026.4 816.6,2055.0 803.9,2059.7"/>
</g>
<g fill="#fff" stroke="#151515" stroke-width="1.3" stroke-linejoin="round">
<polygon points="769.8,1607.8 793.6,1588.8 798.4,1611.0 782.5,1623.7"/>
<polygon points="753.1,1621.9 761.0,1606.0 800.7,1647.3 789.6,1656.8"/>
<polygon points="775.5,1652.2 810.4,1639.5 818.3,1656.9 778.7,1666.4"/>
<polygon points="755.4,1657.9 771.2,1651.6 776.9,1665.9 761.1,1671.3"/>
<polygon points="748.1,1629.8 757.6,1626.6 764.0,1637.7 756.1,1640.9"/>
<polygon points="698.7,1673.0 714.6,1658.7 725.7,1676.2 717.8,1684.1"/>
<polygon points="716.8,1684.5 729.5,1678.1 737.5,1697.2 726.4,1701.9"/>
<polygon points="682.5,1701.1 693.7,1685.2 709.5,1705.8 700.0,1718.5"/>
<polygon points="702.1,1720.3 714.7,1712.4 722.7,1725.1 710.0,1729.8"/>
<polygon points="654.6,1720.5 662.5,1709.4 676.8,1718.9 667.3,1730.0"/>
<polygon points="669.5,1729.1 682.1,1721.2 687.9,1732.3 679.0,1745.0"/>
<polygon points="606.6,1755.5 619.3,1742.9 644.7,1773.0 633.6,1779.3"/>
<polygon points="590.2,1779.2 599.7,1769.6 634.6,1795.0 620.3,1807.7"/>
<polygon points="565.5,1800.6 578.1,1781.5 592.4,1800.6 581.3,1814.8"/>
<polygon points="587.7,1814.9 597.2,1805.4 614.7,1827.6 606.7,1834.0"/>
<polygon points="627.8,1818.4 638.9,1802.6 653.1,1812.1 643.6,1831.1"/>
<polygon points="619.0,1837.7 627.0,1825.0 639.7,1831.3 631.7,1847.2"/>
<polygon points="767.4,1686.0 780.1,1684.4 783.2,1693.9 773.7,1700.3"/>
<polygon points="798.1,1690.9 818.7,1678.2 828.2,1686.2 809.2,1700.4"/>
<polygon points="776.0,1708.6 793.4,1695.9 802.9,1702.2 785.5,1727.6"/>
<polygon points="808.9,1724.7 823.2,1719.9 824.8,1731.0 811.4,1735.2"/>
<polygon points="812.8,1777.0 833.4,1762.7 847.7,1769.0 823.9,1786.5"/>
<polygon points="787.7,1791.5 806.7,1780.4 819.4,1791.5 800.3,1807.4"/>
<polygon points="823.7,1803.6 834.8,1790.9 841.1,1797.3 830.0,1813.1"/>
<polygon points="826.6,1818.3 842.4,1808.8 845.6,1818.3 831.3,1826.2"/>
<polygon points="799.7,1834.8 817.1,1815.8 825.1,1830.0 809.2,1844.3"/>
<polygon points="844.1,1834.6 863.1,1823.5 871.1,1833.0 853.6,1847.3"/>
<polygon points="820.5,1851.2 833.2,1840.1 844.3,1849.6 830.1,1865.4"/>
<polygon points="832.5,1858.7 846.8,1847.6 851.6,1855.5 837.3,1868.2"/>
<polygon points="862.2,1855.7 876.5,1846.1 881.2,1854.1 865.4,1865.2"/>
<polygon points="865.1,1873.4 881.0,1865.5 884.1,1873.4 869.9,1881.3"/>
<polygon points="835.1,1885.7 860.4,1863.5 866.8,1873.0 843.0,1895.2"/>
<polygon points="817.7,1900.2 830.3,1887.5 838.3,1897.0 825.6,1908.2"/>
<polygon points="867.8,1897.0 888.4,1887.5 894.8,1900.2 877.3,1909.7"/>
<polygon points="853.3,1911.8 866.0,1905.5 870.8,1916.6 858.1,1922.0"/>
<polygon points="867.4,1932.7 875.3,1926.4 902.3,1929.5 907.0,1942.2"/>
<polygon points="812.5,1957.5 826.1,1955.3 828.3,1969.3 814.4,1970.2"/>
<polygon points="855.3,1971.0 860.7,1963.0 887.6,1974.1 879.7,1991.6"/>
<polygon points="647.9,1894.8 681.2,1864.6 692.3,1875.7 659.0,1906.8"/>
<polygon points="719.3,1868.9 729.4,1860.9 738.9,1872.0 728.8,1880.6"/>
<polygon points="679.0,1905.1 712.3,1875.6 723.4,1887.7 690.1,1916.8"/>
<polygon points="727.7,1901.8 752.1,1882.8 761.6,1894.5 737.8,1914.5"/>
<polygon points="688.8,1939.2 722.8,1909.1 733.9,1920.2 699.0,1950.4"/>
<polygon points="717.6,1954.1 751.5,1923.9 762.0,1935.0 728.0,1966.1"/>
<polygon points="749.5,1982.1 778.1,1957.6 786.9,1967.8 759.3,1993.2"/>
<polygon points="758.1,2015.2 803.2,1974.0 813.6,1985.1 768.3,2026.3"/>
<polygon points="795.8,2009.1 809.1,1999.6 832.9,2028.2 820.2,2037.7"/>
<polygon points="823.6,1994.3 837.3,1985.4 860.4,2014.0 847.7,2023.5"/>
<polygon points="779.2,2034.3 792.8,2026.4 816.6,2055.0 803.9,2059.7"/>
</g>
<g transform="translate(772.7 1784.9) rotate(32)"><rect x="-4.3" y="-4.3" width="8.6" height="8.6" fill="#f4f4f4" stroke="#333" stroke-width="0.9"/><circle r="2.3" fill="#fff" stroke="#555" stroke-width="0.8"/></g>
</g>
<polygon points="795.2,1569.4 833.2,1664.7 868.8,1760.8 902.1,1857.7 933.0,1955.5 807.5,2072.5 550.7,1798.2" fill="none" stroke="#1b5a6a" stroke-width="0.7" stroke-opacity="0.8"/>
</g>
<clipPath id="cpc3"><polygon points="1275.2,1567.7 1313.4,1663.7 1349.3,1760.6 1382.8,1858.3 1413.9,1956.9 1287.5,2072.5 1029.8,1796.8"/></clipPath>
<clipPath id="crc3"><rect x="988" y="1531.4" width="476" height="575.6"/></clipPath>
<g clip-path="url(#crc3)"><g clip-path="url(#cpc3)">
<g transform="rotate(70 1293.1 1810.9)" filter="url(#fl3)"><g transform="rotate(-70 1293.1 1810.9)">
<rect x="670" y="1208" width="1104" height="1225" fill="rgb(153,153,153)"/>
<path d="M1216.9 1673.3C1221.5 1667.7 1239.2 1671.9 1244.8 1676.1C1250.4 1680.3 1252.2 1691.0 1250.4 1698.4C1248.5 1705.9 1239.2 1718.9 1233.6 1720.7C1228.0 1722.6 1219.6 1717.5 1216.9 1709.6C1214.1 1701.7 1212.2 1678.9 1216.9 1673.3Z" fill="rgb(76,76,76)"/>
<path d="M1215.8 1729.7C1221.3 1724.2 1233.5 1734.4 1238.1 1740.9C1242.8 1747.4 1246.5 1761.4 1243.7 1768.8C1240.9 1776.3 1227.9 1784.7 1221.3 1785.6C1214.8 1786.5 1205.5 1783.7 1204.6 1774.4C1203.7 1765.1 1210.2 1735.3 1215.8 1729.7Z" fill="rgb(76,76,76)"/>
<path d="M1266.3 1724.8C1274.9 1721.6 1319.3 1725.9 1331.2 1731.3C1343.1 1736.7 1346.4 1754.1 1337.7 1757.3C1329.0 1760.6 1291.2 1756.2 1279.3 1750.8C1267.3 1745.4 1257.6 1728.1 1266.3 1724.8Z" fill="rgb(76,76,76)"/>
<path d="M1272.8 1770.3C1278.2 1766.5 1305.2 1762.7 1311.7 1763.8C1318.2 1764.9 1317.1 1773.0 1311.7 1776.8C1306.3 1780.6 1285.7 1787.6 1279.3 1786.5C1272.8 1785.5 1267.3 1774.1 1272.8 1770.3Z" fill="rgb(76,76,76)"/>
<path d="M1266.3 1802.8C1268.4 1800.1 1277.1 1809.3 1279.3 1815.8C1281.4 1822.3 1281.4 1839.0 1279.3 1841.7C1277.1 1844.4 1268.4 1838.5 1266.3 1832.0C1264.1 1825.5 1264.1 1805.5 1266.3 1802.8Z" fill="rgb(76,76,76)"/>
<path d="M1334.1 1821.4C1336.0 1816.7 1350.9 1816.7 1356.5 1827.0C1362.0 1837.2 1367.6 1871.7 1367.6 1882.8C1367.6 1894.0 1360.2 1898.7 1356.5 1894.0C1352.7 1889.4 1349.0 1867.0 1345.3 1854.9C1341.6 1842.8 1332.3 1826.1 1334.1 1821.4Z" fill="rgb(76,76,76)"/>
<path d="M1272.8 1854.7C1273.8 1852.6 1290.1 1863.4 1292.2 1867.7C1294.4 1872.0 1289.0 1882.9 1285.7 1880.7C1282.5 1878.5 1271.7 1856.9 1272.8 1854.7Z" fill="rgb(76,76,76)"/>
<path d="M1032.5 1789.8C1046.0 1775.2 1107.1 1723.8 1123.4 1711.8C1139.6 1699.9 1143.4 1703.7 1129.9 1718.3C1116.4 1733.0 1058.4 1787.6 1042.2 1799.5C1026.0 1811.4 1018.9 1804.4 1032.5 1789.8Z" fill="rgb(76,76,76)"/>
<path d="M1132.6 1861.2C1133.5 1852.8 1155.9 1849.1 1166.1 1850.1C1176.4 1851.0 1181.0 1853.8 1194.0 1866.8C1207.1 1879.8 1237.8 1913.4 1244.3 1928.2C1250.8 1943.1 1241.5 1953.4 1233.1 1956.2C1224.8 1959.0 1206.1 1954.3 1194.0 1945.0C1181.9 1935.7 1170.8 1914.3 1160.5 1900.3C1150.3 1886.4 1131.7 1869.6 1132.6 1861.2Z" fill="rgb(76,76,76)"/>
<path d="M1240.8 1969.2C1243.6 1964.0 1268.7 1963.6 1279.9 1966.4C1291.0 1969.2 1301.3 1978.0 1307.8 1985.9C1314.3 1993.8 1321.8 2006.4 1319.0 2013.8C1316.2 2021.3 1300.3 2033.4 1291.0 2030.6C1281.7 2027.8 1271.5 2007.3 1263.1 1997.1C1254.7 1986.8 1238.0 1974.3 1240.8 1969.2Z" fill="rgb(76,76,76)"/>
<path d="M1323.0 1952.0C1327.6 1947.3 1351.8 1951.5 1362.0 1954.8C1372.3 1958.0 1385.3 1965.0 1384.4 1971.5C1383.5 1978.1 1364.8 1992.0 1356.5 1993.9C1348.1 1995.7 1339.7 1989.7 1334.1 1982.7C1328.5 1975.7 1318.3 1956.6 1323.0 1952.0Z" fill="rgb(76,76,76)"/>
<path d="M1073.8 1775.6C1079.4 1764.5 1109.1 1745.8 1124.0 1736.5C1138.9 1727.2 1154.8 1718.8 1163.1 1719.8C1171.5 1720.7 1176.2 1730.9 1174.3 1742.1C1172.4 1753.3 1161.3 1774.7 1152.0 1786.8C1142.7 1798.9 1128.7 1811.9 1118.4 1814.7C1108.2 1817.5 1098.0 1810.1 1090.5 1803.6C1083.1 1797.0 1068.2 1786.8 1073.8 1775.6Z" fill="rgb(76,76,76)"/>
<path d="M1290.7 1781.5C1295.3 1767.6 1320.4 1760.1 1329.8 1764.8C1339.1 1769.4 1345.6 1795.5 1346.5 1809.4C1347.4 1823.4 1342.8 1842.0 1335.3 1848.5C1327.9 1855.1 1309.3 1859.7 1301.8 1848.5C1294.4 1837.4 1286.0 1795.5 1290.7 1781.5Z" fill="rgb(76,76,76)"/>
<path d="M1251.7 1604.7C1252.2 1597.7 1259.5 1591.7 1263.0 1591.7C1266.5 1591.7 1269.0 1602.5 1272.8 1604.7C1276.5 1606.9 1281.1 1596.6 1285.7 1604.7C1290.4 1612.8 1297.4 1640.4 1300.4 1653.4C1303.3 1666.4 1304.4 1674.0 1303.6 1682.6C1302.8 1691.3 1297.4 1696.2 1295.5 1705.4C1293.6 1714.6 1293.6 1738.9 1292.2 1737.8C1290.9 1736.7 1289.0 1711.8 1287.4 1698.9C1285.7 1685.9 1284.9 1670.2 1282.5 1659.9C1280.1 1649.6 1276.5 1641.5 1272.8 1637.2C1269.0 1632.8 1263.3 1639.3 1259.8 1633.9C1256.3 1628.5 1251.1 1611.7 1251.7 1604.7Z" fill="rgb(230,230,230)"/>
<path d="M1250.0 1666.4C1250.8 1662.6 1254.4 1659.9 1256.5 1669.6C1258.7 1679.4 1261.4 1707.0 1263.0 1724.8C1264.6 1742.7 1266.0 1761.6 1266.3 1776.8C1266.5 1791.9 1265.7 1814.7 1264.6 1815.8C1263.6 1816.8 1261.1 1797.4 1259.8 1783.3C1258.4 1769.2 1257.9 1746.5 1256.5 1731.3C1255.2 1716.2 1252.7 1703.2 1251.7 1692.4C1250.6 1681.5 1249.2 1670.2 1250.0 1666.4Z" fill="rgb(230,230,230)"/>
<path d="M1238.7 1731.3C1239.9 1724.8 1243.0 1723.8 1243.5 1731.3C1244.1 1738.9 1242.7 1765.4 1241.9 1776.8C1241.1 1788.2 1239.6 1800.6 1238.7 1799.5C1237.7 1798.4 1236.4 1781.7 1236.4 1770.3C1236.4 1758.9 1237.5 1737.8 1238.7 1731.3Z" fill="rgb(230,230,230)"/>
<path d="M1191.6 1750.8C1191.6 1744.3 1193.2 1762.2 1196.4 1770.3C1199.7 1778.4 1210.5 1794.7 1211.1 1799.5C1211.6 1804.4 1201.3 1795.2 1199.7 1799.5C1198.1 1803.9 1201.9 1823.9 1201.3 1825.5C1200.8 1827.1 1198.1 1821.7 1196.4 1809.3C1194.8 1796.8 1191.6 1757.3 1191.6 1750.8Z" fill="rgb(230,230,230)"/>
<path d="M1243.5 1841.7C1246.2 1838.0 1252.7 1833.1 1256.5 1835.2C1260.3 1837.4 1264.6 1845.0 1266.3 1854.7C1267.9 1864.5 1267.3 1881.8 1266.3 1893.7C1265.2 1905.6 1263.0 1918.6 1259.8 1926.2C1256.5 1933.7 1249.5 1941.3 1246.8 1939.2C1244.1 1937.0 1243.5 1922.9 1243.5 1913.2C1243.5 1903.4 1247.3 1889.9 1246.8 1880.7C1246.2 1871.5 1240.8 1864.5 1240.3 1858.0C1239.7 1851.5 1240.8 1845.5 1243.5 1841.7Z" fill="rgb(230,230,230)"/>
<path d="M1287.4 1874.2C1288.7 1871.0 1295.2 1877.5 1297.1 1884.0C1299.0 1890.4 1299.3 1906.1 1298.7 1913.2C1298.2 1920.2 1295.5 1927.8 1293.9 1926.2C1292.2 1924.5 1290.1 1912.1 1289.0 1903.4C1287.9 1894.8 1286.0 1877.5 1287.4 1874.2Z" fill="rgb(230,230,230)"/>
<path d="M1259.8 1939.2C1261.9 1935.4 1275.5 1933.7 1279.3 1935.9C1283.0 1938.1 1283.6 1945.1 1282.5 1952.1C1281.4 1959.2 1275.5 1977.0 1272.8 1978.1C1270.1 1979.2 1268.4 1965.1 1266.3 1958.6C1264.1 1952.1 1257.6 1942.9 1259.8 1939.2Z" fill="rgb(230,230,230)"/>
<path d="M1353.9 1880.7C1355.0 1876.4 1359.4 1879.6 1360.4 1887.2C1361.5 1894.8 1361.2 1916.4 1360.4 1926.2C1359.6 1935.9 1356.6 1947.8 1355.6 1945.7C1354.5 1943.5 1354.2 1924.0 1353.9 1913.2C1353.7 1902.4 1352.9 1885.0 1353.9 1880.7Z" fill="rgb(230,230,230)"/>
<path d="M1220.8 1965.1C1222.5 1961.3 1227.0 1964.1 1227.3 1968.4C1227.6 1972.7 1224.2 1987.3 1222.4 1991.1C1220.7 1994.9 1217.2 1995.4 1216.9 1991.1C1216.6 1986.8 1219.1 1968.9 1220.8 1965.1Z" fill="rgb(230,230,230)"/>
<path d="M1178.6 1864.5C1179.9 1862.6 1184.5 1865.0 1185.1 1867.7C1185.6 1870.4 1183.2 1878.8 1181.8 1880.7C1180.5 1882.6 1177.5 1881.8 1177.0 1879.1C1176.4 1876.4 1177.2 1866.4 1178.6 1864.5Z" fill="rgb(230,230,230)"/>
<path d="M1318.2 1896.9C1319.1 1894.8 1322.6 1899.1 1323.1 1903.4C1323.6 1907.8 1322.4 1920.8 1321.5 1922.9C1320.5 1925.1 1318.1 1920.8 1317.6 1916.4C1317.0 1912.1 1317.3 1899.1 1318.2 1896.9Z" fill="rgb(230,230,230)"/>
<path d="M1178.6 1846.6C1179.7 1845.8 1194.3 1842.0 1201.3 1843.4C1208.4 1844.7 1216.5 1850.7 1220.8 1854.7C1225.1 1858.8 1228.4 1867.4 1227.3 1867.7C1226.2 1868.0 1219.7 1859.6 1214.3 1856.4C1208.9 1853.1 1200.8 1849.9 1194.8 1848.2C1188.9 1846.6 1177.5 1847.4 1178.6 1846.6Z" fill="rgb(230,230,230)"/>
<path d="M1225.7 1802.8C1225.9 1800.6 1229.2 1802.8 1230.5 1806.0C1231.9 1809.3 1234.1 1820.1 1233.8 1822.3C1233.5 1824.4 1230.3 1822.3 1228.9 1819.0C1227.6 1815.8 1225.4 1804.9 1225.7 1802.8Z" fill="rgb(230,230,230)"/>
<path d="M1370.2 1942.4C1371.5 1941.9 1379.1 1946.7 1381.5 1948.9C1384.0 1951.1 1386.1 1954.9 1384.8 1955.4C1383.4 1955.9 1375.9 1954.3 1373.4 1952.1C1371.0 1950.0 1368.8 1942.9 1370.2 1942.4Z" fill="rgb(230,230,230)"/>
<path d="M1321.5 1961.9C1322.0 1959.2 1325.3 1961.3 1326.3 1965.1C1327.4 1968.9 1328.5 1981.9 1328.0 1984.6C1327.4 1987.3 1324.2 1985.2 1323.1 1981.4C1322.0 1977.6 1320.9 1964.6 1321.5 1961.9Z" fill="rgb(230,230,230)"/>
<path d="M1181.8 1705.4C1184.0 1703.2 1194.8 1698.9 1198.1 1698.9C1201.3 1698.9 1203.5 1703.2 1201.3 1705.4C1199.2 1707.5 1188.3 1711.8 1185.1 1711.8C1181.8 1711.8 1179.7 1707.5 1181.8 1705.4Z" fill="rgb(5,5,5)"/>
<path d="M1194.8 1669.6C1197.5 1667.7 1210.8 1665.6 1214.3 1666.4C1217.8 1667.2 1218.6 1672.6 1215.9 1674.5C1213.2 1676.4 1201.6 1678.6 1198.1 1677.8C1194.6 1676.9 1192.1 1671.5 1194.8 1669.6Z" fill="rgb(5,5,5)"/>
<path d="M1276.0 1822.3C1277.3 1821.4 1283.0 1822.5 1284.1 1823.9C1285.2 1825.2 1283.7 1829.6 1282.5 1830.4C1281.3 1831.2 1277.7 1830.1 1276.7 1828.7C1275.6 1827.4 1274.8 1823.1 1276.0 1822.3Z" fill="rgb(5,5,5)"/>
<g fill="rgb(74,74,74)" stroke="rgb(74,74,74)" stroke-width="4.2" stroke-linejoin="round" transform="translate(1 1)">
<polygon points="1218.7,1630.6 1239.3,1615.4 1256.8,1633.8 1237.7,1648.1"/>
<polygon points="1253.2,1649.9 1262.7,1640.4 1275.4,1642.0 1278.5,1657.9 1264.3,1663.6"/>
<polygon points="1184.9,1664.7 1202.4,1650.5 1216.6,1669.5 1194.4,1677.4"/>
<polygon points="1172.7,1677.6 1182.9,1668.1 1198.7,1696.6 1179.7,1701.4"/>
<polygon points="1195.4,1680.8 1217.6,1671.3 1212.9,1693.5 1206.5,1695.1"/>
<polygon points="1120.3,1718.7 1150.5,1691.7 1172.0,1702.8 1169.5,1713.9 1128.3,1726.6"/>
<polygon points="1138.8,1733.1 1168.9,1718.8 1164.2,1731.5 1153.1,1744.2"/>
<polygon points="1101.8,1736.2 1113.9,1731.4 1139.9,1771.1 1130.4,1773.6 1101.8,1764.7"/>
<polygon points="1057.6,1775.6 1071.2,1763.6 1099.8,1785.2 1087.1,1797.2"/>
<polygon points="1046.6,1800.6 1060.8,1788.8 1092.5,1811.7 1076.7,1836.4"/>
<polygon points="1113.5,1794.2 1121.4,1780.9 1157.9,1796.7 1138.8,1813.2"/>
<polygon points="1087.0,1844.7 1101.3,1817.7 1117.2,1825.7 1104.5,1857.4"/>
<polygon points="1113.7,1850.6 1128.0,1822.0 1147.0,1834.7 1126.4,1863.3"/>
<polygon points="1170.3,1763.8 1179.8,1727.4 1188.7,1724.2 1186.8,1766.0"/>
<polygon points="1193.6,1717.4 1205.3,1714.3 1210.7,1739.6 1199.9,1742.8"/>
<polygon points="1195.5,1751.8 1212.9,1747.0 1220.9,1770.8 1198.7,1767.0"/>
<polygon points="1215.3,1706.8 1240.0,1703.3 1235.3,1719.5 1221.0,1721.7"/>
<polygon points="1267.6,1701.7 1286.6,1704.8 1289.8,1722.6 1268.2,1724.8"/>
<polygon points="1293.2,1698.4 1313.8,1691.4 1323.9,1717.4 1296.4,1718.0"/>
<polygon points="1278.0,1784.4 1306.5,1769.1 1316.0,1787.5 1298.6,1809.7 1287.5,1809.1"/>
<polygon points="1312.2,1763.3 1328.0,1754.4 1347.7,1795.7 1331.2,1788.7"/>
<polygon points="1307.5,1813.1 1328.1,1797.3 1344.6,1808.4 1336.0,1825.8"/>
<polygon points="1275.2,1836.8 1291.1,1822.5 1306.9,1827.3 1302.2,1844.7 1281.6,1847.3"/>
<polygon points="1303.4,1847.4 1320.9,1837.9 1330.4,1844.3 1320.9,1858.5"/>
<polygon points="1287.2,1858.8 1299.9,1850.8 1317.3,1863.5 1311.0,1881.0 1295.1,1877.8"/>
<polygon points="1326.0,1874.7 1340.2,1871.6 1354.5,1887.4 1337.1,1904.9 1327.5,1900.1"/>
<polygon points="1363.0,1897.6 1375.0,1889.7 1385.2,1902.4 1376.3,1911.3"/>
<polygon points="1371.4,1918.0 1387.9,1914.9 1394.2,1935.5 1372.0,1936.1"/>
<polygon points="1283.0,1938.7 1294.1,1937.7 1306.8,1949.8 1298.9,1959.3 1283.0,1956.1"/>
<polygon points="1325.6,1964.4 1339.9,1958.0 1354.2,1964.4 1346.3,1980.2"/>
<polygon points="1358.4,1970.4 1369.5,1962.5 1382.2,1968.8 1375.9,1981.5"/>
<polygon points="1345.2,1985.2 1354.8,1977.2 1367.5,1986.7 1356.3,1997.2"/>
<polygon points="1128.7,1891.1 1162.9,1860.0 1172.5,1870.5 1140.1,1900.6"/>
<polygon points="1200.0,1866.6 1211.1,1858.7 1220.6,1868.2 1209.5,1877.7"/>
<polygon points="1160.8,1904.4 1194.1,1874.3 1202.6,1884.4 1170.3,1914.9"/>
<polygon points="1208.5,1899.6 1232.3,1880.5 1241.8,1891.6 1218.0,1909.7"/>
<polygon points="1170.2,1937.0 1204.5,1905.3 1214.0,1916.4 1180.7,1948.1"/>
<polygon points="1197.8,1950.3 1231.7,1920.2 1242.2,1931.3 1208.9,1961.4"/>
<polygon points="1229.1,1978.4 1257.6,1952.0 1267.2,1962.5 1238.6,1989.5"/>
<polygon points="1237.4,2011.5 1281.9,1968.7 1292.0,1979.8 1247.6,2022.6"/>
<polygon points="1276.0,2005.4 1288.7,1996.5 1311.5,2024.4 1298.9,2033.9"/>
<polygon points="1303.3,1989.0 1315.9,1980.4 1339.7,2010.3 1327.0,2019.1"/>
<polygon points="1258.8,2032.1 1272.1,2022.6 1295.3,2051.1 1282.6,2060.0"/>
</g>
</g></g>
<g fill="#14227a" stroke="#14227a" stroke-width="1.1" stroke-linejoin="round" transform="translate(1.2 1.3)">
<polygon points="1218.7,1630.6 1239.3,1615.4 1256.8,1633.8 1237.7,1648.1"/>
<polygon points="1253.2,1649.9 1262.7,1640.4 1275.4,1642.0 1278.5,1657.9 1264.3,1663.6"/>
<polygon points="1184.9,1664.7 1202.4,1650.5 1216.6,1669.5 1194.4,1677.4"/>
<polygon points="1172.7,1677.6 1182.9,1668.1 1198.7,1696.6 1179.7,1701.4"/>
<polygon points="1195.4,1680.8 1217.6,1671.3 1212.9,1693.5 1206.5,1695.1"/>
<polygon points="1120.3,1718.7 1150.5,1691.7 1172.0,1702.8 1169.5,1713.9 1128.3,1726.6"/>
<polygon points="1138.8,1733.1 1168.9,1718.8 1164.2,1731.5 1153.1,1744.2"/>
<polygon points="1101.8,1736.2 1113.9,1731.4 1139.9,1771.1 1130.4,1773.6 1101.8,1764.7"/>
<polygon points="1057.6,1775.6 1071.2,1763.6 1099.8,1785.2 1087.1,1797.2"/>
<polygon points="1046.6,1800.6 1060.8,1788.8 1092.5,1811.7 1076.7,1836.4"/>
<polygon points="1113.5,1794.2 1121.4,1780.9 1157.9,1796.7 1138.8,1813.2"/>
<polygon points="1087.0,1844.7 1101.3,1817.7 1117.2,1825.7 1104.5,1857.4"/>
<polygon points="1113.7,1850.6 1128.0,1822.0 1147.0,1834.7 1126.4,1863.3"/>
<polygon points="1170.3,1763.8 1179.8,1727.4 1188.7,1724.2 1186.8,1766.0"/>
<polygon points="1193.6,1717.4 1205.3,1714.3 1210.7,1739.6 1199.9,1742.8"/>
<polygon points="1195.5,1751.8 1212.9,1747.0 1220.9,1770.8 1198.7,1767.0"/>
<polygon points="1215.3,1706.8 1240.0,1703.3 1235.3,1719.5 1221.0,1721.7"/>
<polygon points="1267.6,1701.7 1286.6,1704.8 1289.8,1722.6 1268.2,1724.8"/>
<polygon points="1293.2,1698.4 1313.8,1691.4 1323.9,1717.4 1296.4,1718.0"/>
<polygon points="1278.0,1784.4 1306.5,1769.1 1316.0,1787.5 1298.6,1809.7 1287.5,1809.1"/>
<polygon points="1312.2,1763.3 1328.0,1754.4 1347.7,1795.7 1331.2,1788.7"/>
<polygon points="1307.5,1813.1 1328.1,1797.3 1344.6,1808.4 1336.0,1825.8"/>
<polygon points="1275.2,1836.8 1291.1,1822.5 1306.9,1827.3 1302.2,1844.7 1281.6,1847.3"/>
<polygon points="1303.4,1847.4 1320.9,1837.9 1330.4,1844.3 1320.9,1858.5"/>
<polygon points="1287.2,1858.8 1299.9,1850.8 1317.3,1863.5 1311.0,1881.0 1295.1,1877.8"/>
<polygon points="1326.0,1874.7 1340.2,1871.6 1354.5,1887.4 1337.1,1904.9 1327.5,1900.1"/>
<polygon points="1363.0,1897.6 1375.0,1889.7 1385.2,1902.4 1376.3,1911.3"/>
<polygon points="1371.4,1918.0 1387.9,1914.9 1394.2,1935.5 1372.0,1936.1"/>
<polygon points="1283.0,1938.7 1294.1,1937.7 1306.8,1949.8 1298.9,1959.3 1283.0,1956.1"/>
<polygon points="1325.6,1964.4 1339.9,1958.0 1354.2,1964.4 1346.3,1980.2"/>
<polygon points="1358.4,1970.4 1369.5,1962.5 1382.2,1968.8 1375.9,1981.5"/>
<polygon points="1345.2,1985.2 1354.8,1977.2 1367.5,1986.7 1356.3,1997.2"/>
<polygon points="1128.7,1891.1 1162.9,1860.0 1172.5,1870.5 1140.1,1900.6"/>
<polygon points="1200.0,1866.6 1211.1,1858.7 1220.6,1868.2 1209.5,1877.7"/>
<polygon points="1160.8,1904.4 1194.1,1874.3 1202.6,1884.4 1170.3,1914.9"/>
<polygon points="1208.5,1899.6 1232.3,1880.5 1241.8,1891.6 1218.0,1909.7"/>
<polygon points="1170.2,1937.0 1204.5,1905.3 1214.0,1916.4 1180.7,1948.1"/>
<polygon points="1197.8,1950.3 1231.7,1920.2 1242.2,1931.3 1208.9,1961.4"/>
<polygon points="1229.1,1978.4 1257.6,1952.0 1267.2,1962.5 1238.6,1989.5"/>
<polygon points="1237.4,2011.5 1281.9,1968.7 1292.0,1979.8 1247.6,2022.6"/>
<polygon points="1276.0,2005.4 1288.7,1996.5 1311.5,2024.4 1298.9,2033.9"/>
<polygon points="1303.3,1989.0 1315.9,1980.4 1339.7,2010.3 1327.0,2019.1"/>
<polygon points="1258.8,2032.1 1272.1,2022.6 1295.3,2051.1 1282.6,2060.0"/>
</g>
<g fill="#fff" stroke="#151515" stroke-width="1.3" stroke-linejoin="round">
<polygon points="1218.7,1630.6 1239.3,1615.4 1256.8,1633.8 1237.7,1648.1"/>
<polygon points="1253.2,1649.9 1262.7,1640.4 1275.4,1642.0 1278.5,1657.9 1264.3,1663.6"/>
<polygon points="1184.9,1664.7 1202.4,1650.5 1216.6,1669.5 1194.4,1677.4"/>
<polygon points="1172.7,1677.6 1182.9,1668.1 1198.7,1696.6 1179.7,1701.4"/>
<polygon points="1195.4,1680.8 1217.6,1671.3 1212.9,1693.5 1206.5,1695.1"/>
<polygon points="1120.3,1718.7 1150.5,1691.7 1172.0,1702.8 1169.5,1713.9 1128.3,1726.6"/>
<polygon points="1138.8,1733.1 1168.9,1718.8 1164.2,1731.5 1153.1,1744.2"/>
<polygon points="1101.8,1736.2 1113.9,1731.4 1139.9,1771.1 1130.4,1773.6 1101.8,1764.7"/>
<polygon points="1057.6,1775.6 1071.2,1763.6 1099.8,1785.2 1087.1,1797.2"/>
<polygon points="1046.6,1800.6 1060.8,1788.8 1092.5,1811.7 1076.7,1836.4"/>
<polygon points="1113.5,1794.2 1121.4,1780.9 1157.9,1796.7 1138.8,1813.2"/>
<polygon points="1087.0,1844.7 1101.3,1817.7 1117.2,1825.7 1104.5,1857.4"/>
<polygon points="1113.7,1850.6 1128.0,1822.0 1147.0,1834.7 1126.4,1863.3"/>
<polygon points="1170.3,1763.8 1179.8,1727.4 1188.7,1724.2 1186.8,1766.0"/>
<polygon points="1193.6,1717.4 1205.3,1714.3 1210.7,1739.6 1199.9,1742.8"/>
<polygon points="1195.5,1751.8 1212.9,1747.0 1220.9,1770.8 1198.7,1767.0"/>
<polygon points="1215.3,1706.8 1240.0,1703.3 1235.3,1719.5 1221.0,1721.7"/>
<polygon points="1267.6,1701.7 1286.6,1704.8 1289.8,1722.6 1268.2,1724.8"/>
<polygon points="1293.2,1698.4 1313.8,1691.4 1323.9,1717.4 1296.4,1718.0"/>
<polygon points="1278.0,1784.4 1306.5,1769.1 1316.0,1787.5 1298.6,1809.7 1287.5,1809.1"/>
<polygon points="1312.2,1763.3 1328.0,1754.4 1347.7,1795.7 1331.2,1788.7"/>
<polygon points="1307.5,1813.1 1328.1,1797.3 1344.6,1808.4 1336.0,1825.8"/>
<polygon points="1275.2,1836.8 1291.1,1822.5 1306.9,1827.3 1302.2,1844.7 1281.6,1847.3"/>
<polygon points="1303.4,1847.4 1320.9,1837.9 1330.4,1844.3 1320.9,1858.5"/>
<polygon points="1287.2,1858.8 1299.9,1850.8 1317.3,1863.5 1311.0,1881.0 1295.1,1877.8"/>
<polygon points="1326.0,1874.7 1340.2,1871.6 1354.5,1887.4 1337.1,1904.9 1327.5,1900.1"/>
<polygon points="1363.0,1897.6 1375.0,1889.7 1385.2,1902.4 1376.3,1911.3"/>
<polygon points="1371.4,1918.0 1387.9,1914.9 1394.2,1935.5 1372.0,1936.1"/>
<polygon points="1283.0,1938.7 1294.1,1937.7 1306.8,1949.8 1298.9,1959.3 1283.0,1956.1"/>
<polygon points="1325.6,1964.4 1339.9,1958.0 1354.2,1964.4 1346.3,1980.2"/>
<polygon points="1358.4,1970.4 1369.5,1962.5 1382.2,1968.8 1375.9,1981.5"/>
<polygon points="1345.2,1985.2 1354.8,1977.2 1367.5,1986.7 1356.3,1997.2"/>
<polygon points="1128.7,1891.1 1162.9,1860.0 1172.5,1870.5 1140.1,1900.6"/>
<polygon points="1200.0,1866.6 1211.1,1858.7 1220.6,1868.2 1209.5,1877.7"/>
<polygon points="1160.8,1904.4 1194.1,1874.3 1202.6,1884.4 1170.3,1914.9"/>
<polygon points="1208.5,1899.6 1232.3,1880.5 1241.8,1891.6 1218.0,1909.7"/>
<polygon points="1170.2,1937.0 1204.5,1905.3 1214.0,1916.4 1180.7,1948.1"/>
<polygon points="1197.8,1950.3 1231.7,1920.2 1242.2,1931.3 1208.9,1961.4"/>
<polygon points="1229.1,1978.4 1257.6,1952.0 1267.2,1962.5 1238.6,1989.5"/>
<polygon points="1237.4,2011.5 1281.9,1968.7 1292.0,1979.8 1247.6,2022.6"/>
<polygon points="1276.0,2005.4 1288.7,1996.5 1311.5,2024.4 1298.9,2033.9"/>
<polygon points="1303.3,1989.0 1315.9,1980.4 1339.7,2010.3 1327.0,2019.1"/>
<polygon points="1258.8,2032.1 1272.1,2022.6 1295.3,2051.1 1282.6,2060.0"/>
</g>
<g transform="translate(1253.9 1783.9) rotate(32)"><rect x="-4.3" y="-4.3" width="8.6" height="8.6" fill="#f4f4f4" stroke="#333" stroke-width="0.9"/><circle r="2.3" fill="#fff" stroke="#555" stroke-width="0.8"/></g>
</g>
<polygon points="1275.2,1567.7 1313.4,1663.7 1349.3,1760.6 1382.8,1858.3 1413.9,1956.9 1287.5,2072.5 1029.8,1796.8" fill="none" stroke="#1b5a6a" stroke-width="0.7" stroke-opacity="0.8"/>
</g>
<rect x="184.30" y="1270.90" width="10.54" height="9.90" fill="#0b14e8"/>
<rect x="194.55" y="1270.90" width="10.54" height="9.90" fill="#1035ea"/>
<rect x="204.79" y="1270.90" width="10.54" height="9.90" fill="#1758ee"/>
<rect x="215.04" y="1270.90" width="10.54" height="9.90" fill="#1b73f1"/>
<rect x="225.28" y="1270.90" width="10.54" height="9.90" fill="#1d89f3"/>
<rect x="235.53" y="1270.90" width="10.54" height="9.90" fill="#1f9df4"/>
<rect x="245.77" y="1270.90" width="10.54" height="9.90" fill="#20b1f6"/>
<rect x="256.01" y="1270.90" width="10.54" height="9.90" fill="#1fc8f8"/>
<rect x="266.26" y="1270.90" width="10.54" height="9.90" fill="#0fe9fb"/>
<rect x="276.50" y="1270.90" width="10.54" height="9.90" fill="#16edc6"/>
<rect x="286.75" y="1270.90" width="10.54" height="9.90" fill="#20df78"/>
<rect x="297.00" y="1270.90" width="10.54" height="9.90" fill="#30e02c"/>
<rect x="307.24" y="1270.90" width="10.54" height="9.90" fill="#a2ec1e"/>
<rect x="317.49" y="1270.90" width="10.54" height="9.90" fill="#fdf00f"/>
<rect x="327.73" y="1270.90" width="10.54" height="9.90" fill="#fdd113"/>
<rect x="337.98" y="1270.90" width="10.54" height="9.90" fill="#fcb417"/>
<rect x="348.22" y="1270.90" width="10.54" height="9.90" fill="#fb9512"/>
<rect x="358.47" y="1270.90" width="10.54" height="9.90" fill="#fa4c0b"/>
<rect x="368.71" y="1270.90" width="10.54" height="9.90" fill="#fa4c0b"/>
<rect x="378.95" y="1270.90" width="10.54" height="9.90" fill="#fa4c0b"/>
<g stroke="#888" stroke-width="0.7">
<line x1="184.3" y1="1265.1" x2="184.3" y2="1270.9"/>
<line x1="192.5" y1="1268.1" x2="192.5" y2="1270.9"/>
<line x1="200.7" y1="1268.1" x2="200.7" y2="1270.9"/>
<line x1="208.9" y1="1268.1" x2="208.9" y2="1270.9"/>
<line x1="217.1" y1="1268.1" x2="217.1" y2="1270.9"/>
<line x1="225.3" y1="1265.1" x2="225.3" y2="1270.9"/>
<line x1="233.5" y1="1268.1" x2="233.5" y2="1270.9"/>
<line x1="241.7" y1="1268.1" x2="241.7" y2="1270.9"/>
<line x1="249.9" y1="1268.1" x2="249.9" y2="1270.9"/>
<line x1="258.1" y1="1268.1" x2="258.1" y2="1270.9"/>
<line x1="266.3" y1="1265.1" x2="266.3" y2="1270.9"/>
<line x1="274.5" y1="1268.1" x2="274.5" y2="1270.9"/>
<line x1="282.7" y1="1268.1" x2="282.7" y2="1270.9"/>
<line x1="290.8" y1="1268.1" x2="290.8" y2="1270.9"/>
<line x1="299.0" y1="1268.1" x2="299.0" y2="1270.9"/>
<line x1="307.2" y1="1265.1" x2="307.2" y2="1270.9"/>
<line x1="315.4" y1="1268.1" x2="315.4" y2="1270.9"/>
<line x1="323.6" y1="1268.1" x2="323.6" y2="1270.9"/>
<line x1="331.8" y1="1268.1" x2="331.8" y2="1270.9"/>
<line x1="340.0" y1="1268.1" x2="340.0" y2="1270.9"/>
<line x1="348.2" y1="1265.1" x2="348.2" y2="1270.9"/>
<line x1="356.4" y1="1268.1" x2="356.4" y2="1270.9"/>
<line x1="364.6" y1="1268.1" x2="364.6" y2="1270.9"/>
<line x1="372.8" y1="1268.1" x2="372.8" y2="1270.9"/>
<line x1="381.0" y1="1268.1" x2="381.0" y2="1270.9"/>
<line x1="389.2" y1="1265.1" x2="389.2" y2="1270.9"/>
</g>
<text x="184.3" y="1260.7" font-size="6.30" fill="#777" text-anchor="middle" font-weight="normal" >0</text>
<text x="225.3" y="1260.7" font-size="6.30" fill="#777" text-anchor="middle" font-weight="normal" >2.5</text>
<text x="266.3" y="1260.7" font-size="6.30" fill="#777" text-anchor="middle" font-weight="normal" >5.1</text>
<text x="307.2" y="1260.7" font-size="6.30" fill="#777" text-anchor="middle" font-weight="normal" >7.6</text>
<text x="348.2" y="1260.7" font-size="6.30" fill="#777" text-anchor="middle" font-weight="normal" >10.2</text>
<text x="389.7" y="1260.7" font-size="6.30" fill="#777" text-anchor="middle" font-weight="normal" >12.74</text>
<text x="220.0" y="1233.9" font-size="7.90" fill="#666" text-anchor="start" font-weight="bold" textLength="76.2" lengthAdjust="spacingAndGlyphs" >Velocity Magnitude</text>
<text x="306.0" y="1233.6" font-size="5.00" fill="#999" text-anchor="start" font-weight="normal" >≡</text>
<text x="326.3" y="1233.6" font-size="7.40" fill="#888" text-anchor="start" font-weight="normal" textLength="13.5" lengthAdjust="spacingAndGlyphs" >m/s</text>
<text x="353.5" y="1233.2" font-size="6.00" fill="#aaa" text-anchor="start" font-weight="normal" >⌄</text>
<rect x="666.30" y="1270.10" width="10.19" height="9.50" fill="#0b14e8"/>
<rect x="676.19" y="1270.10" width="10.19" height="9.50" fill="#1035ea"/>
<rect x="686.08" y="1270.10" width="10.19" height="9.50" fill="#1758ee"/>
<rect x="695.97" y="1270.10" width="10.19" height="9.50" fill="#1b73f1"/>
<rect x="705.86" y="1270.10" width="10.19" height="9.50" fill="#1d89f3"/>
<rect x="715.75" y="1270.10" width="10.19" height="9.50" fill="#1f9df4"/>
<rect x="725.64" y="1270.10" width="10.19" height="9.50" fill="#20b1f6"/>
<rect x="735.53" y="1270.10" width="10.19" height="9.50" fill="#1fc8f8"/>
<rect x="745.42" y="1270.10" width="10.19" height="9.50" fill="#0fe9fb"/>
<rect x="755.31" y="1270.10" width="10.19" height="9.50" fill="#16edc6"/>
<rect x="765.20" y="1270.10" width="10.19" height="9.50" fill="#20df78"/>
<rect x="775.09" y="1270.10" width="10.19" height="9.50" fill="#30e02c"/>
<rect x="784.98" y="1270.10" width="10.19" height="9.50" fill="#a2ec1e"/>
<rect x="794.87" y="1270.10" width="10.19" height="9.50" fill="#fdf00f"/>
<rect x="804.76" y="1270.10" width="10.19" height="9.50" fill="#fdd113"/>
<rect x="814.65" y="1270.10" width="10.19" height="9.50" fill="#fcb417"/>
<rect x="824.54" y="1270.10" width="10.19" height="9.50" fill="#fb9512"/>
<rect x="834.43" y="1270.10" width="10.19" height="9.50" fill="#fb780f"/>
<rect x="844.32" y="1270.10" width="10.19" height="9.50" fill="#fa4c0b"/>
<rect x="854.21" y="1270.10" width="10.19" height="9.50" fill="#f92a09"/>
<g stroke="#888" stroke-width="0.7">
<line x1="666.3" y1="1264.3" x2="666.3" y2="1270.1"/>
<line x1="674.2" y1="1267.3" x2="674.2" y2="1270.1"/>
<line x1="682.1" y1="1267.3" x2="682.1" y2="1270.1"/>
<line x1="690.0" y1="1267.3" x2="690.0" y2="1270.1"/>
<line x1="697.9" y1="1267.3" x2="697.9" y2="1270.1"/>
<line x1="705.9" y1="1264.3" x2="705.9" y2="1270.1"/>
<line x1="713.8" y1="1267.3" x2="713.8" y2="1270.1"/>
<line x1="721.7" y1="1267.3" x2="721.7" y2="1270.1"/>
<line x1="729.6" y1="1267.3" x2="729.6" y2="1270.1"/>
<line x1="737.5" y1="1267.3" x2="737.5" y2="1270.1"/>
<line x1="745.4" y1="1264.3" x2="745.4" y2="1270.1"/>
<line x1="753.3" y1="1267.3" x2="753.3" y2="1270.1"/>
<line x1="761.2" y1="1267.3" x2="761.2" y2="1270.1"/>
<line x1="769.2" y1="1267.3" x2="769.2" y2="1270.1"/>
<line x1="777.1" y1="1267.3" x2="777.1" y2="1270.1"/>
<line x1="785.0" y1="1264.3" x2="785.0" y2="1270.1"/>
<line x1="792.9" y1="1267.3" x2="792.9" y2="1270.1"/>
<line x1="800.8" y1="1267.3" x2="800.8" y2="1270.1"/>
<line x1="808.7" y1="1267.3" x2="808.7" y2="1270.1"/>
<line x1="816.6" y1="1267.3" x2="816.6" y2="1270.1"/>
<line x1="824.5" y1="1264.3" x2="824.5" y2="1270.1"/>
<line x1="832.5" y1="1267.3" x2="832.5" y2="1270.1"/>
<line x1="840.4" y1="1267.3" x2="840.4" y2="1270.1"/>
<line x1="848.3" y1="1267.3" x2="848.3" y2="1270.1"/>
<line x1="856.2" y1="1267.3" x2="856.2" y2="1270.1"/>
<line x1="864.1" y1="1264.3" x2="864.1" y2="1270.1"/>
</g>
<text x="666.3" y="1259.9" font-size="6.30" fill="#777" text-anchor="middle" font-weight="normal" >0</text>
<text x="705.9" y="1259.9" font-size="6.30" fill="#777" text-anchor="middle" font-weight="normal" >2.5</text>
<text x="745.4" y="1259.9" font-size="6.30" fill="#777" text-anchor="middle" font-weight="normal" >5.1</text>
<text x="785.0" y="1259.9" font-size="6.30" fill="#777" text-anchor="middle" font-weight="normal" >7.6</text>
<text x="824.5" y="1259.9" font-size="6.30" fill="#777" text-anchor="middle" font-weight="normal" >10.2</text>
<text x="864.6" y="1259.9" font-size="6.30" fill="#777" text-anchor="middle" font-weight="normal" >12.74</text>
<text x="700.7" y="1233.9" font-size="7.90" fill="#666" text-anchor="start" font-weight="bold" textLength="73.6" lengthAdjust="spacingAndGlyphs" >Velocity Magnitude</text>
<text x="783.8" y="1233.6" font-size="5.00" fill="#999" text-anchor="start" font-weight="normal" >≡</text>
<text x="803.4" y="1233.6" font-size="7.40" fill="#888" text-anchor="start" font-weight="normal" textLength="13.1" lengthAdjust="spacingAndGlyphs" >m/s</text>
<text x="829.7" y="1233.2" font-size="6.00" fill="#aaa" text-anchor="start" font-weight="normal" >⌄</text>
<rect x="1144.30" y="1271.20" width="10.41" height="9.60" fill="#0b14e8"/>
<rect x="1154.40" y="1271.20" width="10.41" height="9.60" fill="#1035ea"/>
<rect x="1164.51" y="1271.20" width="10.41" height="9.60" fill="#1758ee"/>
<rect x="1174.62" y="1271.20" width="10.41" height="9.60" fill="#1b73f1"/>
<rect x="1184.72" y="1271.20" width="10.41" height="9.60" fill="#1d89f3"/>
<rect x="1194.83" y="1271.20" width="10.41" height="9.60" fill="#1f9df4"/>
<rect x="1204.93" y="1271.20" width="10.41" height="9.60" fill="#20b1f6"/>
<rect x="1215.04" y="1271.20" width="10.41" height="9.60" fill="#1fc8f8"/>
<rect x="1225.14" y="1271.20" width="10.41" height="9.60" fill="#0fe9fb"/>
<rect x="1235.25" y="1271.20" width="10.41" height="9.60" fill="#16edc6"/>
<rect x="1245.35" y="1271.20" width="10.41" height="9.60" fill="#20df78"/>
<rect x="1255.45" y="1271.20" width="10.41" height="9.60" fill="#30e02c"/>
<rect x="1265.56" y="1271.20" width="10.41" height="9.60" fill="#a2ec1e"/>
<rect x="1275.66" y="1271.20" width="10.41" height="9.60" fill="#fdf00f"/>
<rect x="1285.77" y="1271.20" width="10.41" height="9.60" fill="#fdd113"/>
<rect x="1295.88" y="1271.20" width="10.41" height="9.60" fill="#fcb417"/>
<rect x="1305.98" y="1271.20" width="10.41" height="9.60" fill="#fb9512"/>
<rect x="1316.09" y="1271.20" width="10.41" height="9.60" fill="#fa4c0b"/>
<rect x="1326.19" y="1271.20" width="10.41" height="9.60" fill="#fa4c0b"/>
<rect x="1336.30" y="1271.20" width="10.41" height="9.60" fill="#fa4c0b"/>
<g stroke="#888" stroke-width="0.7">
<line x1="1144.3" y1="1265.4" x2="1144.3" y2="1271.2"/>
<line x1="1152.4" y1="1268.4" x2="1152.4" y2="1271.2"/>
<line x1="1160.5" y1="1268.4" x2="1160.5" y2="1271.2"/>
<line x1="1168.6" y1="1268.4" x2="1168.6" y2="1271.2"/>
<line x1="1176.6" y1="1268.4" x2="1176.6" y2="1271.2"/>
<line x1="1184.7" y1="1265.4" x2="1184.7" y2="1271.2"/>
<line x1="1192.8" y1="1268.4" x2="1192.8" y2="1271.2"/>
<line x1="1200.9" y1="1268.4" x2="1200.9" y2="1271.2"/>
<line x1="1209.0" y1="1268.4" x2="1209.0" y2="1271.2"/>
<line x1="1217.1" y1="1268.4" x2="1217.1" y2="1271.2"/>
<line x1="1225.1" y1="1265.4" x2="1225.1" y2="1271.2"/>
<line x1="1233.2" y1="1268.4" x2="1233.2" y2="1271.2"/>
<line x1="1241.3" y1="1268.4" x2="1241.3" y2="1271.2"/>
<line x1="1249.4" y1="1268.4" x2="1249.4" y2="1271.2"/>
<line x1="1257.5" y1="1268.4" x2="1257.5" y2="1271.2"/>
<line x1="1265.6" y1="1265.4" x2="1265.6" y2="1271.2"/>
<line x1="1273.6" y1="1268.4" x2="1273.6" y2="1271.2"/>
<line x1="1281.7" y1="1268.4" x2="1281.7" y2="1271.2"/>
<line x1="1289.8" y1="1268.4" x2="1289.8" y2="1271.2"/>
<line x1="1297.9" y1="1268.4" x2="1297.9" y2="1271.2"/>
<line x1="1306.0" y1="1265.4" x2="1306.0" y2="1271.2"/>
<line x1="1314.1" y1="1268.4" x2="1314.1" y2="1271.2"/>
<line x1="1322.1" y1="1268.4" x2="1322.1" y2="1271.2"/>
<line x1="1330.2" y1="1268.4" x2="1330.2" y2="1271.2"/>
<line x1="1338.3" y1="1268.4" x2="1338.3" y2="1271.2"/>
<line x1="1346.4" y1="1265.4" x2="1346.4" y2="1271.2"/>
</g>
<text x="1144.3" y="1261.0" font-size="6.30" fill="#777" text-anchor="middle" font-weight="normal" >0</text>
<text x="1184.7" y="1261.0" font-size="6.30" fill="#777" text-anchor="middle" font-weight="normal" >2.5</text>
<text x="1225.1" y="1261.0" font-size="6.30" fill="#777" text-anchor="middle" font-weight="normal" >5.1</text>
<text x="1265.6" y="1261.0" font-size="6.30" fill="#777" text-anchor="middle" font-weight="normal" >7.6</text>
<text x="1306.0" y="1261.0" font-size="6.30" fill="#777" text-anchor="middle" font-weight="normal" >10.2</text>
<text x="1346.9" y="1261.0" font-size="6.30" fill="#777" text-anchor="middle" font-weight="normal" >12.74</text>
<text x="1179.5" y="1233.9" font-size="7.90" fill="#666" text-anchor="start" font-weight="bold" textLength="75.2" lengthAdjust="spacingAndGlyphs" >Velocity Magnitude</text>
<text x="1264.3" y="1233.6" font-size="5.00" fill="#999" text-anchor="start" font-weight="normal" >≡</text>
<text x="1284.4" y="1233.6" font-size="7.40" fill="#888" text-anchor="start" font-weight="normal" textLength="13.3" lengthAdjust="spacingAndGlyphs" >m/s</text>
<text x="1311.2" y="1233.2" font-size="6.00" fill="#aaa" text-anchor="start" font-weight="normal" >⌄</text>
<g fill="none" stroke="#2b2b2b" stroke-width="1.7" stroke-dasharray="5.2 4.2">
<polygon points="372.1,189.0 444.3,583.2 302.3,677.6 96.3,372.4"/>
<polygon points="849.8,185.8 921.8,580.3 778.4,674.1 574.0,365.7"/>
<polygon points="1328.5,181.8 1399.7,577.5 1255.7,671.8 1052.7,364.7"/>
</g>
<g fill="#fff" stroke="#444" stroke-width="1.2" stroke-linejoin="round">
<path d="M320.3 242.4Q319.1 242.0 320.1 241.3L349.4 221.0Q350.4 220.3 350.7 219.1L352.8 211.9Q353.1 210.8 354.1 211.5L367.1 220.9Q368.0 221.6 368.2 222.8L376.0 272.1Q376.2 273.3 375.1 272.7L362.3 265.7Q361.2 265.1 361.0 263.9L356.0 236.9Q355.8 235.8 354.8 236.4L345.9 242.7Q344.9 243.4 343.8 243.6L333.9 245.8Q332.7 246.1 331.6 245.7Z"/>
<path d="M308.9 250.4Q308.3 249.3 309.4 249.6L323.4 252.6Q324.6 252.9 325.3 253.8L332.0 262.8Q332.7 263.8 333.4 264.7L341.5 276.4Q342.2 277.3 343.4 276.9L353.3 273.1Q354.5 272.7 355.6 273.0L369.6 276.5Q370.8 276.8 369.8 277.4L340.5 296.5Q339.5 297.2 338.9 296.2Z"/>
<path d="M221.1 309.4Q219.9 309.1 220.9 308.5L271.9 273.9Q272.9 273.3 272.8 274.5L271.7 288.4Q271.6 289.6 270.6 290.2L238.1 312.0Q237.1 312.7 235.9 312.4Z"/>
<path d="M287.4 268.4Q287.9 267.3 288.3 268.4L311.9 327.9Q312.3 329.0 311.2 328.5L295.8 322.6Q294.7 322.2 294.2 321.1L280.2 288.0Q279.7 286.8 280.2 285.7Z"/>
<path d="M223.8 326.7Q222.7 326.2 223.8 325.8L239.2 319.4Q240.3 318.9 241.4 319.4L273.2 332.6Q274.3 333.0 274.7 334.2L280.1 348.2Q280.5 349.3 279.4 349.0L260.5 342.9Q259.3 342.6 258.3 342.1Z"/>
<path d="M187.8 330.1Q188.2 329.0 188.8 330.0L214.4 370.1Q215.1 371.1 213.9 370.8L198.6 367.3Q197.4 367.0 196.7 366.0L183.9 347.6Q183.3 346.6 183.6 345.5Z"/>
<path d="M143.7 350.9Q143.0 349.9 144.2 350.1L160.3 353.2Q161.5 353.4 162.2 354.4L173.6 370.1Q174.3 371.1 174.0 372.3L169.9 389.5Q169.7 390.7 169.0 389.6Z"/>
<path d="M119.3 375.3Q118.6 374.3 119.7 374.7L135.9 379.4Q137.1 379.8 137.7 380.8L148.6 396.7Q149.3 397.7 149.1 398.9L146.3 413.4Q146.0 414.6 145.4 413.6Z"/>
<path d="M150.0 422.3Q149.3 421.4 150.3 420.7L178.2 401.7Q179.2 401.0 180.4 401.2L197.6 404.0Q198.8 404.2 197.8 404.9L158.4 431.6Q157.4 432.2 156.7 431.3Z"/>
<path d="M337.9 319.3Q338.2 318.1 339.2 317.5L354.8 308.6Q355.8 308.0 355.6 309.2L346.0 353.1Q345.8 354.2 344.6 354.1L333.4 352.8Q332.2 352.6 332.4 351.4Z"/>
<path d="M366.9 307.1Q366.7 305.9 367.9 305.7L379.9 303.9Q381.1 303.7 381.3 304.9L387.4 342.7Q387.6 343.9 386.7 343.1L371.7 330.6Q370.8 329.8 370.6 328.6Z"/>
<path d="M355.5 342.4Q355.8 341.2 357.0 341.2L370.9 341.7Q372.1 341.7 372.9 342.7L384.9 357.1Q385.7 358.0 384.5 357.9L353.7 354.9Q352.6 354.8 352.8 353.6Z"/>
<path d="M328.4 415.4Q327.3 415.9 327.7 414.8L335.0 396.1Q335.4 395.0 336.6 394.6L366.9 383.2Q368.0 382.8 369.2 383.1L385.9 388.4Q387.1 388.8 386.0 389.2Z"/>
<path d="M376.1 401.5Q375.7 400.4 376.8 400.0L387.3 396.0Q388.4 395.5 388.9 396.6L398.0 417.5Q398.5 418.6 398.1 419.8L391.5 437.9Q391.1 439.0 390.7 437.9Z"/>
<path d="M336.0 433.4Q334.9 433.0 335.9 432.5L352.1 423.3Q353.1 422.7 354.2 423.1L377.8 430.5Q378.9 430.9 379.5 431.9L388.7 448.3Q389.2 449.3 388.1 449.0Z"/>
<path d="M343.2 461.9Q343.0 460.8 344.2 460.6L375.6 455.5Q376.7 455.3 376.0 456.3L364.7 470.2Q364.0 471.1 362.8 471.3L346.1 474.1Q344.9 474.3 344.8 473.2Z"/>
<path d="M350.0 509.6Q349.0 510.2 349.3 509.0L352.8 492.4Q353.1 491.2 354.1 490.5L386.1 469.6Q387.1 468.9 388.3 469.1L406.3 471.5Q407.4 471.6 406.4 472.3Z"/>
<path d="M395.4 489.1Q395.2 487.9 396.4 487.8L407.6 486.7Q408.8 486.6 409.0 487.8L412.7 511.2Q412.9 512.4 412.3 513.4L402.6 529.8Q402.0 530.9 401.8 529.7Z"/>
<path d="M356.1 518.3Q355.0 517.8 356.1 517.3L367.0 512.3Q368.0 511.8 369.2 511.9L379.1 512.3Q380.3 512.4 381.2 513.2L387.5 518.4Q388.4 519.2 388.9 520.3L394.7 533.6Q395.2 534.7 394.1 534.2Z"/>
<path d="M314.8 562.4Q314.2 561.3 315.3 560.7L326.2 554.3Q327.3 553.7 328.5 554.0L344.6 557.8Q345.8 558.0 344.7 558.7L321.5 572.4Q320.5 573.0 319.9 571.9Z"/>
<path d="M348.0 570.6Q347.7 569.5 348.7 570.0L383.3 587.4Q384.3 587.9 383.2 588.3L369.2 593.0Q368.0 593.4 366.9 593.0L358.3 590.2Q357.2 589.8 356.5 588.9L351.1 581.3Q350.4 580.3 350.1 579.2Z"/>
<path d="M183.8 476.3Q182.7 474.3 184.6 473.1L216.2 452.5Q218.0 451.2 219.1 453.2L222.4 458.9Q223.5 460.8 221.7 462.0L190.5 483.4Q188.7 484.7 187.6 482.8Z"/>
<path d="M249.5 462.2Q248.5 460.2 250.5 459.3L258.7 455.4Q260.7 454.5 261.8 456.4L266.4 464.8Q267.5 466.7 265.6 467.8L257.2 472.5Q255.3 473.5 254.3 471.6Z"/>
<path d="M210.4 492.9Q209.1 491.2 210.9 489.9L242.6 468.0Q244.4 466.7 245.7 468.5L249.4 473.9Q250.7 475.7 248.9 477.0L217.7 498.9Q215.9 500.2 214.5 498.4Z"/>
<path d="M253.7 494.7Q252.6 492.8 254.4 491.6L274.3 478.8Q276.2 477.6 277.4 479.4L282.0 486.1Q283.3 487.9 281.4 489.1L261.2 502.5Q259.3 503.7 258.2 501.8Z"/>
<path d="M214.4 523.7Q213.2 521.9 215.0 520.6L246.1 498.7Q247.9 497.4 249.1 499.3L252.7 505.1Q253.9 507.0 252.1 508.2L221.7 530.1Q219.9 531.4 218.7 529.6Z"/>
<path d="M241.0 538.7Q239.8 536.8 241.6 535.6L272.5 514.4Q274.3 513.2 275.5 515.1L279.4 521.4Q280.5 523.3 278.7 524.5L248.1 545.7Q246.3 546.9 245.1 545.1Z"/>
<path d="M261.0 568.6Q259.9 566.7 261.7 565.5L287.4 548.9Q289.2 547.7 290.4 549.6L294.9 556.7Q296.0 558.6 294.2 559.8L268.8 576.9Q267.0 578.2 265.8 576.3Z"/>
<path d="M264.6 599.9Q263.4 598.0 265.3 596.8L307.8 568.5Q309.6 567.3 310.8 569.1L315.2 575.8Q316.4 577.6 314.6 578.8L272.0 607.6Q270.2 608.9 269.1 607.0Z"/>
<path d="M298.5 600.7Q297.4 598.8 299.3 597.8L309.6 592.2Q311.5 591.2 312.6 593.1L326.2 618.6Q327.3 620.5 325.4 621.6L316.2 626.8Q314.2 627.9 313.1 626.0Z"/>
<path d="M325.7 590.9Q324.6 589.0 326.5 588.0L336.2 583.2Q338.2 582.2 339.3 584.1L353.3 608.3Q354.5 610.2 352.6 611.3L343.3 616.7Q341.4 617.8 340.3 615.9Z"/>
<path d="M279.5 620.2Q278.4 618.4 280.3 617.2L287.9 612.7Q289.8 611.6 290.9 613.4L307.6 640.4Q308.8 642.3 306.9 643.4L299.3 647.7Q297.4 648.8 296.2 646.9Z"/>
<polygon points="808.3,219.5 814.5,229.2 842.5,212.1 845.8,233.9 840.3,235.2 845.2,261.0 849.8,261.8 852.6,281.4 799.6,282.8 797.7,270.5 819.9,265.1 810.4,252.9 801.7,255.6 794.7,242.8 800.9,236.6 799.6,231.1"/>
<polygon points="826.2,242.0 837.6,238.5 839.8,261.8 834.9,261.0"/>
<polygon points="735.7,277.3 753.4,265.1 769.7,303.7 757.4,309.9 749.3,297.7 739.8,303.2 754.7,327.6 739.8,330.3 726.2,310.8 718.0,318.1 721.3,324.9 710.4,339.8 690.3,314.0 699.0,303.2 710.4,314.0 718.0,307.2 715.3,303.2 728.9,289.0 737.1,300.4 745.2,295.5"/>
<polygon points="721.3,348.0 730.3,337.9 741.1,346.6 732.2,357.5"/>
<polygon points="598.5,375.2 613.4,357.5 620.2,366.2 628.4,357.5 638.7,351.5 646.8,356.4 646.0,343.9 655.5,329.8 674.6,360.2 659.6,362.4 651.7,358.6 649.0,363.5 662.3,375.2 650.1,386.8 639.2,380.6 632.4,387.4 637.9,399.6 633.8,406.4"/>
<polygon points="622.9,371.1 631.1,366.2 636.5,377.9 628.9,382.0"/>
<polygon points="676.7,383.3 684.1,372.4 696.3,392.3 689.5,395.5"/>
<polygon points="640.6,417.8 663.7,383.3 675.9,395.5 650.1,426.0"/>
<polygon points="794.7,295.5 806.4,295.0 814.5,305.3 796.8,313.5"/>
<polygon points="805.0,319.5 844.4,301.0 851.2,311.3 837.6,320.8 843.0,334.4 860.7,333.0 864.2,352.6 830.8,350.7 829.5,341.2 843.0,337.1 834.9,323.5 824.0,327.6 808.3,339.8"/>
<polygon points="805.0,392.8 845.8,377.1 852.6,386.0 826.7,402.3 829.5,417.3 845.8,408.6 849.8,428.2 830.0,437.7 833.5,445.8 870.2,430.3 877.8,441.2 837.6,468.4 826.7,451.2 830.8,447.2 826.7,439.0 810.4,445.8 805.0,435.8 824.0,421.4 822.7,407.8 815.9,409.1"/>
<polygon points="840.3,481.1 879.7,454.0 882.4,473.0 864.8,485.2 866.1,494.7 877.0,492.0 887.1,506.4 866.1,515.1 870.2,524.6 889.2,528.7 890.6,545.0 858.8,534.1 862.1,526.0 866.1,524.6 862.1,517.8 849.8,520.5 845.8,508.3 860.7,500.2 860.7,485.2 844.4,492.8"/>
<polygon points="819.9,492.8 834.3,483.9 839.0,496.1 825.4,502.3"/>
<polygon points="799.6,549.1 813.2,552.6 809.9,565.4 796.3,561.8"/>
<polygon points="834.3,566.7 839.0,560.8 862.6,574.9 853.9,589.8"/>
<polygon points="659.4,469.3 694.7,446.2 700.2,455.8 665.4,479.7"/>
<polygon points="725.2,455.2 737.4,449.5 744.2,461.7 732.0,468.5"/>
<polygon points="685.8,486.2 721.1,461.7 727.4,470.7 692.6,495.2"/>
<polygon points="729.3,487.8 752.9,472.6 760.0,482.9 736.0,498.7"/>
<polygon points="689.9,516.9 724.6,492.4 730.6,502.0 696.6,526.4"/>
<polygon points="716.5,531.8 751.0,508.2 757.2,518.3 723.0,541.9"/>
<polygon points="736.6,561.7 765.9,542.7 772.7,553.6 743.7,573.2"/>
<polygon points="740.1,593.0 786.3,562.3 793.1,572.6 746.9,603.9"/>
<polygon points="774.1,593.8 788.2,586.2 804.0,615.5 790.9,622.9"/>
<polygon points="801.3,584.0 814.9,577.2 831.2,605.2 818.1,612.8"/>
<polygon points="755.1,613.4 766.5,606.6 785.5,637.3 774.1,643.8"/>
<path d="M1286.7 229.7Q1285.5 228.0 1287.2 226.9L1320.0 205.5Q1321.7 204.4 1322.0 206.4L1327.6 242.4Q1327.9 244.3 1325.9 244.3L1298.4 243.3Q1296.4 243.3 1295.3 241.6Z"/>
<path d="M1257.7 247.5Q1256.5 246.0 1258.3 245.1L1277.8 236.0Q1279.6 235.1 1280.6 236.8L1289.4 250.8Q1290.4 252.5 1288.8 253.6L1273.6 263.9Q1272.0 265.0 1270.7 263.4Z"/>
<path d="M1309.8 255.3Q1309.5 253.3 1311.5 253.3L1327.8 253.3Q1329.8 253.3 1330.1 255.3L1331.5 268.4Q1331.7 270.4 1329.7 270.6L1314.7 272.1Q1312.7 272.3 1312.4 270.4Z"/>
<path d="M1285.8 271.9Q1284.5 270.4 1285.9 269.1L1294.9 260.9Q1296.4 259.6 1298.2 260.5L1304.4 264.0Q1306.2 265.0 1306.3 267.0L1307.1 278.5Q1307.3 280.5 1305.3 280.7L1296.5 281.6Q1294.5 281.8 1293.2 280.3Z"/>
<path d="M1301.6 301.4Q1299.9 300.3 1301.0 298.6L1305.7 291.2Q1306.7 289.5 1308.7 289.5L1333.3 290.0Q1335.3 290.0 1335.6 292.0L1337.1 302.2Q1337.4 304.1 1335.6 304.8L1319.5 311.0Q1317.6 311.7 1315.9 310.7Z"/>
<path d="M1290.0 311.0Q1290.4 309.0 1292.2 309.9L1309.8 318.5Q1311.6 319.3 1311.5 321.3L1310.2 336.9Q1310.0 338.9 1308.0 338.7L1287.0 336.9Q1285.0 336.7 1285.4 334.8Z"/>
<path d="M1317.5 319.2Q1317.6 317.2 1319.6 316.8L1333.3 314.3Q1335.3 313.9 1335.9 315.8L1342.0 336.2Q1342.6 338.1 1340.6 338.0L1318.2 336.3Q1316.2 336.2 1316.4 334.2Z"/>
<path d="M1221.2 274.1Q1220.3 272.3 1222.0 271.2L1235.0 261.8Q1236.6 260.7 1237.7 262.4L1248.1 279.6Q1249.1 281.3 1247.2 281.6L1228.6 284.3Q1226.6 284.6 1225.7 282.8Z"/>
<path d="M1208.2 283.8Q1207.8 281.8 1209.4 280.6L1216.9 274.4Q1218.4 273.2 1219.2 275.0L1229.4 300.4Q1230.1 302.2 1228.1 302.4L1213.6 303.4Q1211.6 303.6 1211.3 301.6Z"/>
<path d="M1229.1 288.6Q1228.5 286.7 1230.4 286.4L1249.9 282.8Q1251.8 282.4 1251.3 284.3L1247.0 298.4Q1246.4 300.3 1244.4 300.5L1235.4 301.5Q1233.4 301.7 1232.7 299.8Z"/>
<path d="M1156.0 311.6Q1155.1 309.8 1156.8 308.7L1181.4 291.9Q1183.1 290.8 1184.9 291.7L1201.1 299.5Q1202.9 300.3 1202.8 302.3L1202.3 309.7Q1202.1 311.7 1200.2 312.1L1162.0 319.0Q1160.0 319.3 1159.1 317.6Z"/>
<path d="M1169.8 327.0Q1168.7 325.3 1170.6 324.8L1196.1 318.2Q1198.0 317.7 1197.9 319.7L1197.6 323.3Q1197.5 325.3 1195.8 326.4L1179.3 337.3Q1177.7 338.4 1176.5 336.7Z"/>
<path d="M1136.7 348.1Q1135.0 347.1 1135.5 345.1L1140.4 327.3Q1141.0 325.3 1143.0 325.1L1149.9 324.2Q1151.8 324.0 1152.7 325.8L1167.8 357.5Q1168.7 359.3 1167.2 360.6L1164.2 363.4Q1162.7 364.7 1161.0 363.7Z"/>
<path d="M1092.1 353.9Q1090.7 352.5 1092.3 351.4L1102.7 344.1Q1104.3 343.0 1105.9 344.1L1127.9 359.5Q1129.6 360.7 1128.1 362.0L1115.3 373.4Q1113.8 374.8 1112.4 373.4Z"/>
<path d="M1078.2 376.5Q1077.1 374.8 1078.8 373.7L1091.0 365.3Q1092.6 364.2 1094.0 365.6L1114.6 387.7Q1116.0 389.2 1114.8 390.8L1101.4 408.8Q1100.2 410.4 1099.1 408.7Z"/>
<path d="M1139.7 381.0Q1138.3 379.7 1139.4 378.0L1145.8 368.3Q1147.0 366.6 1148.8 367.5L1178.6 382.1Q1180.4 382.9 1178.7 384.1L1160.3 397.0Q1158.6 398.2 1157.2 396.8Z"/>
<path d="M1107.5 420.6Q1106.2 419.1 1107.3 417.4L1121.3 397.6Q1122.5 396.0 1124.2 397.1L1134.4 403.6Q1136.1 404.7 1134.7 406.2L1115.7 427.1Q1114.3 428.6 1113.0 427.1Z"/>
<path d="M1122.7 431.5Q1121.4 429.9 1122.8 428.5L1144.5 406.1Q1145.9 404.7 1147.5 405.8L1161.1 415.2Q1162.7 416.4 1161.0 417.5L1130.4 437.5Q1128.8 438.6 1127.5 437.1Z"/>
<path d="M1194.4 360.1Q1192.6 359.3 1193.4 357.5L1204.9 330.4Q1205.7 328.6 1207.6 328.5L1213.7 328.2Q1215.7 328.0 1215.4 330.0L1209.3 364.7Q1208.9 366.6 1207.1 365.8Z"/>
<path d="M1221.3 324.6Q1221.1 322.6 1223.1 322.4L1230.8 321.7Q1232.8 321.5 1233.0 323.5L1235.3 343.7Q1235.5 345.7 1233.6 345.9L1225.0 346.8Q1223.0 347.1 1222.9 345.1Z"/>
<path d="M1217.6 367.3Q1215.7 366.6 1216.2 364.7L1218.8 354.4Q1219.2 352.5 1221.2 352.4L1234.1 352.0Q1236.1 352.0 1236.4 353.9L1239.1 373.6Q1239.3 375.6 1237.5 374.9Z"/>
<path d="M1241.9 326.3Q1240.2 325.3 1240.9 323.5L1244.0 315.8Q1244.8 313.9 1246.8 314.0L1267.5 314.4Q1269.5 314.5 1268.7 316.3L1261.3 334.3Q1260.5 336.2 1258.8 335.3Z"/>
<path d="M1288.3 391.9Q1287.7 390.0 1289.6 389.4L1313.0 382.4Q1314.9 381.8 1315.4 383.8L1319.8 399.5Q1320.3 401.4 1318.9 402.8L1306.8 414.9Q1305.4 416.4 1303.4 416.5L1298.4 417.0Q1296.4 417.2 1295.8 415.3Z"/>
<path d="M1323.1 378.9Q1322.5 377.0 1324.4 376.3L1336.1 372.2Q1338.0 371.5 1338.6 373.4L1350.1 406.3Q1350.8 408.2 1349.5 409.2L1349.3 409.4Q1348.0 410.4 1346.3 409.4L1331.6 401.0Q1329.8 400.1 1329.2 398.1Z"/>
<path d="M1307.9 424.2Q1306.2 423.2 1307.9 422.1L1324.6 412.0Q1326.3 410.9 1328.1 411.9L1342.2 419.5Q1344.0 420.4 1342.7 422.0L1330.3 436.6Q1329.0 438.1 1327.3 437.0Z"/>
<path d="M1277.6 441.3Q1276.8 439.5 1278.5 438.3L1292.9 428.4Q1294.5 427.2 1296.3 428.1L1303.6 431.8Q1305.4 432.7 1305.2 434.7L1304.2 442.9Q1304.0 444.9 1302.1 445.2L1282.9 448.6Q1280.9 449.0 1280.1 447.1Z"/>
<path d="M1303.2 453.2Q1301.8 451.7 1303.7 450.9L1315.7 446.2Q1317.6 445.4 1319.2 446.6L1324.7 450.5Q1326.3 451.7 1325.1 453.3L1316.1 465.0Q1314.9 466.6 1313.6 465.1Z"/>
<path d="M1285.0 462.6Q1284.5 460.7 1286.3 459.8L1295.4 455.3Q1297.2 454.4 1298.6 455.9L1310.3 469.2Q1311.6 470.7 1310.4 472.3L1303.9 480.8Q1302.7 482.4 1300.7 482.0L1292.4 480.6Q1290.4 480.2 1289.9 478.3Z"/>
<path d="M1331.5 466.4Q1329.8 465.3 1330.6 463.4L1336.4 448.9Q1337.2 447.1 1339.1 447.6L1356.4 452.5Q1358.4 453.0 1358.8 455.0L1360.1 461.4Q1360.5 463.4 1359.0 464.6L1346.4 474.1Q1344.8 475.3 1343.1 474.2Z"/>
<path d="M1344.2 488.0Q1343.4 486.2 1345.1 485.0L1361.6 473.2Q1363.3 472.1 1363.4 474.1L1364.2 485.8Q1364.3 487.8 1362.6 488.8L1349.8 496.1Q1348.0 497.1 1347.3 495.2Z"/>
<path d="M1313.8 504.4Q1312.2 503.3 1312.8 501.4L1319.7 480.8Q1320.3 478.9 1322.3 479.1L1329.2 480.0Q1331.2 480.2 1332.3 481.9L1340.4 493.5Q1341.5 495.2 1339.8 496.2L1322.0 507.7Q1320.3 508.8 1318.7 507.6Z"/>
<path d="M1347.2 510.4Q1346.1 508.8 1347.7 507.5L1356.2 501.0Q1357.8 499.8 1358.9 501.5L1364.1 509.8Q1365.2 511.5 1364.8 513.4L1364.2 516.3Q1363.8 518.3 1361.8 518.5L1354.9 519.4Q1352.9 519.6 1351.9 517.9Z"/>
<path d="M1327.1 535.1Q1325.2 534.6 1325.8 532.7L1330.1 518.8Q1330.7 516.9 1332.4 515.9L1342.5 509.8Q1344.2 508.8 1345.1 510.6L1347.2 515.1Q1348.0 516.9 1347.6 518.9L1343.8 537.5Q1343.4 539.5 1341.5 538.9Z"/>
<path d="M1350.0 541.9Q1348.0 541.4 1348.6 539.4L1352.4 525.1Q1352.9 523.2 1354.9 523.5L1364.6 525.5Q1366.5 525.9 1366.8 527.9L1369.0 545.6Q1369.2 547.6 1367.3 547.0Z"/>
<path d="M1269.3 547.2Q1267.3 546.8 1267.9 544.9L1272.2 531.0Q1272.8 529.1 1274.7 529.4L1279.8 530.2Q1281.7 530.5 1282.9 532.1L1288.0 539.7Q1289.1 541.4 1288.5 543.3L1286.9 548.9Q1286.4 550.9 1284.4 550.5Z"/>
<path d="M1304.6 564.7Q1303.5 563.1 1305.1 561.9L1310.5 558.0Q1312.2 556.8 1314.1 557.3L1326.5 560.0Q1328.5 560.4 1328.6 562.4L1328.9 570.6Q1329.0 572.6 1327.2 573.5L1316.7 578.5Q1314.9 579.4 1313.7 577.8Z"/>
<path d="M1334.0 574.0Q1332.6 572.6 1334.0 571.2L1339.2 566.4Q1340.7 565.0 1342.7 565.5L1353.7 568.1Q1355.7 568.5 1355.4 570.5L1354.6 576.1Q1354.3 578.0 1352.6 579.1L1346.5 583.0Q1344.8 584.0 1343.3 582.7Z"/>
<path d="M1318.7 582.4Q1317.6 580.8 1319.4 579.8L1326.7 575.7Q1328.5 574.8 1330.1 576.0L1339.9 583.6Q1341.5 584.8 1339.8 585.9L1328.0 593.3Q1326.3 594.3 1325.2 592.7Z"/>
<path d="M1138.8 468.8Q1137.7 466.8 1139.6 465.6L1171.2 445.0Q1173.0 443.8 1174.1 445.7L1177.4 451.4Q1178.5 453.3 1176.7 454.5L1145.5 475.9Q1143.7 477.2 1142.6 475.3Z"/>
<path d="M1204.5 454.7Q1203.5 452.7 1205.5 451.8L1213.7 447.9Q1215.7 447.0 1216.8 448.9L1221.4 457.3Q1222.5 459.2 1220.6 460.3L1212.2 465.0Q1210.3 466.0 1209.3 464.1Z"/>
<path d="M1165.4 485.4Q1164.1 483.7 1165.9 482.4L1197.6 460.5Q1199.4 459.2 1200.7 461.0L1204.4 466.4Q1205.7 468.2 1203.9 469.5L1172.7 491.4Q1170.9 492.7 1169.5 490.9Z"/>
<path d="M1208.7 487.2Q1207.6 485.3 1209.4 484.1L1229.3 471.3Q1231.2 470.1 1232.4 471.9L1237.0 478.6Q1238.3 480.4 1236.4 481.6L1216.2 495.0Q1214.3 496.2 1213.2 494.3Z"/>
<path d="M1169.4 516.2Q1168.2 514.4 1170.0 513.1L1201.1 491.2Q1202.9 489.9 1204.1 491.8L1207.7 497.6Q1208.9 499.5 1207.1 500.7L1176.7 522.6Q1174.9 523.9 1173.7 522.1Z"/>
<path d="M1196.0 531.2Q1194.8 529.3 1196.6 528.1L1227.5 506.9Q1229.3 505.7 1230.5 507.6L1234.4 513.9Q1235.5 515.8 1233.7 517.0L1203.1 538.2Q1201.3 539.4 1200.1 537.6Z"/>
<path d="M1216.0 561.1Q1214.9 559.2 1216.7 558.0L1242.4 541.4Q1244.2 540.2 1245.4 542.1L1249.9 549.2Q1251.0 551.1 1249.2 552.3L1223.8 569.4Q1222.0 570.7 1220.8 568.8Z"/>
<path d="M1219.6 592.4Q1218.4 590.5 1220.3 589.3L1262.8 561.0Q1264.6 559.8 1265.8 561.6L1270.2 568.3Q1271.4 570.1 1269.6 571.3L1227.0 600.1Q1225.2 601.4 1224.1 599.5Z"/>
<path d="M1253.5 593.2Q1252.4 591.3 1254.3 590.3L1264.6 584.7Q1266.5 583.7 1267.6 585.6L1281.2 611.1Q1282.3 613.0 1280.4 614.1L1271.2 619.3Q1269.2 620.4 1268.1 618.5Z"/>
<path d="M1280.7 583.4Q1279.6 581.5 1281.5 580.5L1291.2 575.7Q1293.2 574.7 1294.3 576.6L1308.3 600.8Q1309.5 602.7 1307.6 603.8L1298.3 609.2Q1296.4 610.3 1295.3 608.4Z"/>
<path d="M1234.5 612.7Q1233.4 610.9 1235.3 609.7L1242.9 605.2Q1244.8 604.1 1245.9 605.9L1262.6 632.9Q1263.8 634.8 1261.9 635.9L1254.3 640.2Q1252.4 641.3 1251.2 639.4Z"/>
</g>
<g fill="none" stroke="#dcdcdc" stroke-width="2">
<rect x="31" y="30" width="1434" height="2499" rx="3" ry="3"/>
<line x1="31" y1="144.3" x2="1465" y2="144.3"/>
<line x1="31" y1="722" x2="1465" y2="722"/>
<line x1="31" y1="1299.4" x2="1465" y2="1299.4"/>
<line x1="31" y1="1530.4" x2="1465" y2="1530.4"/>
<line x1="31" y1="2108" x2="1465" y2="2108"/>
<line x1="509" y1="30" x2="509" y2="1299.4"/>
<line x1="509" y1="1530.4" x2="509" y2="2108"/>
<line x1="987" y1="30" x2="987" y2="1299.4"/>
<line x1="987" y1="1530.4" x2="987" y2="2108"/>
</g>
<text x="270.0" y="96.6" font-size="27.80" fill="#333" text-anchor="middle" font-weight="normal" textLength="110.6" lengthAdjust="spacingAndGlyphs" >Layout 1</text>
<text x="748.0" y="96.6" font-size="27.80" fill="#333" text-anchor="middle" font-weight="normal" textLength="110.6" lengthAdjust="spacingAndGlyphs" >Layout 2</text>
<text x="1226.0" y="96.6" font-size="27.80" fill="#333" text-anchor="middle" font-weight="normal" textLength="110.6" lengthAdjust="spacingAndGlyphs" >Layout 3</text>
<text x="602.9" y="1360.2" font-size="15.50" fill="#555" text-anchor="start" font-weight="bold" textLength="141.2" lengthAdjust="spacingAndGlyphs" >Velocity Magnitude</text>
<circle cx="758.8" cy="1354.8" r="7.6" fill="#fff" stroke="#d0d0d0" stroke-width="1.2"/>
<path d="M755.6 1352.3h6.4M755.6 1354.8h6.4M755.6 1357.3h6.4" stroke="#777" stroke-width="1" fill="none"/>
<text x="799.9" y="1359.6" font-size="14.50" fill="#666" text-anchor="start" font-weight="normal" textLength="25.0" lengthAdjust="spacingAndGlyphs" >m/s</text>
<path d="M848.8 1353l3.5 3.5l3.5-3.5" stroke="#888" stroke-width="1.3" fill="none"/>
<line x1="795.5" y1="1371.6" x2="857.8" y2="1371.6" stroke="#dfe3ea" stroke-width="1.6"/>
<rect x="538.70" y="1419.30" width="19.13" height="16.50" fill="#0b14e8"/>
<rect x="557.54" y="1419.30" width="19.13" height="16.50" fill="#1035ea"/>
<rect x="576.37" y="1419.30" width="19.13" height="16.50" fill="#1758ee"/>
<rect x="595.21" y="1419.30" width="19.13" height="16.50" fill="#1b73f1"/>
<rect x="614.04" y="1419.30" width="19.13" height="16.50" fill="#1d89f3"/>
<rect x="632.88" y="1419.30" width="19.13" height="16.50" fill="#1f9df4"/>
<rect x="651.71" y="1419.30" width="19.13" height="16.50" fill="#20b1f6"/>
<rect x="670.55" y="1419.30" width="19.13" height="16.50" fill="#1fc8f8"/>
<rect x="689.38" y="1419.30" width="19.13" height="16.50" fill="#0fe9fb"/>
<rect x="708.22" y="1419.30" width="19.13" height="16.50" fill="#16edc6"/>
<rect x="727.05" y="1419.30" width="19.13" height="16.50" fill="#20df78"/>
<rect x="745.88" y="1419.30" width="19.13" height="16.50" fill="#30e02c"/>
<rect x="764.72" y="1419.30" width="19.13" height="16.50" fill="#a2ec1e"/>
<rect x="783.56" y="1419.30" width="19.13" height="16.50" fill="#fdf00f"/>
<rect x="802.39" y="1419.30" width="19.13" height="16.50" fill="#fdd113"/>
<rect x="821.23" y="1419.30" width="19.13" height="16.50" fill="#fcb417"/>
<rect x="840.06" y="1419.30" width="19.13" height="16.50" fill="#fb9512"/>
<rect x="858.89" y="1419.30" width="19.13" height="16.50" fill="#fb780f"/>
<rect x="877.73" y="1419.30" width="19.13" height="16.50" fill="#fa4c0b"/>
<rect x="896.57" y="1419.30" width="19.13" height="16.50" fill="#f92a09"/>
<g stroke="#666" stroke-width="1.1">
<line x1="539.2" y1="1408.3" x2="539.2" y2="1419.3"/>
<line x1="553.8" y1="1414.3" x2="553.8" y2="1419.3"/>
<line x1="568.8" y1="1414.3" x2="568.8" y2="1419.3"/>
<line x1="583.9" y1="1414.3" x2="583.9" y2="1419.3"/>
<line x1="599.0" y1="1414.3" x2="599.0" y2="1419.3"/>
<line x1="614.0" y1="1408.3" x2="614.0" y2="1419.3"/>
<line x1="629.1" y1="1414.3" x2="629.1" y2="1419.3"/>
<line x1="644.2" y1="1414.3" x2="644.2" y2="1419.3"/>
<line x1="659.2" y1="1414.3" x2="659.2" y2="1419.3"/>
<line x1="674.3" y1="1414.3" x2="674.3" y2="1419.3"/>
<line x1="689.4" y1="1408.3" x2="689.4" y2="1419.3"/>
<line x1="704.4" y1="1414.3" x2="704.4" y2="1419.3"/>
<line x1="719.5" y1="1414.3" x2="719.5" y2="1419.3"/>
<line x1="734.6" y1="1414.3" x2="734.6" y2="1419.3"/>
<line x1="749.7" y1="1414.3" x2="749.7" y2="1419.3"/>
<line x1="764.7" y1="1408.3" x2="764.7" y2="1419.3"/>
<line x1="779.8" y1="1414.3" x2="779.8" y2="1419.3"/>
<line x1="794.9" y1="1414.3" x2="794.9" y2="1419.3"/>
<line x1="809.9" y1="1414.3" x2="809.9" y2="1419.3"/>
<line x1="825.0" y1="1414.3" x2="825.0" y2="1419.3"/>
<line x1="840.1" y1="1408.3" x2="840.1" y2="1419.3"/>
<line x1="855.1" y1="1414.3" x2="855.1" y2="1419.3"/>
<line x1="870.2" y1="1414.3" x2="870.2" y2="1419.3"/>
<line x1="885.3" y1="1414.3" x2="885.3" y2="1419.3"/>
<line x1="900.3" y1="1414.3" x2="900.3" y2="1419.3"/>
<line x1="914.9" y1="1408.3" x2="914.9" y2="1419.3"/>
</g>
<text x="538.7" y="1402.7" font-size="11.50" fill="#555" text-anchor="middle" font-weight="normal" >0</text>
<text x="614.0" y="1402.7" font-size="11.50" fill="#555" text-anchor="middle" font-weight="normal" >2.5</text>
<text x="689.4" y="1402.7" font-size="11.50" fill="#555" text-anchor="middle" font-weight="normal" >5.1</text>
<text x="764.7" y="1402.7" font-size="11.50" fill="#555" text-anchor="middle" font-weight="normal" >7.6</text>
<text x="840.1" y="1402.7" font-size="11.50" fill="#555" text-anchor="middle" font-weight="normal" >10.2</text>
<text x="915.4" y="1402.7" font-size="11.50" fill="#555" text-anchor="middle" font-weight="normal" >12.74</text>
<line x1="531" y1="1406.5" x2="548" y2="1406.5" stroke="#e3e6ec" stroke-width="1.3"/>
<line x1="889" y1="1406.5" x2="942" y2="1406.5" stroke="#e3e6ec" stroke-width="1.3"/>
<text x="749.3" y="1496.4" font-size="27.60" fill="#333" text-anchor="middle" font-weight="normal" textLength="539.0" lengthAdjust="spacingAndGlyphs" >Wind speed from the north-west direction</text>
<rect x="556.2" y="2164.9" width="11.4" height="43.2" fill="#0000ff"/>
<rect x="556.2" y="2209.1" width="11.4" height="43.2" fill="#1ea0f3"/>
<rect x="556.2" y="2253.3" width="11.4" height="43.8" fill="#00ffff"/>
<rect x="556.2" y="2298.1" width="11.4" height="43.5" fill="#00ff00"/>
<rect x="556.2" y="2342.6" width="11.4" height="42.9" fill="#ffb400"/>
<rect x="556.2" y="2386.5" width="11.4" height="42.7" fill="#ff0000"/>
<g fill="none" stroke="#dedede" stroke-width="1.35">
<rect x="569.6" y="2165.4" width="27.8" height="42.0"/>
<rect x="599.6" y="2165.4" width="74.2" height="42.0"/>
<rect x="676.0" y="2165.4" width="56.0" height="42.0"/>
<rect x="734.2" y="2165.4" width="191.8" height="42.0"/>
<rect x="569.6" y="2209.6" width="27.8" height="42.0"/>
<rect x="599.6" y="2209.6" width="74.2" height="42.0"/>
<rect x="676.0" y="2209.6" width="56.0" height="42.0"/>
<rect x="734.2" y="2209.6" width="191.8" height="42.0"/>
<rect x="569.6" y="2253.8" width="27.8" height="42.6"/>
<rect x="599.6" y="2253.8" width="74.2" height="42.6"/>
<rect x="676.0" y="2253.8" width="56.0" height="42.6"/>
<rect x="734.2" y="2253.8" width="191.8" height="42.6"/>
<rect x="569.6" y="2298.6" width="27.8" height="42.3"/>
<rect x="599.6" y="2298.6" width="74.2" height="42.3"/>
<rect x="676.0" y="2298.6" width="56.0" height="42.3"/>
<rect x="734.2" y="2298.6" width="191.8" height="42.3"/>
<rect x="569.6" y="2343.1" width="27.8" height="41.7"/>
<rect x="599.6" y="2343.1" width="74.2" height="41.7"/>
<rect x="676.0" y="2343.1" width="56.0" height="41.7"/>
<rect x="734.2" y="2343.1" width="191.8" height="41.7"/>
<rect x="569.6" y="2387.0" width="27.8" height="41.5"/>
<rect x="599.6" y="2387.0" width="74.2" height="41.5"/>
<rect x="676.0" y="2387.0" width="56.0" height="41.5"/>
<rect x="734.2" y="2387.0" width="191.8" height="41.5"/>
</g>
<text x="577.0" y="2193.7" font-size="20.00" fill="#555" text-anchor="start" font-weight="normal" >A</text>
<text x="607.6" y="2193.7" font-size="20.00" fill="#555" text-anchor="start" font-weight="normal" textLength="47.5" lengthAdjust="spacingAndGlyphs" >2 m/s</text>
<text x="683.2" y="2193.7" font-size="20.00" fill="#555" text-anchor="start" font-weight="normal" textLength="43.0" lengthAdjust="spacingAndGlyphs" >&lt; 5%</text>
<text x="741.1" y="2193.7" font-size="20.00" fill="#555" text-anchor="start" font-weight="normal" textLength="140.4" lengthAdjust="spacingAndGlyphs" >Outdoor Dining</text>
<text x="577.0" y="2237.9" font-size="20.00" fill="#555" text-anchor="start" font-weight="normal" >B</text>
<text x="607.6" y="2237.9" font-size="20.00" fill="#555" text-anchor="start" font-weight="normal" textLength="47.5" lengthAdjust="spacingAndGlyphs" >4 m/s</text>
<text x="683.2" y="2237.9" font-size="20.00" fill="#555" text-anchor="start" font-weight="normal" textLength="43.0" lengthAdjust="spacingAndGlyphs" >&lt; 5%</text>
<text x="741.1" y="2237.9" font-size="20.00" fill="#555" text-anchor="start" font-weight="normal" textLength="158.6" lengthAdjust="spacingAndGlyphs" >Pedestrian Sitting</text>
<text x="577.0" y="2282.1" font-size="20.00" fill="#555" text-anchor="start" font-weight="normal" >C</text>
<text x="607.6" y="2282.1" font-size="20.00" fill="#555" text-anchor="start" font-weight="normal" textLength="47.5" lengthAdjust="spacingAndGlyphs" >6 m/s</text>
<text x="683.2" y="2282.1" font-size="20.00" fill="#555" text-anchor="start" font-weight="normal" textLength="43.0" lengthAdjust="spacingAndGlyphs" >&lt; 5%</text>
<text x="741.1" y="2282.1" font-size="20.00" fill="#555" text-anchor="start" font-weight="normal" textLength="181.6" lengthAdjust="spacingAndGlyphs" >Pedestrian Standing</text>
<text x="577.0" y="2326.9" font-size="20.00" fill="#555" text-anchor="start" font-weight="normal" >D</text>
<text x="607.6" y="2326.9" font-size="20.00" fill="#555" text-anchor="start" font-weight="normal" textLength="47.5" lengthAdjust="spacingAndGlyphs" >8 m/s</text>
<text x="683.2" y="2326.9" font-size="20.00" fill="#555" text-anchor="start" font-weight="normal" textLength="43.0" lengthAdjust="spacingAndGlyphs" >&lt; 5%</text>
<text x="741.1" y="2326.9" font-size="20.00" fill="#555" text-anchor="start" font-weight="normal" textLength="173.6" lengthAdjust="spacingAndGlyphs" >Pedestrian Walking</text>
<text x="577.0" y="2371.4" font-size="20.00" fill="#555" text-anchor="start" font-weight="normal" >E</text>
<text x="607.6" y="2371.4" font-size="20.00" fill="#555" text-anchor="start" font-weight="normal" textLength="59.5" lengthAdjust="spacingAndGlyphs" >10 m/s</text>
<text x="683.2" y="2371.4" font-size="20.00" fill="#555" text-anchor="start" font-weight="normal" textLength="43.0" lengthAdjust="spacingAndGlyphs" >&lt; 5%</text>
<text x="741.1" y="2371.4" font-size="20.00" fill="#555" text-anchor="start" font-weight="normal" textLength="155.5" lengthAdjust="spacingAndGlyphs" >Business Walking</text>
<text x="577.0" y="2415.3" font-size="20.00" fill="#555" text-anchor="start" font-weight="normal" >U</text>
<text x="607.6" y="2415.3" font-size="20.00" fill="#555" text-anchor="start" font-weight="normal" textLength="59.5" lengthAdjust="spacingAndGlyphs" >10 m/s</text>
<text x="683.2" y="2415.3" font-size="20.00" fill="#555" text-anchor="start" font-weight="normal" textLength="43.0" lengthAdjust="spacingAndGlyphs" >&gt; 5%</text>
<text x="741.1" y="2415.3" font-size="20.00" fill="#555" text-anchor="start" font-weight="normal" textLength="135.2" lengthAdjust="spacingAndGlyphs" >Uncomfortable</text>
<text x="748.2" y="2489.7" font-size="27.60" fill="#333" text-anchor="middle" font-weight="normal" textLength="741.6" lengthAdjust="spacingAndGlyphs" >Pedestrian wind comfort using the Lawson comfort criteria</text>
</svg></body></html>
